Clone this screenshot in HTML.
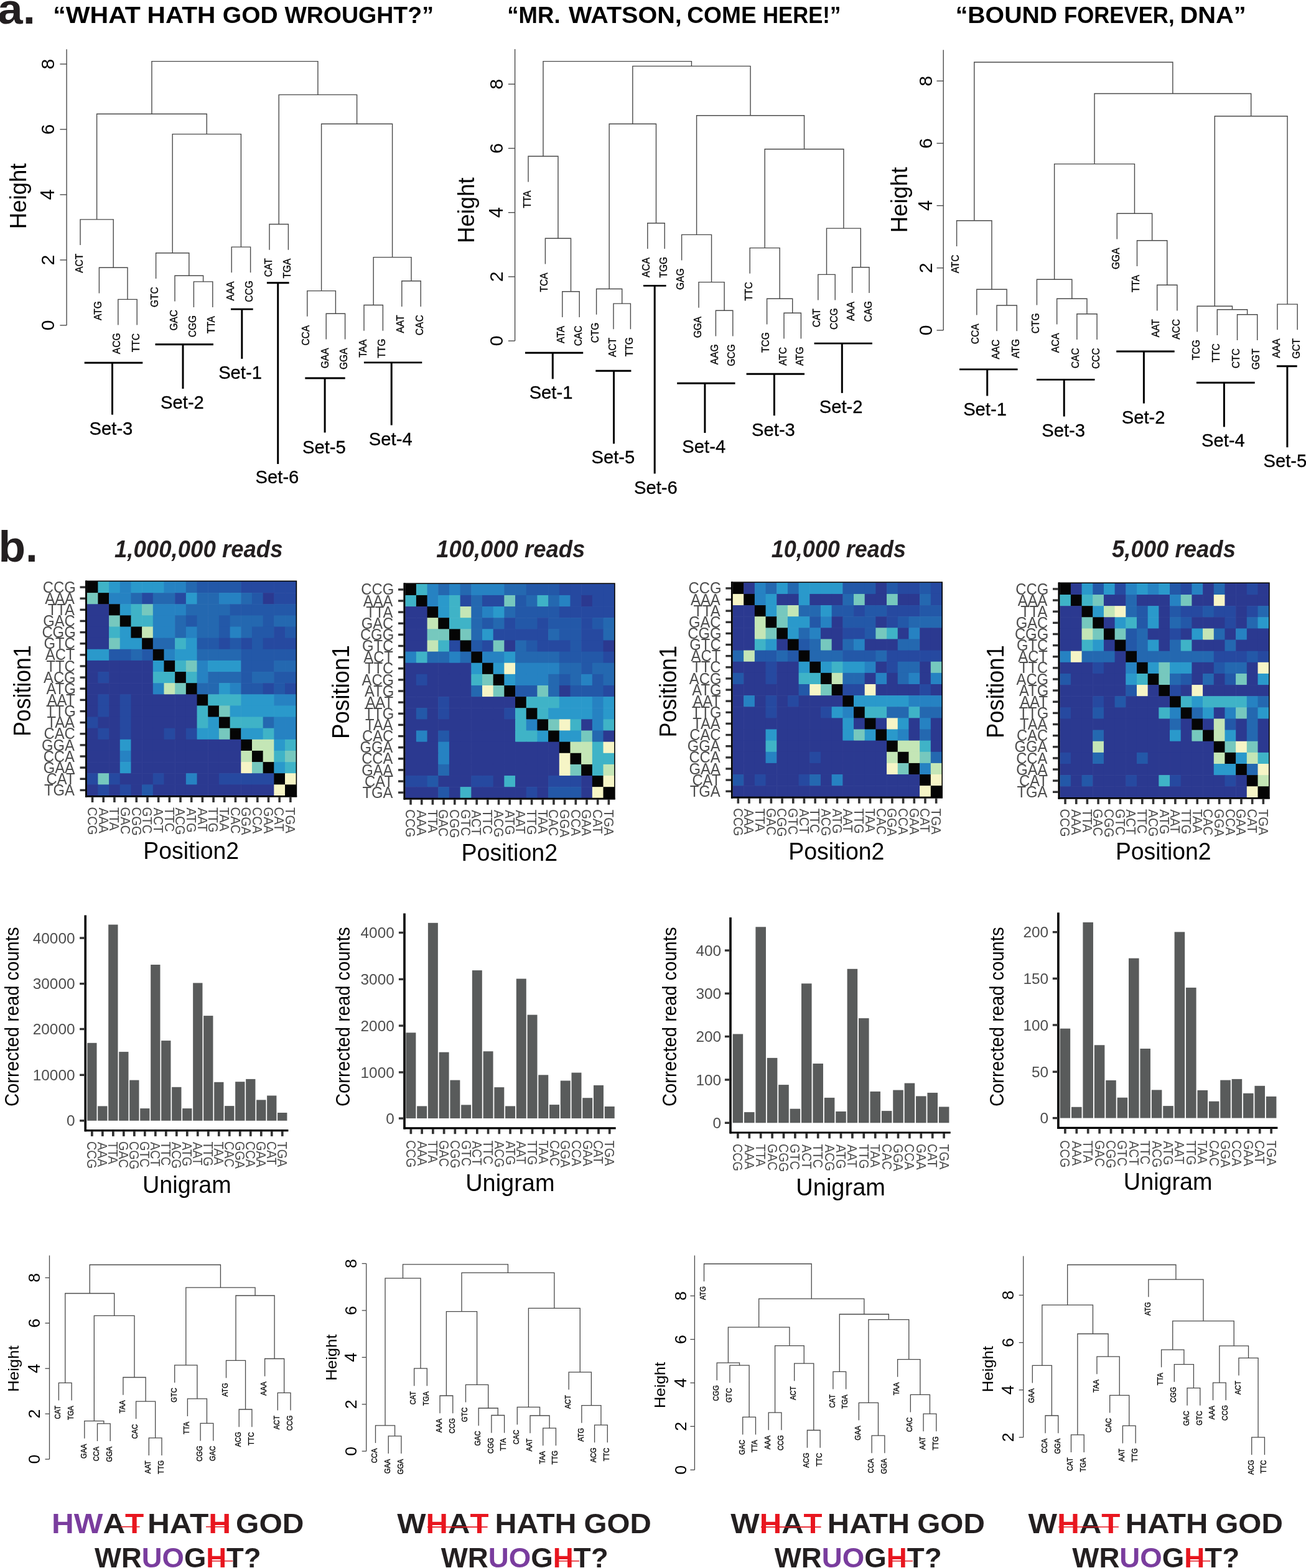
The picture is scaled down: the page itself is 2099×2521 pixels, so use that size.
<!DOCTYPE html>
<html><head><meta charset="utf-8"><title>Figure</title>
<style>html,body{margin:0;padding:0;background:#fff;} svg{display:block;}</style>
</head><body>
<svg width="2099" height="2521" viewBox="0 0 2099 2521">
<rect width="2099" height="2521" fill="#fff"/>
<text transform="translate(-3.68,37.80) scale(1.0469,1)" font-family="'Liberation Sans', Arial, sans-serif" font-weight="bold" font-style="normal" font-size="69.40" fill="#231f20">a.</text>
<text transform="translate(85.22,36.70) scale(1.0904,1)" font-family="'Liberation Sans', Arial, sans-serif" font-weight="bold" font-style="normal" font-size="37.67" fill="#000">“WHAT</text>
<text transform="translate(236.56,36.70) scale(1.0783,1)" font-family="'Liberation Sans', Arial, sans-serif" font-weight="bold" font-style="normal" font-size="37.67" fill="#000">HATH</text>
<text transform="translate(357.84,36.70) scale(1.0352,1)" font-family="'Liberation Sans', Arial, sans-serif" font-weight="bold" font-style="normal" font-size="37.67" fill="#000">GOD</text>
<text transform="translate(457.40,36.70) scale(0.9958,1)" font-family="'Liberation Sans', Arial, sans-serif" font-weight="bold" font-style="normal" font-size="37.67" fill="#000">WROUGHT?”</text>
<text transform="translate(815.35,36.70) scale(0.9698,1)" font-family="'Liberation Sans', Arial, sans-serif" font-weight="bold" font-style="normal" font-size="37.67" fill="#000">“MR.</text>
<text transform="translate(914.10,36.70) scale(1.0506,1)" font-family="'Liberation Sans', Arial, sans-serif" font-weight="bold" font-style="normal" font-size="37.67" fill="#000">WATSON,</text>
<text transform="translate(1104.21,36.70) scale(0.9872,1)" font-family="'Liberation Sans', Arial, sans-serif" font-weight="bold" font-style="normal" font-size="37.67" fill="#000">COME</text>
<text transform="translate(1226.06,36.70) scale(0.9203,1)" font-family="'Liberation Sans', Arial, sans-serif" font-weight="bold" font-style="normal" font-size="37.67" fill="#000">HERE!”</text>
<text transform="translate(1535.65,36.70) scale(1.0421,1)" font-family="'Liberation Sans', Arial, sans-serif" font-weight="bold" font-style="normal" font-size="37.67" fill="#000">“BOUND</text>
<text transform="translate(1709.95,36.70) scale(0.9226,1)" font-family="'Liberation Sans', Arial, sans-serif" font-weight="bold" font-style="normal" font-size="37.67" fill="#000">FOREVER,</text>
<text transform="translate(1896.41,36.70) scale(1.0576,1)" font-family="'Liberation Sans', Arial, sans-serif" font-weight="bold" font-style="normal" font-size="37.67" fill="#000">DNA”</text>
<line x1="107.10" y1="79.30" x2="107.10" y2="523.00" stroke="#4a4a4a" stroke-width="1.4" stroke-linecap="butt"/>
<line x1="96.40" y1="523.00" x2="107.10" y2="523.00" stroke="#4a4a4a" stroke-width="1.4" stroke-linecap="butt"/>
<text transform="translate(87.20,531.47) rotate(-90) scale(1.0000,1)" font-family="'Liberation Sans', Arial, sans-serif" font-weight="normal" font-style="normal" font-size="30.39" fill="#000">0</text>
<line x1="96.40" y1="418.00" x2="107.10" y2="418.00" stroke="#4a4a4a" stroke-width="1.4" stroke-linecap="butt"/>
<text transform="translate(87.20,426.43) rotate(-90) scale(1.0000,1)" font-family="'Liberation Sans', Arial, sans-serif" font-weight="normal" font-style="normal" font-size="30.39" fill="#000">2</text>
<line x1="96.40" y1="313.00" x2="107.10" y2="313.00" stroke="#4a4a4a" stroke-width="1.4" stroke-linecap="butt"/>
<text transform="translate(87.20,321.48) rotate(-90) scale(1.0000,1)" font-family="'Liberation Sans', Arial, sans-serif" font-weight="normal" font-style="normal" font-size="30.84" fill="#000">4</text>
<line x1="96.40" y1="208.00" x2="107.10" y2="208.00" stroke="#4a4a4a" stroke-width="1.4" stroke-linecap="butt"/>
<text transform="translate(87.20,216.55) rotate(-90) scale(1.0000,1)" font-family="'Liberation Sans', Arial, sans-serif" font-weight="normal" font-style="normal" font-size="30.39" fill="#000">6</text>
<line x1="96.40" y1="103.00" x2="107.10" y2="103.00" stroke="#4a4a4a" stroke-width="1.4" stroke-linecap="butt"/>
<text transform="translate(87.20,111.43) rotate(-90) scale(1.0000,1)" font-family="'Liberation Sans', Arial, sans-serif" font-weight="normal" font-style="normal" font-size="30.39" fill="#000">8</text>
<text transform="translate(41.75,368.22) rotate(-90) scale(0.9694,1)" font-family="'Liberation Sans', Arial, sans-serif" font-weight="normal" font-style="normal" font-size="37.73" fill="#000">Height</text>
<path d="M189.80,481.40V521.90M220.20,481.40V521.90M189.80,481.40H220.20M159.40,430.20V470.70M205.00,430.20V481.40M159.40,430.20H205.00M129.00,352.90V393.40M182.20,352.90V430.20M129.00,352.90H182.20M311.40,452.90V493.40M341.80,452.90V493.40M311.40,452.90H341.80M281.00,443.30V483.80M326.60,443.30V452.90M281.00,443.30H326.60M250.60,406.70V447.20M303.80,406.70V443.30M250.60,406.70H303.80M372.20,397.10V437.60M402.60,397.10V437.60M372.20,397.10H402.60M277.20,215.60V406.70M387.40,215.60V397.10M277.20,215.60H387.40M155.60,183.30V352.90M332.30,183.30V215.60M155.60,183.30H332.30M433.00,360.50V401.00M463.40,360.50V401.00M433.00,360.50H463.40M524.20,504.30V544.80M554.60,504.30V544.80M524.20,504.30H554.60M493.80,467.60V508.10M539.40,467.60V504.30M493.80,467.60H539.40M585.00,490.50V531.00M615.40,490.50V531.00M585.00,490.50H615.40M645.80,451.70V492.20M676.20,451.70V492.20M645.80,451.70H676.20M600.20,413.60V490.50M661.00,413.60V451.70M600.20,413.60H661.00M516.60,199.30V467.60M630.60,199.30V413.60M516.60,199.30H630.60M448.20,152.40V360.50M573.60,152.40V199.30M448.20,152.40H573.60M243.95,98.60V183.30M510.90,98.60V152.40M243.95,98.60H510.90" fill="none" stroke="#4a4a4a" stroke-width="1.4" stroke-linecap="square"/>
<text transform="translate(193.40,569.13) rotate(-90) scale(0.9190,1)" font-family="'Liberation Sans', Arial, sans-serif" font-weight="normal" font-style="normal" font-size="16.92" fill="#000" stroke="#000" stroke-width="0.35">ACG</text>
<text transform="translate(223.80,566.26) rotate(-90) scale(0.9190,1)" font-family="'Liberation Sans', Arial, sans-serif" font-weight="normal" font-style="normal" font-size="16.92" fill="#000" stroke="#000" stroke-width="0.35">TTC</text>
<text transform="translate(163.00,515.02) rotate(-90) scale(0.9190,1)" font-family="'Liberation Sans', Arial, sans-serif" font-weight="normal" font-style="normal" font-size="16.92" fill="#000" stroke="#000" stroke-width="0.35">ATG</text>
<text transform="translate(132.60,438.84) rotate(-90) scale(0.9190,1)" font-family="'Liberation Sans', Arial, sans-serif" font-weight="normal" font-style="normal" font-size="16.92" fill="#000" stroke="#000" stroke-width="0.35">ACT</text>
<text transform="translate(315.00,542.34) rotate(-90) scale(0.9190,1)" font-family="'Liberation Sans', Arial, sans-serif" font-weight="normal" font-style="normal" font-size="16.92" fill="#000" stroke="#000" stroke-width="0.35">CGG</text>
<text transform="translate(345.40,536.28) rotate(-90) scale(0.9058,1)" font-family="'Liberation Sans', Arial, sans-serif" font-weight="normal" font-style="normal" font-size="17.16" fill="#000" stroke="#000" stroke-width="0.35">TTA</text>
<text transform="translate(284.60,531.61) rotate(-90) scale(0.9190,1)" font-family="'Liberation Sans', Arial, sans-serif" font-weight="normal" font-style="normal" font-size="16.92" fill="#000" stroke="#000" stroke-width="0.35">GAC</text>
<text transform="translate(254.20,494.12) rotate(-90) scale(0.9190,1)" font-family="'Liberation Sans', Arial, sans-serif" font-weight="normal" font-style="normal" font-size="16.92" fill="#000" stroke="#000" stroke-width="0.35">GTC</text>
<text transform="translate(375.80,483.39) rotate(-90) scale(0.9058,1)" font-family="'Liberation Sans', Arial, sans-serif" font-weight="normal" font-style="normal" font-size="17.16" fill="#000" stroke="#000" stroke-width="0.35">AAA</text>
<text transform="translate(406.20,485.69) rotate(-90) scale(0.9190,1)" font-family="'Liberation Sans', Arial, sans-serif" font-weight="normal" font-style="normal" font-size="16.92" fill="#000" stroke="#000" stroke-width="0.35">CCG</text>
<text transform="translate(436.60,445.28) rotate(-90) scale(0.9190,1)" font-family="'Liberation Sans', Arial, sans-serif" font-weight="normal" font-style="normal" font-size="16.92" fill="#000" stroke="#000" stroke-width="0.35">CAT</text>
<text transform="translate(467.00,447.61) rotate(-90) scale(0.9190,1)" font-family="'Liberation Sans', Arial, sans-serif" font-weight="normal" font-style="normal" font-size="16.92" fill="#000" stroke="#000" stroke-width="0.35">TGA</text>
<text transform="translate(527.80,592.30) rotate(-90) scale(0.9190,1)" font-family="'Liberation Sans', Arial, sans-serif" font-weight="normal" font-style="normal" font-size="16.92" fill="#000" stroke="#000" stroke-width="0.35">GAA</text>
<text transform="translate(558.20,594.01) rotate(-90) scale(0.9190,1)" font-family="'Liberation Sans', Arial, sans-serif" font-weight="normal" font-style="normal" font-size="16.92" fill="#000" stroke="#000" stroke-width="0.35">GGA</text>
<text transform="translate(497.40,555.60) rotate(-90) scale(0.9190,1)" font-family="'Liberation Sans', Arial, sans-serif" font-weight="normal" font-style="normal" font-size="16.92" fill="#000" stroke="#000" stroke-width="0.35">CCA</text>
<text transform="translate(588.60,574.73) rotate(-90) scale(0.9058,1)" font-family="'Liberation Sans', Arial, sans-serif" font-weight="normal" font-style="normal" font-size="17.16" fill="#000" stroke="#000" stroke-width="0.35">TAA</text>
<text transform="translate(619.00,575.63) rotate(-90) scale(0.9190,1)" font-family="'Liberation Sans', Arial, sans-serif" font-weight="normal" font-style="normal" font-size="16.92" fill="#000" stroke="#000" stroke-width="0.35">TTG</text>
<text transform="translate(649.40,535.62) rotate(-90) scale(0.9058,1)" font-family="'Liberation Sans', Arial, sans-serif" font-weight="normal" font-style="normal" font-size="17.16" fill="#000" stroke="#000" stroke-width="0.35">AAT</text>
<text transform="translate(679.80,539.16) rotate(-90) scale(0.9190,1)" font-family="'Liberation Sans', Arial, sans-serif" font-weight="normal" font-style="normal" font-size="16.92" fill="#000" stroke="#000" stroke-width="0.35">CAC</text>
<line x1="827.60" y1="79.00" x2="827.60" y2="548.10" stroke="#4a4a4a" stroke-width="1.4" stroke-linecap="butt"/>
<line x1="816.90" y1="548.10" x2="827.60" y2="548.10" stroke="#4a4a4a" stroke-width="1.4" stroke-linecap="butt"/>
<text transform="translate(808.40,556.57) rotate(-90) scale(1.0000,1)" font-family="'Liberation Sans', Arial, sans-serif" font-weight="normal" font-style="normal" font-size="30.39" fill="#000">0</text>
<line x1="816.90" y1="444.90" x2="827.60" y2="444.90" stroke="#4a4a4a" stroke-width="1.4" stroke-linecap="butt"/>
<text transform="translate(808.40,453.33) rotate(-90) scale(1.0000,1)" font-family="'Liberation Sans', Arial, sans-serif" font-weight="normal" font-style="normal" font-size="30.39" fill="#000">2</text>
<line x1="816.90" y1="341.70" x2="827.60" y2="341.70" stroke="#4a4a4a" stroke-width="1.4" stroke-linecap="butt"/>
<text transform="translate(808.40,350.18) rotate(-90) scale(1.0000,1)" font-family="'Liberation Sans', Arial, sans-serif" font-weight="normal" font-style="normal" font-size="30.84" fill="#000">4</text>
<line x1="816.90" y1="238.50" x2="827.60" y2="238.50" stroke="#4a4a4a" stroke-width="1.4" stroke-linecap="butt"/>
<text transform="translate(808.40,247.05) rotate(-90) scale(1.0000,1)" font-family="'Liberation Sans', Arial, sans-serif" font-weight="normal" font-style="normal" font-size="30.39" fill="#000">6</text>
<line x1="816.90" y1="135.30" x2="827.60" y2="135.30" stroke="#4a4a4a" stroke-width="1.4" stroke-linecap="butt"/>
<text transform="translate(808.40,143.73) rotate(-90) scale(1.0000,1)" font-family="'Liberation Sans', Arial, sans-serif" font-weight="normal" font-style="normal" font-size="30.39" fill="#000">8</text>
<text transform="translate(761.85,391.02) rotate(-90) scale(0.9694,1)" font-family="'Liberation Sans', Arial, sans-serif" font-weight="normal" font-style="normal" font-size="37.73" fill="#000">Height</text>
<path d="M903.80,468.80V509.30M931.20,468.80V509.30M903.80,468.80H931.20M876.40,383.30V423.80M917.50,383.30V468.80M876.40,383.30H917.50M849.00,251.20V291.70M896.95,251.20V383.30M849.00,251.20H896.95M986.00,488.10V528.60M1013.40,488.10V528.60M986.00,488.10H1013.40M958.60,464.50V505.00M999.70,464.50V488.10M958.60,464.50H999.70M1040.80,358.80V399.30M1068.20,358.80V399.30M1040.80,358.80H1068.20M979.15,199.30V464.50M1054.50,199.30V358.80M979.15,199.30H1054.50M1150.40,499.30V539.80M1177.80,499.30V539.80M1150.40,499.30H1177.80M1123.00,453.60V494.10M1164.10,453.60V499.30M1123.00,453.60H1164.10M1095.60,377.40V417.90M1143.55,377.40V453.60M1095.60,377.40H1143.55M1260.00,503.30V543.80M1287.40,503.30V543.80M1260.00,503.30H1287.40M1232.60,480.20V520.70M1273.70,480.20V503.30M1232.60,480.20H1273.70M1205.20,398.60V439.10M1253.15,398.60V480.20M1205.20,398.60H1253.15M1314.80,441.40V481.90M1342.20,441.40V481.90M1314.80,441.40H1342.20M1369.60,429.80V470.30M1397.00,429.80V470.30M1369.60,429.80H1397.00M1328.50,367.10V441.40M1383.30,367.10V429.80M1328.50,367.10H1383.30M1229.18,239.80V398.60M1355.90,239.80V367.10M1229.18,239.80H1355.90M1119.57,185.70V377.40M1292.54,185.70V239.80M1119.57,185.70H1292.54M1016.83,106.40V199.30M1206.06,106.40V185.70M1016.83,106.40H1206.06M872.98,98.60V251.20M1111.44,98.60V106.40M872.98,98.60H1111.44" fill="none" stroke="#4a4a4a" stroke-width="1.4" stroke-linecap="square"/>
<text transform="translate(907.40,551.91) rotate(-90) scale(0.9058,1)" font-family="'Liberation Sans', Arial, sans-serif" font-weight="normal" font-style="normal" font-size="17.16" fill="#000" stroke="#000" stroke-width="0.35">ATA</text>
<text transform="translate(934.80,556.26) rotate(-90) scale(0.9190,1)" font-family="'Liberation Sans', Arial, sans-serif" font-weight="normal" font-style="normal" font-size="16.92" fill="#000" stroke="#000" stroke-width="0.35">CAC</text>
<text transform="translate(880.00,469.55) rotate(-90) scale(0.9190,1)" font-family="'Liberation Sans', Arial, sans-serif" font-weight="normal" font-style="normal" font-size="16.92" fill="#000" stroke="#000" stroke-width="0.35">TCA</text>
<text transform="translate(852.60,334.58) rotate(-90) scale(0.9058,1)" font-family="'Liberation Sans', Arial, sans-serif" font-weight="normal" font-style="normal" font-size="17.16" fill="#000" stroke="#000" stroke-width="0.35">TTA</text>
<text transform="translate(989.60,574.04) rotate(-90) scale(0.9190,1)" font-family="'Liberation Sans', Arial, sans-serif" font-weight="normal" font-style="normal" font-size="16.92" fill="#000" stroke="#000" stroke-width="0.35">ACT</text>
<text transform="translate(1017.00,573.23) rotate(-90) scale(0.9190,1)" font-family="'Liberation Sans', Arial, sans-serif" font-weight="normal" font-style="normal" font-size="16.92" fill="#000" stroke="#000" stroke-width="0.35">TTG</text>
<text transform="translate(962.20,551.34) rotate(-90) scale(0.9190,1)" font-family="'Liberation Sans', Arial, sans-serif" font-weight="normal" font-style="normal" font-size="16.92" fill="#000" stroke="#000" stroke-width="0.35">CTG</text>
<text transform="translate(1044.40,445.95) rotate(-90) scale(0.9190,1)" font-family="'Liberation Sans', Arial, sans-serif" font-weight="normal" font-style="normal" font-size="16.92" fill="#000" stroke="#000" stroke-width="0.35">ACA</text>
<text transform="translate(1071.80,446.49) rotate(-90) scale(0.9190,1)" font-family="'Liberation Sans', Arial, sans-serif" font-weight="normal" font-style="normal" font-size="16.92" fill="#000" stroke="#000" stroke-width="0.35">TGG</text>
<text transform="translate(1154.00,586.18) rotate(-90) scale(0.9190,1)" font-family="'Liberation Sans', Arial, sans-serif" font-weight="normal" font-style="normal" font-size="16.92" fill="#000" stroke="#000" stroke-width="0.35">AAG</text>
<text transform="translate(1181.40,588.74) rotate(-90) scale(0.9190,1)" font-family="'Liberation Sans', Arial, sans-serif" font-weight="normal" font-style="normal" font-size="16.92" fill="#000" stroke="#000" stroke-width="0.35">GCG</text>
<text transform="translate(1126.60,543.31) rotate(-90) scale(0.9190,1)" font-family="'Liberation Sans', Arial, sans-serif" font-weight="normal" font-style="normal" font-size="16.92" fill="#000" stroke="#000" stroke-width="0.35">GGA</text>
<text transform="translate(1099.20,465.99) rotate(-90) scale(0.9190,1)" font-family="'Liberation Sans', Arial, sans-serif" font-weight="normal" font-style="normal" font-size="16.92" fill="#000" stroke="#000" stroke-width="0.35">GAG</text>
<text transform="translate(1263.60,587.84) rotate(-90) scale(0.9190,1)" font-family="'Liberation Sans', Arial, sans-serif" font-weight="normal" font-style="normal" font-size="16.92" fill="#000" stroke="#000" stroke-width="0.35">ATC</text>
<text transform="translate(1291.00,588.12) rotate(-90) scale(0.9190,1)" font-family="'Liberation Sans', Arial, sans-serif" font-weight="normal" font-style="normal" font-size="16.92" fill="#000" stroke="#000" stroke-width="0.35">ATG</text>
<text transform="translate(1236.20,567.04) rotate(-90) scale(0.9190,1)" font-family="'Liberation Sans', Arial, sans-serif" font-weight="normal" font-style="normal" font-size="16.92" fill="#000" stroke="#000" stroke-width="0.35">TCG</text>
<text transform="translate(1208.80,483.46) rotate(-90) scale(0.9190,1)" font-family="'Liberation Sans', Arial, sans-serif" font-weight="normal" font-style="normal" font-size="16.92" fill="#000" stroke="#000" stroke-width="0.35">TTC</text>
<text transform="translate(1318.40,526.18) rotate(-90) scale(0.9190,1)" font-family="'Liberation Sans', Arial, sans-serif" font-weight="normal" font-style="normal" font-size="16.92" fill="#000" stroke="#000" stroke-width="0.35">CAT</text>
<text transform="translate(1345.80,529.99) rotate(-90) scale(0.9190,1)" font-family="'Liberation Sans', Arial, sans-serif" font-weight="normal" font-style="normal" font-size="16.92" fill="#000" stroke="#000" stroke-width="0.35">CCG</text>
<text transform="translate(1373.20,516.09) rotate(-90) scale(0.9058,1)" font-family="'Liberation Sans', Arial, sans-serif" font-weight="normal" font-style="normal" font-size="17.16" fill="#000" stroke="#000" stroke-width="0.35">AAA</text>
<text transform="translate(1400.60,517.53) rotate(-90) scale(0.9190,1)" font-family="'Liberation Sans', Arial, sans-serif" font-weight="normal" font-style="normal" font-size="16.92" fill="#000" stroke="#000" stroke-width="0.35">CAG</text>
<line x1="1516.20" y1="80.20" x2="1516.20" y2="531.00" stroke="#4a4a4a" stroke-width="1.4" stroke-linecap="butt"/>
<line x1="1505.50" y1="531.00" x2="1516.20" y2="531.00" stroke="#4a4a4a" stroke-width="1.4" stroke-linecap="butt"/>
<text transform="translate(1497.80,539.47) rotate(-90) scale(1.0000,1)" font-family="'Liberation Sans', Arial, sans-serif" font-weight="normal" font-style="normal" font-size="30.39" fill="#000">0</text>
<line x1="1505.50" y1="430.80" x2="1516.20" y2="430.80" stroke="#4a4a4a" stroke-width="1.4" stroke-linecap="butt"/>
<text transform="translate(1497.80,439.23) rotate(-90) scale(1.0000,1)" font-family="'Liberation Sans', Arial, sans-serif" font-weight="normal" font-style="normal" font-size="30.39" fill="#000">2</text>
<line x1="1505.50" y1="330.60" x2="1516.20" y2="330.60" stroke="#4a4a4a" stroke-width="1.4" stroke-linecap="butt"/>
<text transform="translate(1497.80,339.08) rotate(-90) scale(1.0000,1)" font-family="'Liberation Sans', Arial, sans-serif" font-weight="normal" font-style="normal" font-size="30.84" fill="#000">4</text>
<line x1="1505.50" y1="230.40" x2="1516.20" y2="230.40" stroke="#4a4a4a" stroke-width="1.4" stroke-linecap="butt"/>
<text transform="translate(1497.80,238.95) rotate(-90) scale(1.0000,1)" font-family="'Liberation Sans', Arial, sans-serif" font-weight="normal" font-style="normal" font-size="30.39" fill="#000">6</text>
<line x1="1505.50" y1="130.20" x2="1516.20" y2="130.20" stroke="#4a4a4a" stroke-width="1.4" stroke-linecap="butt"/>
<text transform="translate(1497.80,138.63) rotate(-90) scale(1.0000,1)" font-family="'Liberation Sans', Arial, sans-serif" font-weight="normal" font-style="normal" font-size="30.39" fill="#000">8</text>
<text transform="translate(1458.35,374.32) rotate(-90) scale(0.9694,1)" font-family="'Liberation Sans', Arial, sans-serif" font-weight="normal" font-style="normal" font-size="37.73" fill="#000">Height</text>
<path d="M1602.02,491.00V531.50M1634.23,491.00V531.50M1602.02,491.00H1634.23M1569.81,465.20V505.70M1618.12,465.20V491.00M1569.81,465.20H1618.12M1537.60,354.80V395.30M1593.97,354.80V465.20M1537.60,354.80H1593.97M1730.86,504.80V545.30M1763.07,504.80V545.30M1730.86,504.80H1763.07M1698.65,480.20V520.70M1746.96,480.20V504.80M1698.65,480.20H1746.96M1666.44,449.30V489.80M1722.81,449.30V480.20M1666.44,449.30H1722.81M1859.70,458.30V498.80M1891.91,458.30V498.80M1859.70,458.30H1891.91M1827.49,386.70V427.20M1875.80,386.70V458.30M1827.49,386.70H1875.80M1795.28,343.30V383.80M1851.65,343.30V386.70M1795.28,343.30H1851.65M1694.62,263.60V449.30M1823.46,263.60V343.30M1694.62,263.60H1823.46M1988.54,505.70V546.20M2020.75,505.70V546.20M1988.54,505.70H2020.75M1956.33,497.70V538.20M2004.64,497.70V505.70M1956.33,497.70H2004.64M1924.12,492.20V532.70M1980.49,492.20V497.70M1924.12,492.20H1980.49M2052.96,489.10V529.60M2085.17,489.10V529.60M2052.96,489.10H2085.17M1952.30,186.70V492.20M2069.07,186.70V489.10M1952.30,186.70H2069.07M1759.04,150.50V263.60M2010.68,150.50V186.70M1759.04,150.50H2010.68M1565.78,100.00V354.80M1884.86,100.00V150.50M1565.78,100.00H1884.86" fill="none" stroke="#4a4a4a" stroke-width="1.4" stroke-linecap="square"/>
<text transform="translate(1605.62,577.60) rotate(-90) scale(0.9190,1)" font-family="'Liberation Sans', Arial, sans-serif" font-weight="normal" font-style="normal" font-size="16.92" fill="#000" stroke="#000" stroke-width="0.35">AAC</text>
<text transform="translate(1637.83,575.82) rotate(-90) scale(0.9190,1)" font-family="'Liberation Sans', Arial, sans-serif" font-weight="normal" font-style="normal" font-size="16.92" fill="#000" stroke="#000" stroke-width="0.35">ATG</text>
<text transform="translate(1573.41,553.20) rotate(-90) scale(0.9190,1)" font-family="'Liberation Sans', Arial, sans-serif" font-weight="normal" font-style="normal" font-size="16.92" fill="#000" stroke="#000" stroke-width="0.35">CCA</text>
<text transform="translate(1541.20,439.34) rotate(-90) scale(0.9190,1)" font-family="'Liberation Sans', Arial, sans-serif" font-weight="normal" font-style="normal" font-size="16.92" fill="#000" stroke="#000" stroke-width="0.35">ATC</text>
<text transform="translate(1734.46,592.26) rotate(-90) scale(0.9190,1)" font-family="'Liberation Sans', Arial, sans-serif" font-weight="normal" font-style="normal" font-size="16.92" fill="#000" stroke="#000" stroke-width="0.35">CAC</text>
<text transform="translate(1766.67,593.11) rotate(-90) scale(0.9190,1)" font-family="'Liberation Sans', Arial, sans-serif" font-weight="normal" font-style="normal" font-size="16.92" fill="#000" stroke="#000" stroke-width="0.35">CCC</text>
<text transform="translate(1702.25,567.35) rotate(-90) scale(0.9190,1)" font-family="'Liberation Sans', Arial, sans-serif" font-weight="normal" font-style="normal" font-size="16.92" fill="#000" stroke="#000" stroke-width="0.35">ACA</text>
<text transform="translate(1670.04,536.14) rotate(-90) scale(0.9190,1)" font-family="'Liberation Sans', Arial, sans-serif" font-weight="normal" font-style="normal" font-size="16.92" fill="#000" stroke="#000" stroke-width="0.35">CTG</text>
<text transform="translate(1863.30,542.22) rotate(-90) scale(0.9058,1)" font-family="'Liberation Sans', Arial, sans-serif" font-weight="normal" font-style="normal" font-size="17.16" fill="#000" stroke="#000" stroke-width="0.35">AAT</text>
<text transform="translate(1895.51,545.76) rotate(-90) scale(0.9190,1)" font-family="'Liberation Sans', Arial, sans-serif" font-weight="normal" font-style="normal" font-size="16.92" fill="#000" stroke="#000" stroke-width="0.35">ACC</text>
<text transform="translate(1831.09,470.08) rotate(-90) scale(0.9058,1)" font-family="'Liberation Sans', Arial, sans-serif" font-weight="normal" font-style="normal" font-size="17.16" fill="#000" stroke="#000" stroke-width="0.35">TTA</text>
<text transform="translate(1798.88,433.01) rotate(-90) scale(0.9190,1)" font-family="'Liberation Sans', Arial, sans-serif" font-weight="normal" font-style="normal" font-size="16.92" fill="#000" stroke="#000" stroke-width="0.35">GGA</text>
<text transform="translate(1992.14,592.27) rotate(-90) scale(0.9190,1)" font-family="'Liberation Sans', Arial, sans-serif" font-weight="normal" font-style="normal" font-size="16.92" fill="#000" stroke="#000" stroke-width="0.35">CTC</text>
<text transform="translate(2024.35,594.21) rotate(-90) scale(0.9190,1)" font-family="'Liberation Sans', Arial, sans-serif" font-weight="normal" font-style="normal" font-size="16.92" fill="#000" stroke="#000" stroke-width="0.35">GGT</text>
<text transform="translate(1959.93,582.56) rotate(-90) scale(0.9190,1)" font-family="'Liberation Sans', Arial, sans-serif" font-weight="normal" font-style="normal" font-size="16.92" fill="#000" stroke="#000" stroke-width="0.35">TTC</text>
<text transform="translate(1927.72,579.04) rotate(-90) scale(0.9190,1)" font-family="'Liberation Sans', Arial, sans-serif" font-weight="normal" font-style="normal" font-size="16.92" fill="#000" stroke="#000" stroke-width="0.35">TCG</text>
<text transform="translate(2056.56,575.39) rotate(-90) scale(0.9058,1)" font-family="'Liberation Sans', Arial, sans-serif" font-weight="normal" font-style="normal" font-size="17.16" fill="#000" stroke="#000" stroke-width="0.35">AAA</text>
<text transform="translate(2088.77,576.75) rotate(-90) scale(0.9190,1)" font-family="'Liberation Sans', Arial, sans-serif" font-weight="normal" font-style="normal" font-size="16.92" fill="#000" stroke="#000" stroke-width="0.35">GCT</text>
<line x1="135.70" y1="583.30" x2="229.30" y2="583.30" stroke="#000" stroke-width="2.9" stroke-linecap="butt"/>
<line x1="180.50" y1="583.30" x2="180.50" y2="666.70" stroke="#000" stroke-width="3.0" stroke-linecap="butt"/>
<text transform="translate(143.56,698.80) scale(0.9700,1)" font-family="'Liberation Sans', Arial, sans-serif" font-weight="normal" font-style="normal" font-size="30.11" fill="#000" stroke="#000" stroke-width="0.3">Set-3</text>
<line x1="249.50" y1="553.80" x2="342.90" y2="553.80" stroke="#000" stroke-width="2.9" stroke-linecap="butt"/>
<line x1="294.00" y1="553.80" x2="294.00" y2="625.00" stroke="#000" stroke-width="3.0" stroke-linecap="butt"/>
<text transform="translate(258.07,657.00) scale(0.9700,1)" font-family="'Liberation Sans', Arial, sans-serif" font-weight="normal" font-style="normal" font-size="30.11" fill="#000" stroke="#000" stroke-width="0.3">Set-2</text>
<line x1="371.00" y1="497.10" x2="406.70" y2="497.10" stroke="#000" stroke-width="2.9" stroke-linecap="butt"/>
<line x1="388.80" y1="497.10" x2="388.80" y2="576.90" stroke="#000" stroke-width="3.0" stroke-linecap="butt"/>
<text transform="translate(351.14,609.00) scale(0.9700,1)" font-family="'Liberation Sans', Arial, sans-serif" font-weight="normal" font-style="normal" font-size="30.11" fill="#000" stroke="#000" stroke-width="0.3">Set-1</text>
<line x1="428.90" y1="454.80" x2="464.60" y2="454.80" stroke="#000" stroke-width="2.9" stroke-linecap="butt"/>
<line x1="446.70" y1="454.80" x2="446.70" y2="745.90" stroke="#000" stroke-width="3.0" stroke-linecap="butt"/>
<text transform="translate(410.56,777.00) scale(0.9700,1)" font-family="'Liberation Sans', Arial, sans-serif" font-weight="normal" font-style="normal" font-size="30.11" fill="#000" stroke="#000" stroke-width="0.3">Set-6</text>
<line x1="490.30" y1="608.00" x2="554.70" y2="608.00" stroke="#000" stroke-width="2.9" stroke-linecap="butt"/>
<line x1="522.10" y1="608.00" x2="522.10" y2="695.50" stroke="#000" stroke-width="3.0" stroke-linecap="butt"/>
<text transform="translate(486.03,728.50) scale(0.9700,1)" font-family="'Liberation Sans', Arial, sans-serif" font-weight="normal" font-style="normal" font-size="30.11" fill="#000" stroke="#000" stroke-width="0.3">Set-5</text>
<line x1="584.90" y1="582.90" x2="678.30" y2="582.90" stroke="#000" stroke-width="2.9" stroke-linecap="butt"/>
<line x1="629.20" y1="582.90" x2="629.20" y2="683.60" stroke="#000" stroke-width="3.0" stroke-linecap="butt"/>
<text transform="translate(592.85,715.70) scale(0.9700,1)" font-family="'Liberation Sans', Arial, sans-serif" font-weight="normal" font-style="normal" font-size="30.11" fill="#000" stroke="#000" stroke-width="0.3">Set-4</text>
<line x1="844.00" y1="567.20" x2="937.20" y2="567.20" stroke="#000" stroke-width="2.9" stroke-linecap="butt"/>
<line x1="888.30" y1="567.20" x2="888.30" y2="609.30" stroke="#000" stroke-width="3.0" stroke-linecap="butt"/>
<text transform="translate(850.64,641.30) scale(0.9700,1)" font-family="'Liberation Sans', Arial, sans-serif" font-weight="normal" font-style="normal" font-size="30.11" fill="#000" stroke="#000" stroke-width="0.3">Set-1</text>
<line x1="957.30" y1="596.20" x2="1014.40" y2="596.20" stroke="#000" stroke-width="2.9" stroke-linecap="butt"/>
<line x1="986.50" y1="596.20" x2="986.50" y2="713.40" stroke="#000" stroke-width="3.0" stroke-linecap="butt"/>
<text transform="translate(950.43,745.20) scale(0.9700,1)" font-family="'Liberation Sans', Arial, sans-serif" font-weight="normal" font-style="normal" font-size="30.11" fill="#000" stroke="#000" stroke-width="0.3">Set-5</text>
<line x1="1034.00" y1="459.40" x2="1070.60" y2="459.40" stroke="#000" stroke-width="2.9" stroke-linecap="butt"/>
<line x1="1052.20" y1="459.40" x2="1052.20" y2="761.50" stroke="#000" stroke-width="3.0" stroke-linecap="butt"/>
<text transform="translate(1018.96,794.10) scale(0.9700,1)" font-family="'Liberation Sans', Arial, sans-serif" font-weight="normal" font-style="normal" font-size="30.11" fill="#000" stroke="#000" stroke-width="0.3">Set-6</text>
<line x1="1088.20" y1="616.30" x2="1181.50" y2="616.30" stroke="#000" stroke-width="2.9" stroke-linecap="butt"/>
<line x1="1132.90" y1="616.30" x2="1132.90" y2="696.00" stroke="#000" stroke-width="3.0" stroke-linecap="butt"/>
<text transform="translate(1096.35,728.20) scale(0.9700,1)" font-family="'Liberation Sans', Arial, sans-serif" font-weight="normal" font-style="normal" font-size="30.11" fill="#000" stroke="#000" stroke-width="0.3">Set-4</text>
<line x1="1199.60" y1="601.30" x2="1293.00" y2="601.30" stroke="#000" stroke-width="2.9" stroke-linecap="butt"/>
<line x1="1244.40" y1="601.30" x2="1244.40" y2="668.20" stroke="#000" stroke-width="3.0" stroke-linecap="butt"/>
<text transform="translate(1208.06,700.90) scale(0.9700,1)" font-family="'Liberation Sans', Arial, sans-serif" font-weight="normal" font-style="normal" font-size="30.11" fill="#000" stroke="#000" stroke-width="0.3">Set-3</text>
<line x1="1308.60" y1="552.10" x2="1401.90" y2="552.10" stroke="#000" stroke-width="2.9" stroke-linecap="butt"/>
<line x1="1353.30" y1="552.10" x2="1353.30" y2="631.90" stroke="#000" stroke-width="3.0" stroke-linecap="butt"/>
<text transform="translate(1316.67,664.00) scale(0.9700,1)" font-family="'Liberation Sans', Arial, sans-serif" font-weight="normal" font-style="normal" font-size="30.11" fill="#000" stroke="#000" stroke-width="0.3">Set-2</text>
<line x1="1542.00" y1="593.90" x2="1635.60" y2="593.90" stroke="#000" stroke-width="2.9" stroke-linecap="butt"/>
<line x1="1586.70" y1="593.90" x2="1586.70" y2="636.50" stroke="#000" stroke-width="3.0" stroke-linecap="butt"/>
<text transform="translate(1548.14,668.20) scale(0.9700,1)" font-family="'Liberation Sans', Arial, sans-serif" font-weight="normal" font-style="normal" font-size="30.11" fill="#000" stroke="#000" stroke-width="0.3">Set-1</text>
<line x1="1666.00" y1="610.40" x2="1759.50" y2="610.40" stroke="#000" stroke-width="2.9" stroke-linecap="butt"/>
<line x1="1710.20" y1="610.40" x2="1710.20" y2="669.60" stroke="#000" stroke-width="3.0" stroke-linecap="butt"/>
<text transform="translate(1674.16,701.70) scale(0.9700,1)" font-family="'Liberation Sans', Arial, sans-serif" font-weight="normal" font-style="normal" font-size="30.11" fill="#000" stroke="#000" stroke-width="0.3">Set-3</text>
<line x1="1794.20" y1="565.00" x2="1887.70" y2="565.00" stroke="#000" stroke-width="2.9" stroke-linecap="butt"/>
<line x1="1838.40" y1="565.00" x2="1838.40" y2="648.60" stroke="#000" stroke-width="3.0" stroke-linecap="butt"/>
<text transform="translate(1802.67,680.90) scale(0.9700,1)" font-family="'Liberation Sans', Arial, sans-serif" font-weight="normal" font-style="normal" font-size="30.11" fill="#000" stroke="#000" stroke-width="0.3">Set-2</text>
<line x1="1922.90" y1="615.20" x2="2016.70" y2="615.20" stroke="#000" stroke-width="2.9" stroke-linecap="butt"/>
<line x1="1967.40" y1="615.20" x2="1967.40" y2="686.40" stroke="#000" stroke-width="3.0" stroke-linecap="butt"/>
<text transform="translate(1930.95,718.30) scale(0.9700,1)" font-family="'Liberation Sans', Arial, sans-serif" font-weight="normal" font-style="normal" font-size="30.11" fill="#000" stroke="#000" stroke-width="0.3">Set-4</text>
<line x1="2051.90" y1="588.70" x2="2084.70" y2="588.70" stroke="#000" stroke-width="2.9" stroke-linecap="butt"/>
<line x1="2068.90" y1="588.70" x2="2068.90" y2="719.20" stroke="#000" stroke-width="3.0" stroke-linecap="butt"/>
<text transform="translate(2030.43,751.10) scale(0.9700,1)" font-family="'Liberation Sans', Arial, sans-serif" font-weight="normal" font-style="normal" font-size="30.11" fill="#000" stroke="#000" stroke-width="0.3">Set-5</text>
<text transform="translate(-2.53,902.50) scale(1.0230,1)" font-family="'Liberation Sans', Arial, sans-serif" font-weight="bold" font-style="normal" font-size="69.66" fill="#231f20">b.</text>
<text transform="translate(183.95,896.20) scale(0.9277,1)" font-family="'Liberation Sans', Arial, sans-serif" font-weight="bold" font-style="italic" font-size="39.45" fill="#231f20">1,000,000 reads</text>
<text transform="translate(701.15,896.20) scale(0.9241,1)" font-family="'Liberation Sans', Arial, sans-serif" font-weight="bold" font-style="italic" font-size="39.45" fill="#231f20">100,000 reads</text>
<text transform="translate(1239.66,896.20) scale(0.9131,1)" font-family="'Liberation Sans', Arial, sans-serif" font-weight="bold" font-style="italic" font-size="39.45" fill="#231f20">10,000 reads</text>
<text transform="translate(1787.03,896.20) scale(0.9258,1)" font-family="'Liberation Sans', Arial, sans-serif" font-weight="bold" font-style="italic" font-size="39.45" fill="#231f20">5,000 reads</text>
<rect x="139.70" y="935.00" width="18.28" height="18.73" fill="#050505"/>
<rect x="157.38" y="935.00" width="18.28" height="18.73" fill="#3fb3c7"/>
<rect x="175.07" y="935.00" width="18.28" height="18.73" fill="#2a99cb"/>
<rect x="192.75" y="935.00" width="18.28" height="18.73" fill="#2682c2"/>
<rect x="210.44" y="935.00" width="18.28" height="18.73" fill="#2a99cb"/>
<rect x="228.12" y="935.00" width="18.28" height="18.73" fill="#2a99cb"/>
<rect x="245.81" y="935.00" width="18.28" height="18.73" fill="#2a99cb"/>
<rect x="263.49" y="935.00" width="18.28" height="18.73" fill="#2682c2"/>
<rect x="281.17" y="935.00" width="18.28" height="18.73" fill="#2682c2"/>
<rect x="298.86" y="935.00" width="18.28" height="18.73" fill="#2468b0"/>
<rect x="316.54" y="935.00" width="18.28" height="18.73" fill="#2358a8"/>
<rect x="334.23" y="935.00" width="18.28" height="18.73" fill="#2358a8"/>
<rect x="351.91" y="935.00" width="18.28" height="18.73" fill="#2358a8"/>
<rect x="369.59" y="935.00" width="18.28" height="18.73" fill="#2358a8"/>
<rect x="387.28" y="935.00" width="18.28" height="18.73" fill="#2649a0"/>
<rect x="404.96" y="935.00" width="18.28" height="18.73" fill="#2649a0"/>
<rect x="422.65" y="935.00" width="18.28" height="18.73" fill="#2649a0"/>
<rect x="440.33" y="935.00" width="18.28" height="18.73" fill="#2649a0"/>
<rect x="458.02" y="935.00" width="18.28" height="18.73" fill="#2649a0"/>
<rect x="139.70" y="953.13" width="18.28" height="18.73" fill="#76c8be"/>
<rect x="157.38" y="953.13" width="18.28" height="18.73" fill="#050505"/>
<rect x="175.07" y="953.13" width="18.28" height="18.73" fill="#2682c2"/>
<rect x="192.75" y="953.13" width="18.28" height="18.73" fill="#2682c2"/>
<rect x="210.44" y="953.13" width="18.28" height="18.73" fill="#2468b0"/>
<rect x="228.12" y="953.13" width="18.28" height="18.73" fill="#2649a0"/>
<rect x="245.81" y="953.13" width="18.28" height="18.73" fill="#2468b0"/>
<rect x="263.49" y="953.13" width="18.28" height="18.73" fill="#2468b0"/>
<rect x="281.17" y="953.13" width="18.28" height="18.73" fill="#2649a0"/>
<rect x="298.86" y="953.13" width="18.28" height="18.73" fill="#2a99cb"/>
<rect x="316.54" y="953.13" width="18.28" height="18.73" fill="#2468b0"/>
<rect x="334.23" y="953.13" width="18.28" height="18.73" fill="#2468b0"/>
<rect x="351.91" y="953.13" width="18.28" height="18.73" fill="#2682c2"/>
<rect x="369.59" y="953.13" width="18.28" height="18.73" fill="#2682c2"/>
<rect x="387.28" y="953.13" width="18.28" height="18.73" fill="#2468b0"/>
<rect x="404.96" y="953.13" width="18.28" height="18.73" fill="#2358a8"/>
<rect x="422.65" y="953.13" width="18.28" height="18.73" fill="#2b3990"/>
<rect x="440.33" y="953.13" width="18.28" height="18.73" fill="#2649a0"/>
<rect x="458.02" y="953.13" width="18.28" height="18.73" fill="#2649a0"/>
<rect x="139.70" y="971.26" width="18.28" height="18.73" fill="#2b3990"/>
<rect x="157.38" y="971.26" width="18.28" height="18.73" fill="#2b3990"/>
<rect x="175.07" y="971.26" width="18.28" height="18.73" fill="#050505"/>
<rect x="192.75" y="971.26" width="18.28" height="18.73" fill="#2a99cb"/>
<rect x="210.44" y="971.26" width="18.28" height="18.73" fill="#3fb3c7"/>
<rect x="228.12" y="971.26" width="18.28" height="18.73" fill="#76c8be"/>
<rect x="245.81" y="971.26" width="18.28" height="18.73" fill="#2682c2"/>
<rect x="263.49" y="971.26" width="18.28" height="18.73" fill="#2682c2"/>
<rect x="281.17" y="971.26" width="18.28" height="18.73" fill="#2682c2"/>
<rect x="298.86" y="971.26" width="18.28" height="18.73" fill="#2468b0"/>
<rect x="316.54" y="971.26" width="18.28" height="18.73" fill="#2468b0"/>
<rect x="334.23" y="971.26" width="18.28" height="18.73" fill="#2468b0"/>
<rect x="351.91" y="971.26" width="18.28" height="18.73" fill="#2468b0"/>
<rect x="369.59" y="971.26" width="18.28" height="18.73" fill="#2358a8"/>
<rect x="387.28" y="971.26" width="18.28" height="18.73" fill="#2358a8"/>
<rect x="404.96" y="971.26" width="18.28" height="18.73" fill="#2358a8"/>
<rect x="422.65" y="971.26" width="18.28" height="18.73" fill="#2358a8"/>
<rect x="440.33" y="971.26" width="18.28" height="18.73" fill="#2358a8"/>
<rect x="458.02" y="971.26" width="18.28" height="18.73" fill="#2358a8"/>
<rect x="139.70" y="989.39" width="18.28" height="18.73" fill="#2b3990"/>
<rect x="157.38" y="989.39" width="18.28" height="18.73" fill="#2b3990"/>
<rect x="175.07" y="989.39" width="18.28" height="18.73" fill="#76c8be"/>
<rect x="192.75" y="989.39" width="18.28" height="18.73" fill="#050505"/>
<rect x="210.44" y="989.39" width="18.28" height="18.73" fill="#3fb3c7"/>
<rect x="228.12" y="989.39" width="18.28" height="18.73" fill="#3fb3c7"/>
<rect x="245.81" y="989.39" width="18.28" height="18.73" fill="#2682c2"/>
<rect x="263.49" y="989.39" width="18.28" height="18.73" fill="#2682c2"/>
<rect x="281.17" y="989.39" width="18.28" height="18.73" fill="#2468b0"/>
<rect x="298.86" y="989.39" width="18.28" height="18.73" fill="#2358a8"/>
<rect x="316.54" y="989.39" width="18.28" height="18.73" fill="#2468b0"/>
<rect x="334.23" y="989.39" width="18.28" height="18.73" fill="#2468b0"/>
<rect x="351.91" y="989.39" width="18.28" height="18.73" fill="#2358a8"/>
<rect x="369.59" y="989.39" width="18.28" height="18.73" fill="#2468b0"/>
<rect x="387.28" y="989.39" width="18.28" height="18.73" fill="#2468b0"/>
<rect x="404.96" y="989.39" width="18.28" height="18.73" fill="#2468b0"/>
<rect x="422.65" y="989.39" width="18.28" height="18.73" fill="#2358a8"/>
<rect x="440.33" y="989.39" width="18.28" height="18.73" fill="#2468b0"/>
<rect x="458.02" y="989.39" width="18.28" height="18.73" fill="#2468b0"/>
<rect x="139.70" y="1007.53" width="18.28" height="18.73" fill="#2b3990"/>
<rect x="157.38" y="1007.53" width="18.28" height="18.73" fill="#2b3990"/>
<rect x="175.07" y="1007.53" width="18.28" height="18.73" fill="#3fb3c7"/>
<rect x="192.75" y="1007.53" width="18.28" height="18.73" fill="#2a99cb"/>
<rect x="210.44" y="1007.53" width="18.28" height="18.73" fill="#050505"/>
<rect x="228.12" y="1007.53" width="18.28" height="18.73" fill="#c4e6b6"/>
<rect x="245.81" y="1007.53" width="18.28" height="18.73" fill="#2682c2"/>
<rect x="263.49" y="1007.53" width="18.28" height="18.73" fill="#2682c2"/>
<rect x="281.17" y="1007.53" width="18.28" height="18.73" fill="#2468b0"/>
<rect x="298.86" y="1007.53" width="18.28" height="18.73" fill="#2682c2"/>
<rect x="316.54" y="1007.53" width="18.28" height="18.73" fill="#2468b0"/>
<rect x="334.23" y="1007.53" width="18.28" height="18.73" fill="#2468b0"/>
<rect x="351.91" y="1007.53" width="18.28" height="18.73" fill="#2358a8"/>
<rect x="369.59" y="1007.53" width="18.28" height="18.73" fill="#2682c2"/>
<rect x="387.28" y="1007.53" width="18.28" height="18.73" fill="#2468b0"/>
<rect x="404.96" y="1007.53" width="18.28" height="18.73" fill="#2358a8"/>
<rect x="422.65" y="1007.53" width="18.28" height="18.73" fill="#2358a8"/>
<rect x="440.33" y="1007.53" width="18.28" height="18.73" fill="#2649a0"/>
<rect x="458.02" y="1007.53" width="18.28" height="18.73" fill="#2358a8"/>
<rect x="139.70" y="1025.66" width="18.28" height="18.73" fill="#2b3990"/>
<rect x="157.38" y="1025.66" width="18.28" height="18.73" fill="#2b3990"/>
<rect x="175.07" y="1025.66" width="18.28" height="18.73" fill="#76c8be"/>
<rect x="192.75" y="1025.66" width="18.28" height="18.73" fill="#2a99cb"/>
<rect x="210.44" y="1025.66" width="18.28" height="18.73" fill="#2a99cb"/>
<rect x="228.12" y="1025.66" width="18.28" height="18.73" fill="#050505"/>
<rect x="245.81" y="1025.66" width="18.28" height="18.73" fill="#2468b0"/>
<rect x="263.49" y="1025.66" width="18.28" height="18.73" fill="#2468b0"/>
<rect x="281.17" y="1025.66" width="18.28" height="18.73" fill="#3fb3c7"/>
<rect x="298.86" y="1025.66" width="18.28" height="18.73" fill="#2a99cb"/>
<rect x="316.54" y="1025.66" width="18.28" height="18.73" fill="#2358a8"/>
<rect x="334.23" y="1025.66" width="18.28" height="18.73" fill="#2358a8"/>
<rect x="351.91" y="1025.66" width="18.28" height="18.73" fill="#2649a0"/>
<rect x="369.59" y="1025.66" width="18.28" height="18.73" fill="#2358a8"/>
<rect x="387.28" y="1025.66" width="18.28" height="18.73" fill="#2649a0"/>
<rect x="404.96" y="1025.66" width="18.28" height="18.73" fill="#2358a8"/>
<rect x="422.65" y="1025.66" width="18.28" height="18.73" fill="#2649a0"/>
<rect x="440.33" y="1025.66" width="18.28" height="18.73" fill="#2649a0"/>
<rect x="458.02" y="1025.66" width="18.28" height="18.73" fill="#2649a0"/>
<rect x="139.70" y="1043.79" width="18.28" height="18.73" fill="#2a99cb"/>
<rect x="157.38" y="1043.79" width="18.28" height="18.73" fill="#2a99cb"/>
<rect x="175.07" y="1043.79" width="18.28" height="18.73" fill="#2358a8"/>
<rect x="192.75" y="1043.79" width="18.28" height="18.73" fill="#2358a8"/>
<rect x="210.44" y="1043.79" width="18.28" height="18.73" fill="#2468b0"/>
<rect x="228.12" y="1043.79" width="18.28" height="18.73" fill="#2358a8"/>
<rect x="245.81" y="1043.79" width="18.28" height="18.73" fill="#050505"/>
<rect x="263.49" y="1043.79" width="18.28" height="18.73" fill="#2682c2"/>
<rect x="281.17" y="1043.79" width="18.28" height="18.73" fill="#2a99cb"/>
<rect x="298.86" y="1043.79" width="18.28" height="18.73" fill="#2a99cb"/>
<rect x="316.54" y="1043.79" width="18.28" height="18.73" fill="#2468b0"/>
<rect x="334.23" y="1043.79" width="18.28" height="18.73" fill="#2468b0"/>
<rect x="351.91" y="1043.79" width="18.28" height="18.73" fill="#2468b0"/>
<rect x="369.59" y="1043.79" width="18.28" height="18.73" fill="#2468b0"/>
<rect x="387.28" y="1043.79" width="18.28" height="18.73" fill="#2358a8"/>
<rect x="404.96" y="1043.79" width="18.28" height="18.73" fill="#2358a8"/>
<rect x="422.65" y="1043.79" width="18.28" height="18.73" fill="#2358a8"/>
<rect x="440.33" y="1043.79" width="18.28" height="18.73" fill="#2358a8"/>
<rect x="458.02" y="1043.79" width="18.28" height="18.73" fill="#2358a8"/>
<rect x="139.70" y="1061.92" width="18.28" height="18.73" fill="#2b3990"/>
<rect x="157.38" y="1061.92" width="18.28" height="18.73" fill="#2b3990"/>
<rect x="175.07" y="1061.92" width="18.28" height="18.73" fill="#2b3990"/>
<rect x="192.75" y="1061.92" width="18.28" height="18.73" fill="#2b3990"/>
<rect x="210.44" y="1061.92" width="18.28" height="18.73" fill="#2b3990"/>
<rect x="228.12" y="1061.92" width="18.28" height="18.73" fill="#2b3990"/>
<rect x="245.81" y="1061.92" width="18.28" height="18.73" fill="#2a99cb"/>
<rect x="263.49" y="1061.92" width="18.28" height="18.73" fill="#050505"/>
<rect x="281.17" y="1061.92" width="18.28" height="18.73" fill="#3fb3c7"/>
<rect x="298.86" y="1061.92" width="18.28" height="18.73" fill="#76c8be"/>
<rect x="316.54" y="1061.92" width="18.28" height="18.73" fill="#2682c2"/>
<rect x="334.23" y="1061.92" width="18.28" height="18.73" fill="#2a99cb"/>
<rect x="351.91" y="1061.92" width="18.28" height="18.73" fill="#2a99cb"/>
<rect x="369.59" y="1061.92" width="18.28" height="18.73" fill="#2a99cb"/>
<rect x="387.28" y="1061.92" width="18.28" height="18.73" fill="#2358a8"/>
<rect x="404.96" y="1061.92" width="18.28" height="18.73" fill="#2358a8"/>
<rect x="422.65" y="1061.92" width="18.28" height="18.73" fill="#2358a8"/>
<rect x="440.33" y="1061.92" width="18.28" height="18.73" fill="#2468b0"/>
<rect x="458.02" y="1061.92" width="18.28" height="18.73" fill="#2468b0"/>
<rect x="139.70" y="1080.05" width="18.28" height="18.73" fill="#2b3990"/>
<rect x="157.38" y="1080.05" width="18.28" height="18.73" fill="#2649a0"/>
<rect x="175.07" y="1080.05" width="18.28" height="18.73" fill="#2b3990"/>
<rect x="192.75" y="1080.05" width="18.28" height="18.73" fill="#2b3990"/>
<rect x="210.44" y="1080.05" width="18.28" height="18.73" fill="#2b3990"/>
<rect x="228.12" y="1080.05" width="18.28" height="18.73" fill="#2b3990"/>
<rect x="245.81" y="1080.05" width="18.28" height="18.73" fill="#3fb3c7"/>
<rect x="263.49" y="1080.05" width="18.28" height="18.73" fill="#3fb3c7"/>
<rect x="281.17" y="1080.05" width="18.28" height="18.73" fill="#050505"/>
<rect x="298.86" y="1080.05" width="18.28" height="18.73" fill="#3fb3c7"/>
<rect x="316.54" y="1080.05" width="18.28" height="18.73" fill="#2682c2"/>
<rect x="334.23" y="1080.05" width="18.28" height="18.73" fill="#2468b0"/>
<rect x="351.91" y="1080.05" width="18.28" height="18.73" fill="#2468b0"/>
<rect x="369.59" y="1080.05" width="18.28" height="18.73" fill="#2468b0"/>
<rect x="387.28" y="1080.05" width="18.28" height="18.73" fill="#2358a8"/>
<rect x="404.96" y="1080.05" width="18.28" height="18.73" fill="#2468b0"/>
<rect x="422.65" y="1080.05" width="18.28" height="18.73" fill="#2468b0"/>
<rect x="440.33" y="1080.05" width="18.28" height="18.73" fill="#2358a8"/>
<rect x="458.02" y="1080.05" width="18.28" height="18.73" fill="#2358a8"/>
<rect x="139.70" y="1098.18" width="18.28" height="18.73" fill="#2b3990"/>
<rect x="157.38" y="1098.18" width="18.28" height="18.73" fill="#2b3990"/>
<rect x="175.07" y="1098.18" width="18.28" height="18.73" fill="#2b3990"/>
<rect x="192.75" y="1098.18" width="18.28" height="18.73" fill="#2b3990"/>
<rect x="210.44" y="1098.18" width="18.28" height="18.73" fill="#2b3990"/>
<rect x="228.12" y="1098.18" width="18.28" height="18.73" fill="#2b3990"/>
<rect x="245.81" y="1098.18" width="18.28" height="18.73" fill="#2682c2"/>
<rect x="263.49" y="1098.18" width="18.28" height="18.73" fill="#c4e6b6"/>
<rect x="281.17" y="1098.18" width="18.28" height="18.73" fill="#76c8be"/>
<rect x="298.86" y="1098.18" width="18.28" height="18.73" fill="#050505"/>
<rect x="316.54" y="1098.18" width="18.28" height="18.73" fill="#2468b0"/>
<rect x="334.23" y="1098.18" width="18.28" height="18.73" fill="#2468b0"/>
<rect x="351.91" y="1098.18" width="18.28" height="18.73" fill="#2a99cb"/>
<rect x="369.59" y="1098.18" width="18.28" height="18.73" fill="#2682c2"/>
<rect x="387.28" y="1098.18" width="18.28" height="18.73" fill="#2358a8"/>
<rect x="404.96" y="1098.18" width="18.28" height="18.73" fill="#2358a8"/>
<rect x="422.65" y="1098.18" width="18.28" height="18.73" fill="#2649a0"/>
<rect x="440.33" y="1098.18" width="18.28" height="18.73" fill="#2358a8"/>
<rect x="458.02" y="1098.18" width="18.28" height="18.73" fill="#2649a0"/>
<rect x="139.70" y="1116.32" width="18.28" height="18.73" fill="#2b3990"/>
<rect x="157.38" y="1116.32" width="18.28" height="18.73" fill="#2649a0"/>
<rect x="175.07" y="1116.32" width="18.28" height="18.73" fill="#2b3990"/>
<rect x="192.75" y="1116.32" width="18.28" height="18.73" fill="#2649a0"/>
<rect x="210.44" y="1116.32" width="18.28" height="18.73" fill="#2b3990"/>
<rect x="228.12" y="1116.32" width="18.28" height="18.73" fill="#2b3990"/>
<rect x="245.81" y="1116.32" width="18.28" height="18.73" fill="#2b3990"/>
<rect x="263.49" y="1116.32" width="18.28" height="18.73" fill="#2b3990"/>
<rect x="281.17" y="1116.32" width="18.28" height="18.73" fill="#2b3990"/>
<rect x="298.86" y="1116.32" width="18.28" height="18.73" fill="#2b3990"/>
<rect x="316.54" y="1116.32" width="18.28" height="18.73" fill="#050505"/>
<rect x="334.23" y="1116.32" width="18.28" height="18.73" fill="#3fb3c7"/>
<rect x="351.91" y="1116.32" width="18.28" height="18.73" fill="#3fb3c7"/>
<rect x="369.59" y="1116.32" width="18.28" height="18.73" fill="#3fb3c7"/>
<rect x="387.28" y="1116.32" width="18.28" height="18.73" fill="#2a99cb"/>
<rect x="404.96" y="1116.32" width="18.28" height="18.73" fill="#2a99cb"/>
<rect x="422.65" y="1116.32" width="18.28" height="18.73" fill="#2a99cb"/>
<rect x="440.33" y="1116.32" width="18.28" height="18.73" fill="#2682c2"/>
<rect x="458.02" y="1116.32" width="18.28" height="18.73" fill="#2682c2"/>
<rect x="139.70" y="1134.45" width="18.28" height="18.73" fill="#2b3990"/>
<rect x="157.38" y="1134.45" width="18.28" height="18.73" fill="#2649a0"/>
<rect x="175.07" y="1134.45" width="18.28" height="18.73" fill="#2b3990"/>
<rect x="192.75" y="1134.45" width="18.28" height="18.73" fill="#2649a0"/>
<rect x="210.44" y="1134.45" width="18.28" height="18.73" fill="#2b3990"/>
<rect x="228.12" y="1134.45" width="18.28" height="18.73" fill="#2b3990"/>
<rect x="245.81" y="1134.45" width="18.28" height="18.73" fill="#2b3990"/>
<rect x="263.49" y="1134.45" width="18.28" height="18.73" fill="#2b3990"/>
<rect x="281.17" y="1134.45" width="18.28" height="18.73" fill="#2b3990"/>
<rect x="298.86" y="1134.45" width="18.28" height="18.73" fill="#2b3990"/>
<rect x="316.54" y="1134.45" width="18.28" height="18.73" fill="#3fb3c7"/>
<rect x="334.23" y="1134.45" width="18.28" height="18.73" fill="#050505"/>
<rect x="351.91" y="1134.45" width="18.28" height="18.73" fill="#76c8be"/>
<rect x="369.59" y="1134.45" width="18.28" height="18.73" fill="#2a99cb"/>
<rect x="387.28" y="1134.45" width="18.28" height="18.73" fill="#2a99cb"/>
<rect x="404.96" y="1134.45" width="18.28" height="18.73" fill="#2a99cb"/>
<rect x="422.65" y="1134.45" width="18.28" height="18.73" fill="#2a99cb"/>
<rect x="440.33" y="1134.45" width="18.28" height="18.73" fill="#2a99cb"/>
<rect x="458.02" y="1134.45" width="18.28" height="18.73" fill="#2a99cb"/>
<rect x="139.70" y="1152.58" width="18.28" height="18.73" fill="#2649a0"/>
<rect x="157.38" y="1152.58" width="18.28" height="18.73" fill="#2b3990"/>
<rect x="175.07" y="1152.58" width="18.28" height="18.73" fill="#2b3990"/>
<rect x="192.75" y="1152.58" width="18.28" height="18.73" fill="#2649a0"/>
<rect x="210.44" y="1152.58" width="18.28" height="18.73" fill="#2b3990"/>
<rect x="228.12" y="1152.58" width="18.28" height="18.73" fill="#2b3990"/>
<rect x="245.81" y="1152.58" width="18.28" height="18.73" fill="#2b3990"/>
<rect x="263.49" y="1152.58" width="18.28" height="18.73" fill="#2b3990"/>
<rect x="281.17" y="1152.58" width="18.28" height="18.73" fill="#2b3990"/>
<rect x="298.86" y="1152.58" width="18.28" height="18.73" fill="#2b3990"/>
<rect x="316.54" y="1152.58" width="18.28" height="18.73" fill="#3fb3c7"/>
<rect x="334.23" y="1152.58" width="18.28" height="18.73" fill="#2a99cb"/>
<rect x="351.91" y="1152.58" width="18.28" height="18.73" fill="#050505"/>
<rect x="369.59" y="1152.58" width="18.28" height="18.73" fill="#3fb3c7"/>
<rect x="387.28" y="1152.58" width="18.28" height="18.73" fill="#3fb3c7"/>
<rect x="404.96" y="1152.58" width="18.28" height="18.73" fill="#3fb3c7"/>
<rect x="422.65" y="1152.58" width="18.28" height="18.73" fill="#2468b0"/>
<rect x="440.33" y="1152.58" width="18.28" height="18.73" fill="#2682c2"/>
<rect x="458.02" y="1152.58" width="18.28" height="18.73" fill="#2682c2"/>
<rect x="139.70" y="1170.71" width="18.28" height="18.73" fill="#2b3990"/>
<rect x="157.38" y="1170.71" width="18.28" height="18.73" fill="#2649a0"/>
<rect x="175.07" y="1170.71" width="18.28" height="18.73" fill="#2b3990"/>
<rect x="192.75" y="1170.71" width="18.28" height="18.73" fill="#2649a0"/>
<rect x="210.44" y="1170.71" width="18.28" height="18.73" fill="#2b3990"/>
<rect x="228.12" y="1170.71" width="18.28" height="18.73" fill="#2b3990"/>
<rect x="245.81" y="1170.71" width="18.28" height="18.73" fill="#2b3990"/>
<rect x="263.49" y="1170.71" width="18.28" height="18.73" fill="#2649a0"/>
<rect x="281.17" y="1170.71" width="18.28" height="18.73" fill="#2b3990"/>
<rect x="298.86" y="1170.71" width="18.28" height="18.73" fill="#2649a0"/>
<rect x="316.54" y="1170.71" width="18.28" height="18.73" fill="#2a99cb"/>
<rect x="334.23" y="1170.71" width="18.28" height="18.73" fill="#2a99cb"/>
<rect x="351.91" y="1170.71" width="18.28" height="18.73" fill="#76c8be"/>
<rect x="369.59" y="1170.71" width="18.28" height="18.73" fill="#050505"/>
<rect x="387.28" y="1170.71" width="18.28" height="18.73" fill="#2a99cb"/>
<rect x="404.96" y="1170.71" width="18.28" height="18.73" fill="#2a99cb"/>
<rect x="422.65" y="1170.71" width="18.28" height="18.73" fill="#3fb3c7"/>
<rect x="440.33" y="1170.71" width="18.28" height="18.73" fill="#2682c2"/>
<rect x="458.02" y="1170.71" width="18.28" height="18.73" fill="#2682c2"/>
<rect x="139.70" y="1188.84" width="18.28" height="18.73" fill="#2b3990"/>
<rect x="157.38" y="1188.84" width="18.28" height="18.73" fill="#2b3990"/>
<rect x="175.07" y="1188.84" width="18.28" height="18.73" fill="#2b3990"/>
<rect x="192.75" y="1188.84" width="18.28" height="18.73" fill="#2a99cb"/>
<rect x="210.44" y="1188.84" width="18.28" height="18.73" fill="#2b3990"/>
<rect x="228.12" y="1188.84" width="18.28" height="18.73" fill="#2b3990"/>
<rect x="245.81" y="1188.84" width="18.28" height="18.73" fill="#2b3990"/>
<rect x="263.49" y="1188.84" width="18.28" height="18.73" fill="#2b3990"/>
<rect x="281.17" y="1188.84" width="18.28" height="18.73" fill="#2b3990"/>
<rect x="298.86" y="1188.84" width="18.28" height="18.73" fill="#2b3990"/>
<rect x="316.54" y="1188.84" width="18.28" height="18.73" fill="#2b3990"/>
<rect x="334.23" y="1188.84" width="18.28" height="18.73" fill="#2b3990"/>
<rect x="351.91" y="1188.84" width="18.28" height="18.73" fill="#2b3990"/>
<rect x="369.59" y="1188.84" width="18.28" height="18.73" fill="#2b3990"/>
<rect x="387.28" y="1188.84" width="18.28" height="18.73" fill="#050505"/>
<rect x="404.96" y="1188.84" width="18.28" height="18.73" fill="#c4e6b6"/>
<rect x="422.65" y="1188.84" width="18.28" height="18.73" fill="#c4e6b6"/>
<rect x="440.33" y="1188.84" width="18.28" height="18.73" fill="#2a99cb"/>
<rect x="458.02" y="1188.84" width="18.28" height="18.73" fill="#3fb3c7"/>
<rect x="139.70" y="1206.97" width="18.28" height="18.73" fill="#2b3990"/>
<rect x="157.38" y="1206.97" width="18.28" height="18.73" fill="#2b3990"/>
<rect x="175.07" y="1206.97" width="18.28" height="18.73" fill="#2b3990"/>
<rect x="192.75" y="1206.97" width="18.28" height="18.73" fill="#2682c2"/>
<rect x="210.44" y="1206.97" width="18.28" height="18.73" fill="#2b3990"/>
<rect x="228.12" y="1206.97" width="18.28" height="18.73" fill="#2b3990"/>
<rect x="245.81" y="1206.97" width="18.28" height="18.73" fill="#2b3990"/>
<rect x="263.49" y="1206.97" width="18.28" height="18.73" fill="#2b3990"/>
<rect x="281.17" y="1206.97" width="18.28" height="18.73" fill="#2b3990"/>
<rect x="298.86" y="1206.97" width="18.28" height="18.73" fill="#2b3990"/>
<rect x="316.54" y="1206.97" width="18.28" height="18.73" fill="#2b3990"/>
<rect x="334.23" y="1206.97" width="18.28" height="18.73" fill="#2b3990"/>
<rect x="351.91" y="1206.97" width="18.28" height="18.73" fill="#2b3990"/>
<rect x="369.59" y="1206.97" width="18.28" height="18.73" fill="#2b3990"/>
<rect x="387.28" y="1206.97" width="18.28" height="18.73" fill="#c4e6b6"/>
<rect x="404.96" y="1206.97" width="18.28" height="18.73" fill="#050505"/>
<rect x="422.65" y="1206.97" width="18.28" height="18.73" fill="#c4e6b6"/>
<rect x="440.33" y="1206.97" width="18.28" height="18.73" fill="#3fb3c7"/>
<rect x="458.02" y="1206.97" width="18.28" height="18.73" fill="#76c8be"/>
<rect x="139.70" y="1225.11" width="18.28" height="18.73" fill="#2b3990"/>
<rect x="157.38" y="1225.11" width="18.28" height="18.73" fill="#2b3990"/>
<rect x="175.07" y="1225.11" width="18.28" height="18.73" fill="#2b3990"/>
<rect x="192.75" y="1225.11" width="18.28" height="18.73" fill="#2a99cb"/>
<rect x="210.44" y="1225.11" width="18.28" height="18.73" fill="#2b3990"/>
<rect x="228.12" y="1225.11" width="18.28" height="18.73" fill="#2b3990"/>
<rect x="245.81" y="1225.11" width="18.28" height="18.73" fill="#2b3990"/>
<rect x="263.49" y="1225.11" width="18.28" height="18.73" fill="#2b3990"/>
<rect x="281.17" y="1225.11" width="18.28" height="18.73" fill="#2b3990"/>
<rect x="298.86" y="1225.11" width="18.28" height="18.73" fill="#2b3990"/>
<rect x="316.54" y="1225.11" width="18.28" height="18.73" fill="#2b3990"/>
<rect x="334.23" y="1225.11" width="18.28" height="18.73" fill="#2b3990"/>
<rect x="351.91" y="1225.11" width="18.28" height="18.73" fill="#2b3990"/>
<rect x="369.59" y="1225.11" width="18.28" height="18.73" fill="#2b3990"/>
<rect x="387.28" y="1225.11" width="18.28" height="18.73" fill="#f6f5c6"/>
<rect x="404.96" y="1225.11" width="18.28" height="18.73" fill="#76c8be"/>
<rect x="422.65" y="1225.11" width="18.28" height="18.73" fill="#050505"/>
<rect x="440.33" y="1225.11" width="18.28" height="18.73" fill="#2a99cb"/>
<rect x="458.02" y="1225.11" width="18.28" height="18.73" fill="#3fb3c7"/>
<rect x="139.70" y="1243.24" width="18.28" height="18.73" fill="#2649a0"/>
<rect x="157.38" y="1243.24" width="18.28" height="18.73" fill="#76c8be"/>
<rect x="175.07" y="1243.24" width="18.28" height="18.73" fill="#2649a0"/>
<rect x="192.75" y="1243.24" width="18.28" height="18.73" fill="#2b3990"/>
<rect x="210.44" y="1243.24" width="18.28" height="18.73" fill="#2b3990"/>
<rect x="228.12" y="1243.24" width="18.28" height="18.73" fill="#2b3990"/>
<rect x="245.81" y="1243.24" width="18.28" height="18.73" fill="#2649a0"/>
<rect x="263.49" y="1243.24" width="18.28" height="18.73" fill="#2b3990"/>
<rect x="281.17" y="1243.24" width="18.28" height="18.73" fill="#2b3990"/>
<rect x="298.86" y="1243.24" width="18.28" height="18.73" fill="#2682c2"/>
<rect x="316.54" y="1243.24" width="18.28" height="18.73" fill="#2b3990"/>
<rect x="334.23" y="1243.24" width="18.28" height="18.73" fill="#2b3990"/>
<rect x="351.91" y="1243.24" width="18.28" height="18.73" fill="#2649a0"/>
<rect x="369.59" y="1243.24" width="18.28" height="18.73" fill="#2649a0"/>
<rect x="387.28" y="1243.24" width="18.28" height="18.73" fill="#2649a0"/>
<rect x="404.96" y="1243.24" width="18.28" height="18.73" fill="#2649a0"/>
<rect x="422.65" y="1243.24" width="18.28" height="18.73" fill="#2649a0"/>
<rect x="440.33" y="1243.24" width="18.28" height="18.73" fill="#050505"/>
<rect x="458.02" y="1243.24" width="18.28" height="18.73" fill="#f6f5c6"/>
<rect x="139.70" y="1261.37" width="18.28" height="18.73" fill="#2b3990"/>
<rect x="157.38" y="1261.37" width="18.28" height="18.73" fill="#2649a0"/>
<rect x="175.07" y="1261.37" width="18.28" height="18.73" fill="#2b3990"/>
<rect x="192.75" y="1261.37" width="18.28" height="18.73" fill="#2649a0"/>
<rect x="210.44" y="1261.37" width="18.28" height="18.73" fill="#2b3990"/>
<rect x="228.12" y="1261.37" width="18.28" height="18.73" fill="#2358a8"/>
<rect x="245.81" y="1261.37" width="18.28" height="18.73" fill="#2b3990"/>
<rect x="263.49" y="1261.37" width="18.28" height="18.73" fill="#2b3990"/>
<rect x="281.17" y="1261.37" width="18.28" height="18.73" fill="#2b3990"/>
<rect x="298.86" y="1261.37" width="18.28" height="18.73" fill="#2b3990"/>
<rect x="316.54" y="1261.37" width="18.28" height="18.73" fill="#2b3990"/>
<rect x="334.23" y="1261.37" width="18.28" height="18.73" fill="#2b3990"/>
<rect x="351.91" y="1261.37" width="18.28" height="18.73" fill="#2b3990"/>
<rect x="369.59" y="1261.37" width="18.28" height="18.73" fill="#2b3990"/>
<rect x="387.28" y="1261.37" width="18.28" height="18.73" fill="#2b3990"/>
<rect x="404.96" y="1261.37" width="18.28" height="18.73" fill="#2b3990"/>
<rect x="422.65" y="1261.37" width="18.28" height="18.73" fill="#2b3990"/>
<rect x="440.33" y="1261.37" width="18.28" height="18.73" fill="#f6f5c6"/>
<rect x="458.02" y="1261.37" width="18.28" height="18.73" fill="#050505"/>
<rect x="138.00" y="934.30" width="338.40" height="346.40" fill="none" stroke="#000" stroke-width="1.6"/>
<line x1="138.50" y1="933.50" x2="138.50" y2="1282.00" stroke="#000" stroke-width="2.8" stroke-linecap="butt"/>
<line x1="137.20" y1="1280.30" x2="477.20" y2="1280.30" stroke="#000" stroke-width="2.6" stroke-linecap="butt"/>
<line x1="128.50" y1="944.07" x2="137.20" y2="944.07" stroke="#333" stroke-width="3.4" stroke-linecap="butt"/>
<text transform="translate(68.74,952.67) scale(0.9550,1)" font-family="'Liberation Sans', Arial, sans-serif" font-weight="normal" font-style="normal" font-size="24.95" fill="#4d4d4d">CCG</text>
<line x1="128.50" y1="962.20" x2="137.20" y2="962.20" stroke="#333" stroke-width="3.4" stroke-linecap="butt"/>
<text transform="translate(72.25,970.80) scale(0.9550,1)" font-family="'Liberation Sans', Arial, sans-serif" font-weight="normal" font-style="normal" font-size="24.95" fill="#4d4d4d">AAA</text>
<line x1="128.50" y1="980.33" x2="137.20" y2="980.33" stroke="#333" stroke-width="3.4" stroke-linecap="butt"/>
<text transform="translate(76.72,988.93) scale(0.9550,1)" font-family="'Liberation Sans', Arial, sans-serif" font-weight="normal" font-style="normal" font-size="24.95" fill="#4d4d4d">TTA</text>
<line x1="128.50" y1="998.46" x2="137.20" y2="998.46" stroke="#333" stroke-width="3.4" stroke-linecap="butt"/>
<text transform="translate(69.16,1007.06) scale(0.9550,1)" font-family="'Liberation Sans', Arial, sans-serif" font-weight="normal" font-style="normal" font-size="24.95" fill="#4d4d4d">GAC</text>
<line x1="128.50" y1="1016.59" x2="137.20" y2="1016.59" stroke="#333" stroke-width="3.4" stroke-linecap="butt"/>
<text transform="translate(67.43,1025.19) scale(0.9550,1)" font-family="'Liberation Sans', Arial, sans-serif" font-weight="normal" font-style="normal" font-size="24.95" fill="#4d4d4d">CGG</text>
<line x1="128.50" y1="1034.72" x2="137.20" y2="1034.72" stroke="#333" stroke-width="3.4" stroke-linecap="butt"/>
<text transform="translate(70.53,1043.32) scale(0.9550,1)" font-family="'Liberation Sans', Arial, sans-serif" font-weight="normal" font-style="normal" font-size="24.95" fill="#4d4d4d">GTC</text>
<line x1="128.50" y1="1052.86" x2="137.20" y2="1052.86" stroke="#333" stroke-width="3.4" stroke-linecap="butt"/>
<text transform="translate(72.79,1061.46) scale(0.9550,1)" font-family="'Liberation Sans', Arial, sans-serif" font-weight="normal" font-style="normal" font-size="24.95" fill="#4d4d4d">ACT</text>
<line x1="128.50" y1="1070.99" x2="137.20" y2="1070.99" stroke="#333" stroke-width="3.4" stroke-linecap="butt"/>
<text transform="translate(74.46,1079.59) scale(0.9550,1)" font-family="'Liberation Sans', Arial, sans-serif" font-weight="normal" font-style="normal" font-size="24.95" fill="#4d4d4d">TTC</text>
<line x1="128.50" y1="1089.12" x2="137.20" y2="1089.12" stroke="#333" stroke-width="3.4" stroke-linecap="butt"/>
<text transform="translate(70.05,1097.72) scale(0.9550,1)" font-family="'Liberation Sans', Arial, sans-serif" font-weight="normal" font-style="normal" font-size="24.95" fill="#4d4d4d">ACG</text>
<line x1="128.50" y1="1107.25" x2="137.20" y2="1107.25" stroke="#333" stroke-width="3.4" stroke-linecap="butt"/>
<text transform="translate(74.52,1115.85) scale(0.9550,1)" font-family="'Liberation Sans', Arial, sans-serif" font-weight="normal" font-style="normal" font-size="24.95" fill="#4d4d4d">ATG</text>
<line x1="128.50" y1="1125.38" x2="137.20" y2="1125.38" stroke="#333" stroke-width="3.4" stroke-linecap="butt"/>
<text transform="translate(75.89,1133.98) scale(0.9550,1)" font-family="'Liberation Sans', Arial, sans-serif" font-weight="normal" font-style="normal" font-size="24.95" fill="#4d4d4d">AAT</text>
<line x1="128.50" y1="1143.51" x2="137.20" y2="1143.51" stroke="#333" stroke-width="3.4" stroke-linecap="butt"/>
<text transform="translate(74.04,1152.11) scale(0.9550,1)" font-family="'Liberation Sans', Arial, sans-serif" font-weight="normal" font-style="normal" font-size="24.95" fill="#4d4d4d">TTG</text>
<line x1="128.50" y1="1161.64" x2="137.20" y2="1161.64" stroke="#333" stroke-width="3.4" stroke-linecap="butt"/>
<text transform="translate(75.41,1170.24) scale(0.9550,1)" font-family="'Liberation Sans', Arial, sans-serif" font-weight="normal" font-style="normal" font-size="24.95" fill="#4d4d4d">TAA</text>
<line x1="128.50" y1="1179.78" x2="137.20" y2="1179.78" stroke="#333" stroke-width="3.4" stroke-linecap="butt"/>
<text transform="translate(70.47,1188.38) scale(0.9550,1)" font-family="'Liberation Sans', Arial, sans-serif" font-weight="normal" font-style="normal" font-size="24.95" fill="#4d4d4d">CAC</text>
<line x1="128.50" y1="1197.91" x2="137.20" y2="1197.91" stroke="#333" stroke-width="3.4" stroke-linecap="butt"/>
<text transform="translate(67.01,1206.51) scale(0.9550,1)" font-family="'Liberation Sans', Arial, sans-serif" font-weight="normal" font-style="normal" font-size="24.95" fill="#4d4d4d">GGA</text>
<line x1="128.50" y1="1216.04" x2="137.20" y2="1216.04" stroke="#333" stroke-width="3.4" stroke-linecap="butt"/>
<text transform="translate(69.63,1224.64) scale(0.9550,1)" font-family="'Liberation Sans', Arial, sans-serif" font-weight="normal" font-style="normal" font-size="24.95" fill="#4d4d4d">CCA</text>
<line x1="128.50" y1="1234.17" x2="137.20" y2="1234.17" stroke="#333" stroke-width="3.4" stroke-linecap="butt"/>
<text transform="translate(69.63,1242.77) scale(0.9550,1)" font-family="'Liberation Sans', Arial, sans-serif" font-weight="normal" font-style="normal" font-size="24.95" fill="#4d4d4d">GAA</text>
<line x1="128.50" y1="1252.30" x2="137.20" y2="1252.30" stroke="#333" stroke-width="3.4" stroke-linecap="butt"/>
<text transform="translate(74.58,1260.90) scale(0.9550,1)" font-family="'Liberation Sans', Arial, sans-serif" font-weight="normal" font-style="normal" font-size="24.95" fill="#4d4d4d">CAT</text>
<line x1="128.50" y1="1270.43" x2="137.20" y2="1270.43" stroke="#333" stroke-width="3.4" stroke-linecap="butt"/>
<text transform="translate(71.00,1279.03) scale(0.9550,1)" font-family="'Liberation Sans', Arial, sans-serif" font-weight="normal" font-style="normal" font-size="24.95" fill="#4d4d4d">TGA</text>
<line x1="148.54" y1="1281.50" x2="148.54" y2="1290.00" stroke="#333" stroke-width="3.6" stroke-linecap="butt"/>
<text transform="translate(140.84,1297.48) rotate(90) scale(0.9200,1)" font-family="'Liberation Sans', Arial, sans-serif" font-weight="normal" font-style="normal" font-size="22.08" fill="#4d4d4d">CCG</text>
<line x1="166.23" y1="1281.50" x2="166.23" y2="1290.00" stroke="#333" stroke-width="3.6" stroke-linecap="butt"/>
<text transform="translate(158.53,1298.45) rotate(90) scale(0.9200,1)" font-family="'Liberation Sans', Arial, sans-serif" font-weight="normal" font-style="normal" font-size="22.40" fill="#4d4d4d">AAA</text>
<line x1="183.91" y1="1281.50" x2="183.91" y2="1290.00" stroke="#333" stroke-width="3.6" stroke-linecap="butt"/>
<text transform="translate(176.21,1298.04) rotate(90) scale(0.9200,1)" font-family="'Liberation Sans', Arial, sans-serif" font-weight="normal" font-style="normal" font-size="22.40" fill="#4d4d4d">TTA</text>
<line x1="201.59" y1="1281.50" x2="201.59" y2="1290.00" stroke="#333" stroke-width="3.6" stroke-linecap="butt"/>
<text transform="translate(193.89,1297.48) rotate(90) scale(0.9200,1)" font-family="'Liberation Sans', Arial, sans-serif" font-weight="normal" font-style="normal" font-size="22.08" fill="#4d4d4d">GAC</text>
<line x1="219.28" y1="1281.50" x2="219.28" y2="1290.00" stroke="#333" stroke-width="3.6" stroke-linecap="butt"/>
<text transform="translate(211.58,1297.48) rotate(90) scale(0.9200,1)" font-family="'Liberation Sans', Arial, sans-serif" font-weight="normal" font-style="normal" font-size="22.08" fill="#4d4d4d">CGG</text>
<line x1="236.96" y1="1281.50" x2="236.96" y2="1290.00" stroke="#333" stroke-width="3.6" stroke-linecap="butt"/>
<text transform="translate(229.26,1297.48) rotate(90) scale(0.9200,1)" font-family="'Liberation Sans', Arial, sans-serif" font-weight="normal" font-style="normal" font-size="22.08" fill="#4d4d4d">GTC</text>
<line x1="254.65" y1="1281.50" x2="254.65" y2="1290.00" stroke="#333" stroke-width="3.6" stroke-linecap="butt"/>
<text transform="translate(246.95,1298.45) rotate(90) scale(0.9200,1)" font-family="'Liberation Sans', Arial, sans-serif" font-weight="normal" font-style="normal" font-size="22.08" fill="#4d4d4d">ACT</text>
<line x1="272.33" y1="1281.50" x2="272.33" y2="1290.00" stroke="#333" stroke-width="3.6" stroke-linecap="butt"/>
<text transform="translate(264.63,1298.04) rotate(90) scale(0.9200,1)" font-family="'Liberation Sans', Arial, sans-serif" font-weight="normal" font-style="normal" font-size="22.08" fill="#4d4d4d">TTC</text>
<line x1="290.02" y1="1281.50" x2="290.02" y2="1290.00" stroke="#333" stroke-width="3.6" stroke-linecap="butt"/>
<text transform="translate(282.32,1298.45) rotate(90) scale(0.9200,1)" font-family="'Liberation Sans', Arial, sans-serif" font-weight="normal" font-style="normal" font-size="22.08" fill="#4d4d4d">ACG</text>
<line x1="307.70" y1="1281.50" x2="307.70" y2="1290.00" stroke="#333" stroke-width="3.6" stroke-linecap="butt"/>
<text transform="translate(300.00,1298.45) rotate(90) scale(0.9200,1)" font-family="'Liberation Sans', Arial, sans-serif" font-weight="normal" font-style="normal" font-size="22.08" fill="#4d4d4d">ATG</text>
<line x1="325.38" y1="1281.50" x2="325.38" y2="1290.00" stroke="#333" stroke-width="3.6" stroke-linecap="butt"/>
<text transform="translate(317.68,1298.45) rotate(90) scale(0.9200,1)" font-family="'Liberation Sans', Arial, sans-serif" font-weight="normal" font-style="normal" font-size="22.40" fill="#4d4d4d">AAT</text>
<line x1="343.07" y1="1281.50" x2="343.07" y2="1290.00" stroke="#333" stroke-width="3.6" stroke-linecap="butt"/>
<text transform="translate(335.37,1298.04) rotate(90) scale(0.9200,1)" font-family="'Liberation Sans', Arial, sans-serif" font-weight="normal" font-style="normal" font-size="22.08" fill="#4d4d4d">TTG</text>
<line x1="360.75" y1="1281.50" x2="360.75" y2="1290.00" stroke="#333" stroke-width="3.6" stroke-linecap="butt"/>
<text transform="translate(353.05,1298.04) rotate(90) scale(0.9200,1)" font-family="'Liberation Sans', Arial, sans-serif" font-weight="normal" font-style="normal" font-size="22.40" fill="#4d4d4d">TAA</text>
<line x1="378.44" y1="1281.50" x2="378.44" y2="1290.00" stroke="#333" stroke-width="3.6" stroke-linecap="butt"/>
<text transform="translate(370.74,1297.48) rotate(90) scale(0.9200,1)" font-family="'Liberation Sans', Arial, sans-serif" font-weight="normal" font-style="normal" font-size="22.08" fill="#4d4d4d">CAC</text>
<line x1="396.12" y1="1281.50" x2="396.12" y2="1290.00" stroke="#333" stroke-width="3.6" stroke-linecap="butt"/>
<text transform="translate(388.42,1297.48) rotate(90) scale(0.9200,1)" font-family="'Liberation Sans', Arial, sans-serif" font-weight="normal" font-style="normal" font-size="22.08" fill="#4d4d4d">GGA</text>
<line x1="413.81" y1="1281.50" x2="413.81" y2="1290.00" stroke="#333" stroke-width="3.6" stroke-linecap="butt"/>
<text transform="translate(406.11,1297.48) rotate(90) scale(0.9200,1)" font-family="'Liberation Sans', Arial, sans-serif" font-weight="normal" font-style="normal" font-size="22.08" fill="#4d4d4d">CCA</text>
<line x1="431.49" y1="1281.50" x2="431.49" y2="1290.00" stroke="#333" stroke-width="3.6" stroke-linecap="butt"/>
<text transform="translate(423.79,1297.48) rotate(90) scale(0.9200,1)" font-family="'Liberation Sans', Arial, sans-serif" font-weight="normal" font-style="normal" font-size="22.08" fill="#4d4d4d">GAA</text>
<line x1="449.17" y1="1281.50" x2="449.17" y2="1290.00" stroke="#333" stroke-width="3.6" stroke-linecap="butt"/>
<text transform="translate(441.47,1297.48) rotate(90) scale(0.9200,1)" font-family="'Liberation Sans', Arial, sans-serif" font-weight="normal" font-style="normal" font-size="22.08" fill="#4d4d4d">CAT</text>
<line x1="466.86" y1="1281.50" x2="466.86" y2="1290.00" stroke="#333" stroke-width="3.6" stroke-linecap="butt"/>
<text transform="translate(459.16,1298.04) rotate(90) scale(0.9200,1)" font-family="'Liberation Sans', Arial, sans-serif" font-weight="normal" font-style="normal" font-size="22.08" fill="#4d4d4d">TGA</text>
<text transform="translate(49.40,1183.94) rotate(-90) scale(0.9077,1)" font-family="'Liberation Sans', Arial, sans-serif" font-weight="normal" font-style="normal" font-size="39.31" fill="#000">Position1</text>
<text transform="translate(230.32,1380.70) scale(0.9444,1)" font-family="'Liberation Sans', Arial, sans-serif" font-weight="normal" font-style="normal" font-size="39.59" fill="#000">Position2</text>
<rect x="651.20" y="938.80" width="18.28" height="18.73" fill="#050505"/>
<rect x="668.88" y="938.80" width="18.28" height="18.73" fill="#3fb3c7"/>
<rect x="686.57" y="938.80" width="18.28" height="18.73" fill="#2682c2"/>
<rect x="704.25" y="938.80" width="18.28" height="18.73" fill="#2468b0"/>
<rect x="721.94" y="938.80" width="18.28" height="18.73" fill="#2682c2"/>
<rect x="739.62" y="938.80" width="18.28" height="18.73" fill="#2468b0"/>
<rect x="757.31" y="938.80" width="18.28" height="18.73" fill="#2682c2"/>
<rect x="774.99" y="938.80" width="18.28" height="18.73" fill="#2682c2"/>
<rect x="792.67" y="938.80" width="18.28" height="18.73" fill="#2682c2"/>
<rect x="810.36" y="938.80" width="18.28" height="18.73" fill="#2468b0"/>
<rect x="828.04" y="938.80" width="18.28" height="18.73" fill="#2468b0"/>
<rect x="845.73" y="938.80" width="18.28" height="18.73" fill="#2358a8"/>
<rect x="863.41" y="938.80" width="18.28" height="18.73" fill="#2358a8"/>
<rect x="881.09" y="938.80" width="18.28" height="18.73" fill="#2358a8"/>
<rect x="898.78" y="938.80" width="18.28" height="18.73" fill="#2649a0"/>
<rect x="916.46" y="938.80" width="18.28" height="18.73" fill="#2649a0"/>
<rect x="934.15" y="938.80" width="18.28" height="18.73" fill="#2649a0"/>
<rect x="951.83" y="938.80" width="18.28" height="18.73" fill="#2649a0"/>
<rect x="969.52" y="938.80" width="18.28" height="18.73" fill="#2649a0"/>
<rect x="651.20" y="956.93" width="18.28" height="18.73" fill="#3fb3c7"/>
<rect x="668.88" y="956.93" width="18.28" height="18.73" fill="#050505"/>
<rect x="686.57" y="956.93" width="18.28" height="18.73" fill="#2682c2"/>
<rect x="704.25" y="956.93" width="18.28" height="18.73" fill="#2a99cb"/>
<rect x="721.94" y="956.93" width="18.28" height="18.73" fill="#3fb3c7"/>
<rect x="739.62" y="956.93" width="18.28" height="18.73" fill="#2649a0"/>
<rect x="757.31" y="956.93" width="18.28" height="18.73" fill="#2468b0"/>
<rect x="774.99" y="956.93" width="18.28" height="18.73" fill="#2649a0"/>
<rect x="792.67" y="956.93" width="18.28" height="18.73" fill="#2649a0"/>
<rect x="810.36" y="956.93" width="18.28" height="18.73" fill="#76c8be"/>
<rect x="828.04" y="956.93" width="18.28" height="18.73" fill="#2358a8"/>
<rect x="845.73" y="956.93" width="18.28" height="18.73" fill="#2468b0"/>
<rect x="863.41" y="956.93" width="18.28" height="18.73" fill="#3fb3c7"/>
<rect x="881.09" y="956.93" width="18.28" height="18.73" fill="#2468b0"/>
<rect x="898.78" y="956.93" width="18.28" height="18.73" fill="#2682c2"/>
<rect x="916.46" y="956.93" width="18.28" height="18.73" fill="#2649a0"/>
<rect x="934.15" y="956.93" width="18.28" height="18.73" fill="#2b3990"/>
<rect x="951.83" y="956.93" width="18.28" height="18.73" fill="#2649a0"/>
<rect x="969.52" y="956.93" width="18.28" height="18.73" fill="#2649a0"/>
<rect x="651.20" y="975.06" width="18.28" height="18.73" fill="#2b3990"/>
<rect x="668.88" y="975.06" width="18.28" height="18.73" fill="#2b3990"/>
<rect x="686.57" y="975.06" width="18.28" height="18.73" fill="#050505"/>
<rect x="704.25" y="975.06" width="18.28" height="18.73" fill="#2a99cb"/>
<rect x="721.94" y="975.06" width="18.28" height="18.73" fill="#3fb3c7"/>
<rect x="739.62" y="975.06" width="18.28" height="18.73" fill="#c4e6b6"/>
<rect x="757.31" y="975.06" width="18.28" height="18.73" fill="#2468b0"/>
<rect x="774.99" y="975.06" width="18.28" height="18.73" fill="#2682c2"/>
<rect x="792.67" y="975.06" width="18.28" height="18.73" fill="#2a99cb"/>
<rect x="810.36" y="975.06" width="18.28" height="18.73" fill="#2468b0"/>
<rect x="828.04" y="975.06" width="18.28" height="18.73" fill="#2358a8"/>
<rect x="845.73" y="975.06" width="18.28" height="18.73" fill="#2358a8"/>
<rect x="863.41" y="975.06" width="18.28" height="18.73" fill="#2358a8"/>
<rect x="881.09" y="975.06" width="18.28" height="18.73" fill="#2358a8"/>
<rect x="898.78" y="975.06" width="18.28" height="18.73" fill="#2649a0"/>
<rect x="916.46" y="975.06" width="18.28" height="18.73" fill="#2649a0"/>
<rect x="934.15" y="975.06" width="18.28" height="18.73" fill="#2649a0"/>
<rect x="951.83" y="975.06" width="18.28" height="18.73" fill="#2649a0"/>
<rect x="969.52" y="975.06" width="18.28" height="18.73" fill="#2649a0"/>
<rect x="651.20" y="993.19" width="18.28" height="18.73" fill="#2b3990"/>
<rect x="668.88" y="993.19" width="18.28" height="18.73" fill="#2b3990"/>
<rect x="686.57" y="993.19" width="18.28" height="18.73" fill="#c4e6b6"/>
<rect x="704.25" y="993.19" width="18.28" height="18.73" fill="#050505"/>
<rect x="721.94" y="993.19" width="18.28" height="18.73" fill="#3fb3c7"/>
<rect x="739.62" y="993.19" width="18.28" height="18.73" fill="#3fb3c7"/>
<rect x="757.31" y="993.19" width="18.28" height="18.73" fill="#2468b0"/>
<rect x="774.99" y="993.19" width="18.28" height="18.73" fill="#2358a8"/>
<rect x="792.67" y="993.19" width="18.28" height="18.73" fill="#2468b0"/>
<rect x="810.36" y="993.19" width="18.28" height="18.73" fill="#2649a0"/>
<rect x="828.04" y="993.19" width="18.28" height="18.73" fill="#2358a8"/>
<rect x="845.73" y="993.19" width="18.28" height="18.73" fill="#2358a8"/>
<rect x="863.41" y="993.19" width="18.28" height="18.73" fill="#2649a0"/>
<rect x="881.09" y="993.19" width="18.28" height="18.73" fill="#2358a8"/>
<rect x="898.78" y="993.19" width="18.28" height="18.73" fill="#2358a8"/>
<rect x="916.46" y="993.19" width="18.28" height="18.73" fill="#2358a8"/>
<rect x="934.15" y="993.19" width="18.28" height="18.73" fill="#2649a0"/>
<rect x="951.83" y="993.19" width="18.28" height="18.73" fill="#2358a8"/>
<rect x="969.52" y="993.19" width="18.28" height="18.73" fill="#2468b0"/>
<rect x="651.20" y="1011.33" width="18.28" height="18.73" fill="#2b3990"/>
<rect x="668.88" y="1011.33" width="18.28" height="18.73" fill="#2b3990"/>
<rect x="686.57" y="1011.33" width="18.28" height="18.73" fill="#76c8be"/>
<rect x="704.25" y="1011.33" width="18.28" height="18.73" fill="#76c8be"/>
<rect x="721.94" y="1011.33" width="18.28" height="18.73" fill="#050505"/>
<rect x="739.62" y="1011.33" width="18.28" height="18.73" fill="#76c8be"/>
<rect x="757.31" y="1011.33" width="18.28" height="18.73" fill="#2468b0"/>
<rect x="774.99" y="1011.33" width="18.28" height="18.73" fill="#2a99cb"/>
<rect x="792.67" y="1011.33" width="18.28" height="18.73" fill="#2649a0"/>
<rect x="810.36" y="1011.33" width="18.28" height="18.73" fill="#2649a0"/>
<rect x="828.04" y="1011.33" width="18.28" height="18.73" fill="#2649a0"/>
<rect x="845.73" y="1011.33" width="18.28" height="18.73" fill="#2649a0"/>
<rect x="863.41" y="1011.33" width="18.28" height="18.73" fill="#2649a0"/>
<rect x="881.09" y="1011.33" width="18.28" height="18.73" fill="#2468b0"/>
<rect x="898.78" y="1011.33" width="18.28" height="18.73" fill="#2358a8"/>
<rect x="916.46" y="1011.33" width="18.28" height="18.73" fill="#2358a8"/>
<rect x="934.15" y="1011.33" width="18.28" height="18.73" fill="#2649a0"/>
<rect x="951.83" y="1011.33" width="18.28" height="18.73" fill="#2649a0"/>
<rect x="969.52" y="1011.33" width="18.28" height="18.73" fill="#2468b0"/>
<rect x="651.20" y="1029.46" width="18.28" height="18.73" fill="#2b3990"/>
<rect x="668.88" y="1029.46" width="18.28" height="18.73" fill="#2b3990"/>
<rect x="686.57" y="1029.46" width="18.28" height="18.73" fill="#c4e6b6"/>
<rect x="704.25" y="1029.46" width="18.28" height="18.73" fill="#3fb3c7"/>
<rect x="721.94" y="1029.46" width="18.28" height="18.73" fill="#2649a0"/>
<rect x="739.62" y="1029.46" width="18.28" height="18.73" fill="#050505"/>
<rect x="757.31" y="1029.46" width="18.28" height="18.73" fill="#2358a8"/>
<rect x="774.99" y="1029.46" width="18.28" height="18.73" fill="#2649a0"/>
<rect x="792.67" y="1029.46" width="18.28" height="18.73" fill="#76c8be"/>
<rect x="810.36" y="1029.46" width="18.28" height="18.73" fill="#2b3990"/>
<rect x="828.04" y="1029.46" width="18.28" height="18.73" fill="#2468b0"/>
<rect x="845.73" y="1029.46" width="18.28" height="18.73" fill="#2358a8"/>
<rect x="863.41" y="1029.46" width="18.28" height="18.73" fill="#2649a0"/>
<rect x="881.09" y="1029.46" width="18.28" height="18.73" fill="#2649a0"/>
<rect x="898.78" y="1029.46" width="18.28" height="18.73" fill="#2649a0"/>
<rect x="916.46" y="1029.46" width="18.28" height="18.73" fill="#2358a8"/>
<rect x="934.15" y="1029.46" width="18.28" height="18.73" fill="#2649a0"/>
<rect x="951.83" y="1029.46" width="18.28" height="18.73" fill="#2649a0"/>
<rect x="969.52" y="1029.46" width="18.28" height="18.73" fill="#2b3990"/>
<rect x="651.20" y="1047.59" width="18.28" height="18.73" fill="#2682c2"/>
<rect x="668.88" y="1047.59" width="18.28" height="18.73" fill="#3fb3c7"/>
<rect x="686.57" y="1047.59" width="18.28" height="18.73" fill="#2468b0"/>
<rect x="704.25" y="1047.59" width="18.28" height="18.73" fill="#2468b0"/>
<rect x="721.94" y="1047.59" width="18.28" height="18.73" fill="#2682c2"/>
<rect x="739.62" y="1047.59" width="18.28" height="18.73" fill="#2468b0"/>
<rect x="757.31" y="1047.59" width="18.28" height="18.73" fill="#050505"/>
<rect x="774.99" y="1047.59" width="18.28" height="18.73" fill="#2682c2"/>
<rect x="792.67" y="1047.59" width="18.28" height="18.73" fill="#2682c2"/>
<rect x="810.36" y="1047.59" width="18.28" height="18.73" fill="#2a99cb"/>
<rect x="828.04" y="1047.59" width="18.28" height="18.73" fill="#2468b0"/>
<rect x="845.73" y="1047.59" width="18.28" height="18.73" fill="#2468b0"/>
<rect x="863.41" y="1047.59" width="18.28" height="18.73" fill="#2468b0"/>
<rect x="881.09" y="1047.59" width="18.28" height="18.73" fill="#2468b0"/>
<rect x="898.78" y="1047.59" width="18.28" height="18.73" fill="#2358a8"/>
<rect x="916.46" y="1047.59" width="18.28" height="18.73" fill="#2358a8"/>
<rect x="934.15" y="1047.59" width="18.28" height="18.73" fill="#2358a8"/>
<rect x="951.83" y="1047.59" width="18.28" height="18.73" fill="#2358a8"/>
<rect x="969.52" y="1047.59" width="18.28" height="18.73" fill="#2649a0"/>
<rect x="651.20" y="1065.72" width="18.28" height="18.73" fill="#2b3990"/>
<rect x="668.88" y="1065.72" width="18.28" height="18.73" fill="#2b3990"/>
<rect x="686.57" y="1065.72" width="18.28" height="18.73" fill="#2b3990"/>
<rect x="704.25" y="1065.72" width="18.28" height="18.73" fill="#2b3990"/>
<rect x="721.94" y="1065.72" width="18.28" height="18.73" fill="#2b3990"/>
<rect x="739.62" y="1065.72" width="18.28" height="18.73" fill="#2b3990"/>
<rect x="757.31" y="1065.72" width="18.28" height="18.73" fill="#2a99cb"/>
<rect x="774.99" y="1065.72" width="18.28" height="18.73" fill="#050505"/>
<rect x="792.67" y="1065.72" width="18.28" height="18.73" fill="#2a99cb"/>
<rect x="810.36" y="1065.72" width="18.28" height="18.73" fill="#f6f5c6"/>
<rect x="828.04" y="1065.72" width="18.28" height="18.73" fill="#2682c2"/>
<rect x="845.73" y="1065.72" width="18.28" height="18.73" fill="#2682c2"/>
<rect x="863.41" y="1065.72" width="18.28" height="18.73" fill="#2682c2"/>
<rect x="881.09" y="1065.72" width="18.28" height="18.73" fill="#2682c2"/>
<rect x="898.78" y="1065.72" width="18.28" height="18.73" fill="#2468b0"/>
<rect x="916.46" y="1065.72" width="18.28" height="18.73" fill="#2468b0"/>
<rect x="934.15" y="1065.72" width="18.28" height="18.73" fill="#2358a8"/>
<rect x="951.83" y="1065.72" width="18.28" height="18.73" fill="#2468b0"/>
<rect x="969.52" y="1065.72" width="18.28" height="18.73" fill="#2468b0"/>
<rect x="651.20" y="1083.85" width="18.28" height="18.73" fill="#2b3990"/>
<rect x="668.88" y="1083.85" width="18.28" height="18.73" fill="#2649a0"/>
<rect x="686.57" y="1083.85" width="18.28" height="18.73" fill="#2b3990"/>
<rect x="704.25" y="1083.85" width="18.28" height="18.73" fill="#2b3990"/>
<rect x="721.94" y="1083.85" width="18.28" height="18.73" fill="#2b3990"/>
<rect x="739.62" y="1083.85" width="18.28" height="18.73" fill="#2b3990"/>
<rect x="757.31" y="1083.85" width="18.28" height="18.73" fill="#3fb3c7"/>
<rect x="774.99" y="1083.85" width="18.28" height="18.73" fill="#76c8be"/>
<rect x="792.67" y="1083.85" width="18.28" height="18.73" fill="#050505"/>
<rect x="810.36" y="1083.85" width="18.28" height="18.73" fill="#2a99cb"/>
<rect x="828.04" y="1083.85" width="18.28" height="18.73" fill="#2682c2"/>
<rect x="845.73" y="1083.85" width="18.28" height="18.73" fill="#2682c2"/>
<rect x="863.41" y="1083.85" width="18.28" height="18.73" fill="#2682c2"/>
<rect x="881.09" y="1083.85" width="18.28" height="18.73" fill="#2468b0"/>
<rect x="898.78" y="1083.85" width="18.28" height="18.73" fill="#2358a8"/>
<rect x="916.46" y="1083.85" width="18.28" height="18.73" fill="#2468b0"/>
<rect x="934.15" y="1083.85" width="18.28" height="18.73" fill="#2682c2"/>
<rect x="951.83" y="1083.85" width="18.28" height="18.73" fill="#2358a8"/>
<rect x="969.52" y="1083.85" width="18.28" height="18.73" fill="#2468b0"/>
<rect x="651.20" y="1101.98" width="18.28" height="18.73" fill="#2b3990"/>
<rect x="668.88" y="1101.98" width="18.28" height="18.73" fill="#2b3990"/>
<rect x="686.57" y="1101.98" width="18.28" height="18.73" fill="#2b3990"/>
<rect x="704.25" y="1101.98" width="18.28" height="18.73" fill="#2b3990"/>
<rect x="721.94" y="1101.98" width="18.28" height="18.73" fill="#2b3990"/>
<rect x="739.62" y="1101.98" width="18.28" height="18.73" fill="#2b3990"/>
<rect x="757.31" y="1101.98" width="18.28" height="18.73" fill="#2468b0"/>
<rect x="774.99" y="1101.98" width="18.28" height="18.73" fill="#f6f5c6"/>
<rect x="792.67" y="1101.98" width="18.28" height="18.73" fill="#76c8be"/>
<rect x="810.36" y="1101.98" width="18.28" height="18.73" fill="#050505"/>
<rect x="828.04" y="1101.98" width="18.28" height="18.73" fill="#2358a8"/>
<rect x="845.73" y="1101.98" width="18.28" height="18.73" fill="#2358a8"/>
<rect x="863.41" y="1101.98" width="18.28" height="18.73" fill="#76c8be"/>
<rect x="881.09" y="1101.98" width="18.28" height="18.73" fill="#2468b0"/>
<rect x="898.78" y="1101.98" width="18.28" height="18.73" fill="#2b3990"/>
<rect x="916.46" y="1101.98" width="18.28" height="18.73" fill="#2358a8"/>
<rect x="934.15" y="1101.98" width="18.28" height="18.73" fill="#2358a8"/>
<rect x="951.83" y="1101.98" width="18.28" height="18.73" fill="#2358a8"/>
<rect x="969.52" y="1101.98" width="18.28" height="18.73" fill="#2649a0"/>
<rect x="651.20" y="1120.12" width="18.28" height="18.73" fill="#2b3990"/>
<rect x="668.88" y="1120.12" width="18.28" height="18.73" fill="#2b3990"/>
<rect x="686.57" y="1120.12" width="18.28" height="18.73" fill="#2b3990"/>
<rect x="704.25" y="1120.12" width="18.28" height="18.73" fill="#2649a0"/>
<rect x="721.94" y="1120.12" width="18.28" height="18.73" fill="#2b3990"/>
<rect x="739.62" y="1120.12" width="18.28" height="18.73" fill="#2b3990"/>
<rect x="757.31" y="1120.12" width="18.28" height="18.73" fill="#2b3990"/>
<rect x="774.99" y="1120.12" width="18.28" height="18.73" fill="#2b3990"/>
<rect x="792.67" y="1120.12" width="18.28" height="18.73" fill="#2b3990"/>
<rect x="810.36" y="1120.12" width="18.28" height="18.73" fill="#2b3990"/>
<rect x="828.04" y="1120.12" width="18.28" height="18.73" fill="#050505"/>
<rect x="845.73" y="1120.12" width="18.28" height="18.73" fill="#3fb3c7"/>
<rect x="863.41" y="1120.12" width="18.28" height="18.73" fill="#3fb3c7"/>
<rect x="881.09" y="1120.12" width="18.28" height="18.73" fill="#3fb3c7"/>
<rect x="898.78" y="1120.12" width="18.28" height="18.73" fill="#2a99cb"/>
<rect x="916.46" y="1120.12" width="18.28" height="18.73" fill="#2a99cb"/>
<rect x="934.15" y="1120.12" width="18.28" height="18.73" fill="#2a99cb"/>
<rect x="951.83" y="1120.12" width="18.28" height="18.73" fill="#2682c2"/>
<rect x="969.52" y="1120.12" width="18.28" height="18.73" fill="#2a99cb"/>
<rect x="651.20" y="1138.25" width="18.28" height="18.73" fill="#2b3990"/>
<rect x="668.88" y="1138.25" width="18.28" height="18.73" fill="#2358a8"/>
<rect x="686.57" y="1138.25" width="18.28" height="18.73" fill="#2b3990"/>
<rect x="704.25" y="1138.25" width="18.28" height="18.73" fill="#2649a0"/>
<rect x="721.94" y="1138.25" width="18.28" height="18.73" fill="#2b3990"/>
<rect x="739.62" y="1138.25" width="18.28" height="18.73" fill="#2b3990"/>
<rect x="757.31" y="1138.25" width="18.28" height="18.73" fill="#2b3990"/>
<rect x="774.99" y="1138.25" width="18.28" height="18.73" fill="#2b3990"/>
<rect x="792.67" y="1138.25" width="18.28" height="18.73" fill="#2b3990"/>
<rect x="810.36" y="1138.25" width="18.28" height="18.73" fill="#2649a0"/>
<rect x="828.04" y="1138.25" width="18.28" height="18.73" fill="#3fb3c7"/>
<rect x="845.73" y="1138.25" width="18.28" height="18.73" fill="#050505"/>
<rect x="863.41" y="1138.25" width="18.28" height="18.73" fill="#3fb3c7"/>
<rect x="881.09" y="1138.25" width="18.28" height="18.73" fill="#2a99cb"/>
<rect x="898.78" y="1138.25" width="18.28" height="18.73" fill="#2a99cb"/>
<rect x="916.46" y="1138.25" width="18.28" height="18.73" fill="#2a99cb"/>
<rect x="934.15" y="1138.25" width="18.28" height="18.73" fill="#2a99cb"/>
<rect x="951.83" y="1138.25" width="18.28" height="18.73" fill="#2682c2"/>
<rect x="969.52" y="1138.25" width="18.28" height="18.73" fill="#2a99cb"/>
<rect x="651.20" y="1156.38" width="18.28" height="18.73" fill="#2b3990"/>
<rect x="668.88" y="1156.38" width="18.28" height="18.73" fill="#2b3990"/>
<rect x="686.57" y="1156.38" width="18.28" height="18.73" fill="#2b3990"/>
<rect x="704.25" y="1156.38" width="18.28" height="18.73" fill="#2b3990"/>
<rect x="721.94" y="1156.38" width="18.28" height="18.73" fill="#2b3990"/>
<rect x="739.62" y="1156.38" width="18.28" height="18.73" fill="#2b3990"/>
<rect x="757.31" y="1156.38" width="18.28" height="18.73" fill="#2b3990"/>
<rect x="774.99" y="1156.38" width="18.28" height="18.73" fill="#2b3990"/>
<rect x="792.67" y="1156.38" width="18.28" height="18.73" fill="#2b3990"/>
<rect x="810.36" y="1156.38" width="18.28" height="18.73" fill="#2b3990"/>
<rect x="828.04" y="1156.38" width="18.28" height="18.73" fill="#3fb3c7"/>
<rect x="845.73" y="1156.38" width="18.28" height="18.73" fill="#2682c2"/>
<rect x="863.41" y="1156.38" width="18.28" height="18.73" fill="#050505"/>
<rect x="881.09" y="1156.38" width="18.28" height="18.73" fill="#76c8be"/>
<rect x="898.78" y="1156.38" width="18.28" height="18.73" fill="#f6f5c6"/>
<rect x="916.46" y="1156.38" width="18.28" height="18.73" fill="#3fb3c7"/>
<rect x="934.15" y="1156.38" width="18.28" height="18.73" fill="#2b3990"/>
<rect x="951.83" y="1156.38" width="18.28" height="18.73" fill="#2682c2"/>
<rect x="969.52" y="1156.38" width="18.28" height="18.73" fill="#3fb3c7"/>
<rect x="651.20" y="1174.51" width="18.28" height="18.73" fill="#2b3990"/>
<rect x="668.88" y="1174.51" width="18.28" height="18.73" fill="#2682c2"/>
<rect x="686.57" y="1174.51" width="18.28" height="18.73" fill="#2b3990"/>
<rect x="704.25" y="1174.51" width="18.28" height="18.73" fill="#2358a8"/>
<rect x="721.94" y="1174.51" width="18.28" height="18.73" fill="#2b3990"/>
<rect x="739.62" y="1174.51" width="18.28" height="18.73" fill="#2b3990"/>
<rect x="757.31" y="1174.51" width="18.28" height="18.73" fill="#2b3990"/>
<rect x="774.99" y="1174.51" width="18.28" height="18.73" fill="#2b3990"/>
<rect x="792.67" y="1174.51" width="18.28" height="18.73" fill="#2b3990"/>
<rect x="810.36" y="1174.51" width="18.28" height="18.73" fill="#2b3990"/>
<rect x="828.04" y="1174.51" width="18.28" height="18.73" fill="#3fb3c7"/>
<rect x="845.73" y="1174.51" width="18.28" height="18.73" fill="#3fb3c7"/>
<rect x="863.41" y="1174.51" width="18.28" height="18.73" fill="#2a99cb"/>
<rect x="881.09" y="1174.51" width="18.28" height="18.73" fill="#050505"/>
<rect x="898.78" y="1174.51" width="18.28" height="18.73" fill="#2a99cb"/>
<rect x="916.46" y="1174.51" width="18.28" height="18.73" fill="#2a99cb"/>
<rect x="934.15" y="1174.51" width="18.28" height="18.73" fill="#76c8be"/>
<rect x="951.83" y="1174.51" width="18.28" height="18.73" fill="#2468b0"/>
<rect x="969.52" y="1174.51" width="18.28" height="18.73" fill="#2b3990"/>
<rect x="651.20" y="1192.64" width="18.28" height="18.73" fill="#2b3990"/>
<rect x="668.88" y="1192.64" width="18.28" height="18.73" fill="#2b3990"/>
<rect x="686.57" y="1192.64" width="18.28" height="18.73" fill="#2b3990"/>
<rect x="704.25" y="1192.64" width="18.28" height="18.73" fill="#2682c2"/>
<rect x="721.94" y="1192.64" width="18.28" height="18.73" fill="#2b3990"/>
<rect x="739.62" y="1192.64" width="18.28" height="18.73" fill="#2b3990"/>
<rect x="757.31" y="1192.64" width="18.28" height="18.73" fill="#2b3990"/>
<rect x="774.99" y="1192.64" width="18.28" height="18.73" fill="#2b3990"/>
<rect x="792.67" y="1192.64" width="18.28" height="18.73" fill="#2b3990"/>
<rect x="810.36" y="1192.64" width="18.28" height="18.73" fill="#2b3990"/>
<rect x="828.04" y="1192.64" width="18.28" height="18.73" fill="#2b3990"/>
<rect x="845.73" y="1192.64" width="18.28" height="18.73" fill="#2b3990"/>
<rect x="863.41" y="1192.64" width="18.28" height="18.73" fill="#2b3990"/>
<rect x="881.09" y="1192.64" width="18.28" height="18.73" fill="#2b3990"/>
<rect x="898.78" y="1192.64" width="18.28" height="18.73" fill="#050505"/>
<rect x="916.46" y="1192.64" width="18.28" height="18.73" fill="#c4e6b6"/>
<rect x="934.15" y="1192.64" width="18.28" height="18.73" fill="#c4e6b6"/>
<rect x="951.83" y="1192.64" width="18.28" height="18.73" fill="#3fb3c7"/>
<rect x="969.52" y="1192.64" width="18.28" height="18.73" fill="#f6f5c6"/>
<rect x="651.20" y="1210.77" width="18.28" height="18.73" fill="#2b3990"/>
<rect x="668.88" y="1210.77" width="18.28" height="18.73" fill="#2b3990"/>
<rect x="686.57" y="1210.77" width="18.28" height="18.73" fill="#2b3990"/>
<rect x="704.25" y="1210.77" width="18.28" height="18.73" fill="#2682c2"/>
<rect x="721.94" y="1210.77" width="18.28" height="18.73" fill="#2b3990"/>
<rect x="739.62" y="1210.77" width="18.28" height="18.73" fill="#2b3990"/>
<rect x="757.31" y="1210.77" width="18.28" height="18.73" fill="#2b3990"/>
<rect x="774.99" y="1210.77" width="18.28" height="18.73" fill="#2b3990"/>
<rect x="792.67" y="1210.77" width="18.28" height="18.73" fill="#2b3990"/>
<rect x="810.36" y="1210.77" width="18.28" height="18.73" fill="#2b3990"/>
<rect x="828.04" y="1210.77" width="18.28" height="18.73" fill="#2b3990"/>
<rect x="845.73" y="1210.77" width="18.28" height="18.73" fill="#2b3990"/>
<rect x="863.41" y="1210.77" width="18.28" height="18.73" fill="#2b3990"/>
<rect x="881.09" y="1210.77" width="18.28" height="18.73" fill="#2b3990"/>
<rect x="898.78" y="1210.77" width="18.28" height="18.73" fill="#f6f5c6"/>
<rect x="916.46" y="1210.77" width="18.28" height="18.73" fill="#050505"/>
<rect x="934.15" y="1210.77" width="18.28" height="18.73" fill="#c4e6b6"/>
<rect x="951.83" y="1210.77" width="18.28" height="18.73" fill="#3fb3c7"/>
<rect x="969.52" y="1210.77" width="18.28" height="18.73" fill="#3fb3c7"/>
<rect x="651.20" y="1228.91" width="18.28" height="18.73" fill="#2b3990"/>
<rect x="668.88" y="1228.91" width="18.28" height="18.73" fill="#2b3990"/>
<rect x="686.57" y="1228.91" width="18.28" height="18.73" fill="#2b3990"/>
<rect x="704.25" y="1228.91" width="18.28" height="18.73" fill="#2468b0"/>
<rect x="721.94" y="1228.91" width="18.28" height="18.73" fill="#2b3990"/>
<rect x="739.62" y="1228.91" width="18.28" height="18.73" fill="#2b3990"/>
<rect x="757.31" y="1228.91" width="18.28" height="18.73" fill="#2b3990"/>
<rect x="774.99" y="1228.91" width="18.28" height="18.73" fill="#2b3990"/>
<rect x="792.67" y="1228.91" width="18.28" height="18.73" fill="#2b3990"/>
<rect x="810.36" y="1228.91" width="18.28" height="18.73" fill="#2b3990"/>
<rect x="828.04" y="1228.91" width="18.28" height="18.73" fill="#2b3990"/>
<rect x="845.73" y="1228.91" width="18.28" height="18.73" fill="#2b3990"/>
<rect x="863.41" y="1228.91" width="18.28" height="18.73" fill="#2b3990"/>
<rect x="881.09" y="1228.91" width="18.28" height="18.73" fill="#2b3990"/>
<rect x="898.78" y="1228.91" width="18.28" height="18.73" fill="#f6f5c6"/>
<rect x="916.46" y="1228.91" width="18.28" height="18.73" fill="#76c8be"/>
<rect x="934.15" y="1228.91" width="18.28" height="18.73" fill="#050505"/>
<rect x="951.83" y="1228.91" width="18.28" height="18.73" fill="#3fb3c7"/>
<rect x="969.52" y="1228.91" width="18.28" height="18.73" fill="#c4e6b6"/>
<rect x="651.20" y="1247.04" width="18.28" height="18.73" fill="#2649a0"/>
<rect x="668.88" y="1247.04" width="18.28" height="18.73" fill="#2649a0"/>
<rect x="686.57" y="1247.04" width="18.28" height="18.73" fill="#2358a8"/>
<rect x="704.25" y="1247.04" width="18.28" height="18.73" fill="#2b3990"/>
<rect x="721.94" y="1247.04" width="18.28" height="18.73" fill="#2b3990"/>
<rect x="739.62" y="1247.04" width="18.28" height="18.73" fill="#2b3990"/>
<rect x="757.31" y="1247.04" width="18.28" height="18.73" fill="#2649a0"/>
<rect x="774.99" y="1247.04" width="18.28" height="18.73" fill="#2649a0"/>
<rect x="792.67" y="1247.04" width="18.28" height="18.73" fill="#2b3990"/>
<rect x="810.36" y="1247.04" width="18.28" height="18.73" fill="#3fb3c7"/>
<rect x="828.04" y="1247.04" width="18.28" height="18.73" fill="#2b3990"/>
<rect x="845.73" y="1247.04" width="18.28" height="18.73" fill="#2b3990"/>
<rect x="863.41" y="1247.04" width="18.28" height="18.73" fill="#2b3990"/>
<rect x="881.09" y="1247.04" width="18.28" height="18.73" fill="#2649a0"/>
<rect x="898.78" y="1247.04" width="18.28" height="18.73" fill="#2649a0"/>
<rect x="916.46" y="1247.04" width="18.28" height="18.73" fill="#2649a0"/>
<rect x="934.15" y="1247.04" width="18.28" height="18.73" fill="#2b3990"/>
<rect x="951.83" y="1247.04" width="18.28" height="18.73" fill="#050505"/>
<rect x="969.52" y="1247.04" width="18.28" height="18.73" fill="#f6f5c6"/>
<rect x="651.20" y="1265.17" width="18.28" height="18.73" fill="#2b3990"/>
<rect x="668.88" y="1265.17" width="18.28" height="18.73" fill="#2b3990"/>
<rect x="686.57" y="1265.17" width="18.28" height="18.73" fill="#2b3990"/>
<rect x="704.25" y="1265.17" width="18.28" height="18.73" fill="#2358a8"/>
<rect x="721.94" y="1265.17" width="18.28" height="18.73" fill="#2b3990"/>
<rect x="739.62" y="1265.17" width="18.28" height="18.73" fill="#3fb3c7"/>
<rect x="757.31" y="1265.17" width="18.28" height="18.73" fill="#2b3990"/>
<rect x="774.99" y="1265.17" width="18.28" height="18.73" fill="#2b3990"/>
<rect x="792.67" y="1265.17" width="18.28" height="18.73" fill="#2b3990"/>
<rect x="810.36" y="1265.17" width="18.28" height="18.73" fill="#2b3990"/>
<rect x="828.04" y="1265.17" width="18.28" height="18.73" fill="#2b3990"/>
<rect x="845.73" y="1265.17" width="18.28" height="18.73" fill="#2649a0"/>
<rect x="863.41" y="1265.17" width="18.28" height="18.73" fill="#2b3990"/>
<rect x="881.09" y="1265.17" width="18.28" height="18.73" fill="#2358a8"/>
<rect x="898.78" y="1265.17" width="18.28" height="18.73" fill="#2358a8"/>
<rect x="916.46" y="1265.17" width="18.28" height="18.73" fill="#2358a8"/>
<rect x="934.15" y="1265.17" width="18.28" height="18.73" fill="#2b3990"/>
<rect x="951.83" y="1265.17" width="18.28" height="18.73" fill="#f6f5c6"/>
<rect x="969.52" y="1265.17" width="18.28" height="18.73" fill="#050505"/>
<rect x="649.50" y="938.10" width="338.40" height="346.40" fill="none" stroke="#000" stroke-width="1.6"/>
<line x1="650.00" y1="937.30" x2="650.00" y2="1285.80" stroke="#000" stroke-width="2.8" stroke-linecap="butt"/>
<line x1="648.70" y1="1284.10" x2="988.70" y2="1284.10" stroke="#000" stroke-width="2.6" stroke-linecap="butt"/>
<line x1="640.00" y1="947.87" x2="648.70" y2="947.87" stroke="#333" stroke-width="3.4" stroke-linecap="butt"/>
<text transform="translate(580.24,956.47) scale(0.9550,1)" font-family="'Liberation Sans', Arial, sans-serif" font-weight="normal" font-style="normal" font-size="24.95" fill="#4d4d4d">CCG</text>
<line x1="640.00" y1="966.00" x2="648.70" y2="966.00" stroke="#333" stroke-width="3.4" stroke-linecap="butt"/>
<text transform="translate(583.75,974.60) scale(0.9550,1)" font-family="'Liberation Sans', Arial, sans-serif" font-weight="normal" font-style="normal" font-size="24.95" fill="#4d4d4d">AAA</text>
<line x1="640.00" y1="984.13" x2="648.70" y2="984.13" stroke="#333" stroke-width="3.4" stroke-linecap="butt"/>
<text transform="translate(588.22,992.73) scale(0.9550,1)" font-family="'Liberation Sans', Arial, sans-serif" font-weight="normal" font-style="normal" font-size="24.95" fill="#4d4d4d">TTA</text>
<line x1="640.00" y1="1002.26" x2="648.70" y2="1002.26" stroke="#333" stroke-width="3.4" stroke-linecap="butt"/>
<text transform="translate(580.66,1010.86) scale(0.9550,1)" font-family="'Liberation Sans', Arial, sans-serif" font-weight="normal" font-style="normal" font-size="24.95" fill="#4d4d4d">GAC</text>
<line x1="640.00" y1="1020.39" x2="648.70" y2="1020.39" stroke="#333" stroke-width="3.4" stroke-linecap="butt"/>
<text transform="translate(578.93,1028.99) scale(0.9550,1)" font-family="'Liberation Sans', Arial, sans-serif" font-weight="normal" font-style="normal" font-size="24.95" fill="#4d4d4d">CGG</text>
<line x1="640.00" y1="1038.52" x2="648.70" y2="1038.52" stroke="#333" stroke-width="3.4" stroke-linecap="butt"/>
<text transform="translate(582.03,1047.12) scale(0.9550,1)" font-family="'Liberation Sans', Arial, sans-serif" font-weight="normal" font-style="normal" font-size="24.95" fill="#4d4d4d">GTC</text>
<line x1="640.00" y1="1056.66" x2="648.70" y2="1056.66" stroke="#333" stroke-width="3.4" stroke-linecap="butt"/>
<text transform="translate(584.29,1065.26) scale(0.9550,1)" font-family="'Liberation Sans', Arial, sans-serif" font-weight="normal" font-style="normal" font-size="24.95" fill="#4d4d4d">ACT</text>
<line x1="640.00" y1="1074.79" x2="648.70" y2="1074.79" stroke="#333" stroke-width="3.4" stroke-linecap="butt"/>
<text transform="translate(585.96,1083.39) scale(0.9550,1)" font-family="'Liberation Sans', Arial, sans-serif" font-weight="normal" font-style="normal" font-size="24.95" fill="#4d4d4d">TTC</text>
<line x1="640.00" y1="1092.92" x2="648.70" y2="1092.92" stroke="#333" stroke-width="3.4" stroke-linecap="butt"/>
<text transform="translate(581.55,1101.52) scale(0.9550,1)" font-family="'Liberation Sans', Arial, sans-serif" font-weight="normal" font-style="normal" font-size="24.95" fill="#4d4d4d">ACG</text>
<line x1="640.00" y1="1111.05" x2="648.70" y2="1111.05" stroke="#333" stroke-width="3.4" stroke-linecap="butt"/>
<text transform="translate(586.02,1119.65) scale(0.9550,1)" font-family="'Liberation Sans', Arial, sans-serif" font-weight="normal" font-style="normal" font-size="24.95" fill="#4d4d4d">ATG</text>
<line x1="640.00" y1="1129.18" x2="648.70" y2="1129.18" stroke="#333" stroke-width="3.4" stroke-linecap="butt"/>
<text transform="translate(587.39,1137.78) scale(0.9550,1)" font-family="'Liberation Sans', Arial, sans-serif" font-weight="normal" font-style="normal" font-size="24.95" fill="#4d4d4d">AAT</text>
<line x1="640.00" y1="1147.31" x2="648.70" y2="1147.31" stroke="#333" stroke-width="3.4" stroke-linecap="butt"/>
<text transform="translate(585.54,1155.91) scale(0.9550,1)" font-family="'Liberation Sans', Arial, sans-serif" font-weight="normal" font-style="normal" font-size="24.95" fill="#4d4d4d">TTG</text>
<line x1="640.00" y1="1165.44" x2="648.70" y2="1165.44" stroke="#333" stroke-width="3.4" stroke-linecap="butt"/>
<text transform="translate(586.91,1174.04) scale(0.9550,1)" font-family="'Liberation Sans', Arial, sans-serif" font-weight="normal" font-style="normal" font-size="24.95" fill="#4d4d4d">TAA</text>
<line x1="640.00" y1="1183.58" x2="648.70" y2="1183.58" stroke="#333" stroke-width="3.4" stroke-linecap="butt"/>
<text transform="translate(581.97,1192.18) scale(0.9550,1)" font-family="'Liberation Sans', Arial, sans-serif" font-weight="normal" font-style="normal" font-size="24.95" fill="#4d4d4d">CAC</text>
<line x1="640.00" y1="1201.71" x2="648.70" y2="1201.71" stroke="#333" stroke-width="3.4" stroke-linecap="butt"/>
<text transform="translate(578.51,1210.31) scale(0.9550,1)" font-family="'Liberation Sans', Arial, sans-serif" font-weight="normal" font-style="normal" font-size="24.95" fill="#4d4d4d">GGA</text>
<line x1="640.00" y1="1219.84" x2="648.70" y2="1219.84" stroke="#333" stroke-width="3.4" stroke-linecap="butt"/>
<text transform="translate(581.13,1228.44) scale(0.9550,1)" font-family="'Liberation Sans', Arial, sans-serif" font-weight="normal" font-style="normal" font-size="24.95" fill="#4d4d4d">CCA</text>
<line x1="640.00" y1="1237.97" x2="648.70" y2="1237.97" stroke="#333" stroke-width="3.4" stroke-linecap="butt"/>
<text transform="translate(581.13,1246.57) scale(0.9550,1)" font-family="'Liberation Sans', Arial, sans-serif" font-weight="normal" font-style="normal" font-size="24.95" fill="#4d4d4d">GAA</text>
<line x1="640.00" y1="1256.10" x2="648.70" y2="1256.10" stroke="#333" stroke-width="3.4" stroke-linecap="butt"/>
<text transform="translate(586.08,1264.70) scale(0.9550,1)" font-family="'Liberation Sans', Arial, sans-serif" font-weight="normal" font-style="normal" font-size="24.95" fill="#4d4d4d">CAT</text>
<line x1="640.00" y1="1274.23" x2="648.70" y2="1274.23" stroke="#333" stroke-width="3.4" stroke-linecap="butt"/>
<text transform="translate(582.50,1282.83) scale(0.9550,1)" font-family="'Liberation Sans', Arial, sans-serif" font-weight="normal" font-style="normal" font-size="24.95" fill="#4d4d4d">TGA</text>
<line x1="660.04" y1="1285.30" x2="660.04" y2="1293.80" stroke="#333" stroke-width="3.6" stroke-linecap="butt"/>
<text transform="translate(652.34,1301.28) rotate(90) scale(0.9200,1)" font-family="'Liberation Sans', Arial, sans-serif" font-weight="normal" font-style="normal" font-size="22.08" fill="#4d4d4d">CCG</text>
<line x1="677.73" y1="1285.30" x2="677.73" y2="1293.80" stroke="#333" stroke-width="3.6" stroke-linecap="butt"/>
<text transform="translate(670.03,1302.25) rotate(90) scale(0.9200,1)" font-family="'Liberation Sans', Arial, sans-serif" font-weight="normal" font-style="normal" font-size="22.40" fill="#4d4d4d">AAA</text>
<line x1="695.41" y1="1285.30" x2="695.41" y2="1293.80" stroke="#333" stroke-width="3.6" stroke-linecap="butt"/>
<text transform="translate(687.71,1301.84) rotate(90) scale(0.9200,1)" font-family="'Liberation Sans', Arial, sans-serif" font-weight="normal" font-style="normal" font-size="22.40" fill="#4d4d4d">TTA</text>
<line x1="713.09" y1="1285.30" x2="713.09" y2="1293.80" stroke="#333" stroke-width="3.6" stroke-linecap="butt"/>
<text transform="translate(705.39,1301.28) rotate(90) scale(0.9200,1)" font-family="'Liberation Sans', Arial, sans-serif" font-weight="normal" font-style="normal" font-size="22.08" fill="#4d4d4d">GAC</text>
<line x1="730.78" y1="1285.30" x2="730.78" y2="1293.80" stroke="#333" stroke-width="3.6" stroke-linecap="butt"/>
<text transform="translate(723.08,1301.28) rotate(90) scale(0.9200,1)" font-family="'Liberation Sans', Arial, sans-serif" font-weight="normal" font-style="normal" font-size="22.08" fill="#4d4d4d">CGG</text>
<line x1="748.46" y1="1285.30" x2="748.46" y2="1293.80" stroke="#333" stroke-width="3.6" stroke-linecap="butt"/>
<text transform="translate(740.76,1301.28) rotate(90) scale(0.9200,1)" font-family="'Liberation Sans', Arial, sans-serif" font-weight="normal" font-style="normal" font-size="22.08" fill="#4d4d4d">GTC</text>
<line x1="766.15" y1="1285.30" x2="766.15" y2="1293.80" stroke="#333" stroke-width="3.6" stroke-linecap="butt"/>
<text transform="translate(758.45,1302.25) rotate(90) scale(0.9200,1)" font-family="'Liberation Sans', Arial, sans-serif" font-weight="normal" font-style="normal" font-size="22.08" fill="#4d4d4d">ACT</text>
<line x1="783.83" y1="1285.30" x2="783.83" y2="1293.80" stroke="#333" stroke-width="3.6" stroke-linecap="butt"/>
<text transform="translate(776.13,1301.84) rotate(90) scale(0.9200,1)" font-family="'Liberation Sans', Arial, sans-serif" font-weight="normal" font-style="normal" font-size="22.08" fill="#4d4d4d">TTC</text>
<line x1="801.52" y1="1285.30" x2="801.52" y2="1293.80" stroke="#333" stroke-width="3.6" stroke-linecap="butt"/>
<text transform="translate(793.82,1302.25) rotate(90) scale(0.9200,1)" font-family="'Liberation Sans', Arial, sans-serif" font-weight="normal" font-style="normal" font-size="22.08" fill="#4d4d4d">ACG</text>
<line x1="819.20" y1="1285.30" x2="819.20" y2="1293.80" stroke="#333" stroke-width="3.6" stroke-linecap="butt"/>
<text transform="translate(811.50,1302.25) rotate(90) scale(0.9200,1)" font-family="'Liberation Sans', Arial, sans-serif" font-weight="normal" font-style="normal" font-size="22.08" fill="#4d4d4d">ATG</text>
<line x1="836.88" y1="1285.30" x2="836.88" y2="1293.80" stroke="#333" stroke-width="3.6" stroke-linecap="butt"/>
<text transform="translate(829.18,1302.25) rotate(90) scale(0.9200,1)" font-family="'Liberation Sans', Arial, sans-serif" font-weight="normal" font-style="normal" font-size="22.40" fill="#4d4d4d">AAT</text>
<line x1="854.57" y1="1285.30" x2="854.57" y2="1293.80" stroke="#333" stroke-width="3.6" stroke-linecap="butt"/>
<text transform="translate(846.87,1301.84) rotate(90) scale(0.9200,1)" font-family="'Liberation Sans', Arial, sans-serif" font-weight="normal" font-style="normal" font-size="22.08" fill="#4d4d4d">TTG</text>
<line x1="872.25" y1="1285.30" x2="872.25" y2="1293.80" stroke="#333" stroke-width="3.6" stroke-linecap="butt"/>
<text transform="translate(864.55,1301.84) rotate(90) scale(0.9200,1)" font-family="'Liberation Sans', Arial, sans-serif" font-weight="normal" font-style="normal" font-size="22.40" fill="#4d4d4d">TAA</text>
<line x1="889.94" y1="1285.30" x2="889.94" y2="1293.80" stroke="#333" stroke-width="3.6" stroke-linecap="butt"/>
<text transform="translate(882.24,1301.28) rotate(90) scale(0.9200,1)" font-family="'Liberation Sans', Arial, sans-serif" font-weight="normal" font-style="normal" font-size="22.08" fill="#4d4d4d">CAC</text>
<line x1="907.62" y1="1285.30" x2="907.62" y2="1293.80" stroke="#333" stroke-width="3.6" stroke-linecap="butt"/>
<text transform="translate(899.92,1301.28) rotate(90) scale(0.9200,1)" font-family="'Liberation Sans', Arial, sans-serif" font-weight="normal" font-style="normal" font-size="22.08" fill="#4d4d4d">GGA</text>
<line x1="925.31" y1="1285.30" x2="925.31" y2="1293.80" stroke="#333" stroke-width="3.6" stroke-linecap="butt"/>
<text transform="translate(917.61,1301.28) rotate(90) scale(0.9200,1)" font-family="'Liberation Sans', Arial, sans-serif" font-weight="normal" font-style="normal" font-size="22.08" fill="#4d4d4d">CCA</text>
<line x1="942.99" y1="1285.30" x2="942.99" y2="1293.80" stroke="#333" stroke-width="3.6" stroke-linecap="butt"/>
<text transform="translate(935.29,1301.28) rotate(90) scale(0.9200,1)" font-family="'Liberation Sans', Arial, sans-serif" font-weight="normal" font-style="normal" font-size="22.08" fill="#4d4d4d">GAA</text>
<line x1="960.67" y1="1285.30" x2="960.67" y2="1293.80" stroke="#333" stroke-width="3.6" stroke-linecap="butt"/>
<text transform="translate(952.97,1301.28) rotate(90) scale(0.9200,1)" font-family="'Liberation Sans', Arial, sans-serif" font-weight="normal" font-style="normal" font-size="22.08" fill="#4d4d4d">CAT</text>
<line x1="978.36" y1="1285.30" x2="978.36" y2="1293.80" stroke="#333" stroke-width="3.6" stroke-linecap="butt"/>
<text transform="translate(970.66,1301.84) rotate(90) scale(0.9200,1)" font-family="'Liberation Sans', Arial, sans-serif" font-weight="normal" font-style="normal" font-size="22.08" fill="#4d4d4d">TGA</text>
<text transform="translate(561.40,1188.02) rotate(-90) scale(0.9326,1)" font-family="'Liberation Sans', Arial, sans-serif" font-weight="normal" font-style="normal" font-size="39.31" fill="#000">Position1</text>
<text transform="translate(741.50,1383.50) scale(0.9495,1)" font-family="'Liberation Sans', Arial, sans-serif" font-weight="normal" font-style="normal" font-size="39.59" fill="#000">Position2</text>
<rect x="1177.50" y="936.80" width="18.28" height="18.73" fill="#050505"/>
<rect x="1195.18" y="936.80" width="18.28" height="18.73" fill="#2b3990"/>
<rect x="1212.87" y="936.80" width="18.28" height="18.73" fill="#2682c2"/>
<rect x="1230.55" y="936.80" width="18.28" height="18.73" fill="#2468b0"/>
<rect x="1248.24" y="936.80" width="18.28" height="18.73" fill="#2a99cb"/>
<rect x="1265.92" y="936.80" width="18.28" height="18.73" fill="#2468b0"/>
<rect x="1283.61" y="936.80" width="18.28" height="18.73" fill="#2a99cb"/>
<rect x="1301.29" y="936.80" width="18.28" height="18.73" fill="#2a99cb"/>
<rect x="1318.97" y="936.80" width="18.28" height="18.73" fill="#2a99cb"/>
<rect x="1336.66" y="936.80" width="18.28" height="18.73" fill="#2a99cb"/>
<rect x="1354.34" y="936.80" width="18.28" height="18.73" fill="#2358a8"/>
<rect x="1372.03" y="936.80" width="18.28" height="18.73" fill="#2358a8"/>
<rect x="1389.71" y="936.80" width="18.28" height="18.73" fill="#2358a8"/>
<rect x="1407.39" y="936.80" width="18.28" height="18.73" fill="#2b3990"/>
<rect x="1425.08" y="936.80" width="18.28" height="18.73" fill="#2358a8"/>
<rect x="1442.76" y="936.80" width="18.28" height="18.73" fill="#2649a0"/>
<rect x="1460.45" y="936.80" width="18.28" height="18.73" fill="#2649a0"/>
<rect x="1478.13" y="936.80" width="18.28" height="18.73" fill="#2358a8"/>
<rect x="1495.82" y="936.80" width="18.28" height="18.73" fill="#2649a0"/>
<rect x="1177.50" y="954.93" width="18.28" height="18.73" fill="#f6f5c6"/>
<rect x="1195.18" y="954.93" width="18.28" height="18.73" fill="#050505"/>
<rect x="1212.87" y="954.93" width="18.28" height="18.73" fill="#2682c2"/>
<rect x="1230.55" y="954.93" width="18.28" height="18.73" fill="#2a99cb"/>
<rect x="1248.24" y="954.93" width="18.28" height="18.73" fill="#2b3990"/>
<rect x="1265.92" y="954.93" width="18.28" height="18.73" fill="#2b3990"/>
<rect x="1283.61" y="954.93" width="18.28" height="18.73" fill="#2a99cb"/>
<rect x="1301.29" y="954.93" width="18.28" height="18.73" fill="#2b3990"/>
<rect x="1318.97" y="954.93" width="18.28" height="18.73" fill="#2b3990"/>
<rect x="1336.66" y="954.93" width="18.28" height="18.73" fill="#2b3990"/>
<rect x="1354.34" y="954.93" width="18.28" height="18.73" fill="#2468b0"/>
<rect x="1372.03" y="954.93" width="18.28" height="18.73" fill="#76c8be"/>
<rect x="1389.71" y="954.93" width="18.28" height="18.73" fill="#2b3990"/>
<rect x="1407.39" y="954.93" width="18.28" height="18.73" fill="#2b3990"/>
<rect x="1425.08" y="954.93" width="18.28" height="18.73" fill="#76c8be"/>
<rect x="1442.76" y="954.93" width="18.28" height="18.73" fill="#2b3990"/>
<rect x="1460.45" y="954.93" width="18.28" height="18.73" fill="#2b3990"/>
<rect x="1478.13" y="954.93" width="18.28" height="18.73" fill="#2468b0"/>
<rect x="1495.82" y="954.93" width="18.28" height="18.73" fill="#2649a0"/>
<rect x="1177.50" y="973.06" width="18.28" height="18.73" fill="#2b3990"/>
<rect x="1195.18" y="973.06" width="18.28" height="18.73" fill="#2b3990"/>
<rect x="1212.87" y="973.06" width="18.28" height="18.73" fill="#050505"/>
<rect x="1230.55" y="973.06" width="18.28" height="18.73" fill="#2a99cb"/>
<rect x="1248.24" y="973.06" width="18.28" height="18.73" fill="#76c8be"/>
<rect x="1265.92" y="973.06" width="18.28" height="18.73" fill="#c4e6b6"/>
<rect x="1283.61" y="973.06" width="18.28" height="18.73" fill="#2468b0"/>
<rect x="1301.29" y="973.06" width="18.28" height="18.73" fill="#2468b0"/>
<rect x="1318.97" y="973.06" width="18.28" height="18.73" fill="#2a99cb"/>
<rect x="1336.66" y="973.06" width="18.28" height="18.73" fill="#2358a8"/>
<rect x="1354.34" y="973.06" width="18.28" height="18.73" fill="#2358a8"/>
<rect x="1372.03" y="973.06" width="18.28" height="18.73" fill="#2649a0"/>
<rect x="1389.71" y="973.06" width="18.28" height="18.73" fill="#2358a8"/>
<rect x="1407.39" y="973.06" width="18.28" height="18.73" fill="#2358a8"/>
<rect x="1425.08" y="973.06" width="18.28" height="18.73" fill="#2649a0"/>
<rect x="1442.76" y="973.06" width="18.28" height="18.73" fill="#2649a0"/>
<rect x="1460.45" y="973.06" width="18.28" height="18.73" fill="#2649a0"/>
<rect x="1478.13" y="973.06" width="18.28" height="18.73" fill="#2358a8"/>
<rect x="1495.82" y="973.06" width="18.28" height="18.73" fill="#2358a8"/>
<rect x="1177.50" y="991.19" width="18.28" height="18.73" fill="#2b3990"/>
<rect x="1195.18" y="991.19" width="18.28" height="18.73" fill="#2b3990"/>
<rect x="1212.87" y="991.19" width="18.28" height="18.73" fill="#c4e6b6"/>
<rect x="1230.55" y="991.19" width="18.28" height="18.73" fill="#050505"/>
<rect x="1248.24" y="991.19" width="18.28" height="18.73" fill="#76c8be"/>
<rect x="1265.92" y="991.19" width="18.28" height="18.73" fill="#2a99cb"/>
<rect x="1283.61" y="991.19" width="18.28" height="18.73" fill="#2a99cb"/>
<rect x="1301.29" y="991.19" width="18.28" height="18.73" fill="#2358a8"/>
<rect x="1318.97" y="991.19" width="18.28" height="18.73" fill="#2682c2"/>
<rect x="1336.66" y="991.19" width="18.28" height="18.73" fill="#2b3990"/>
<rect x="1354.34" y="991.19" width="18.28" height="18.73" fill="#2358a8"/>
<rect x="1372.03" y="991.19" width="18.28" height="18.73" fill="#2358a8"/>
<rect x="1389.71" y="991.19" width="18.28" height="18.73" fill="#2358a8"/>
<rect x="1407.39" y="991.19" width="18.28" height="18.73" fill="#2b3990"/>
<rect x="1425.08" y="991.19" width="18.28" height="18.73" fill="#2649a0"/>
<rect x="1442.76" y="991.19" width="18.28" height="18.73" fill="#2358a8"/>
<rect x="1460.45" y="991.19" width="18.28" height="18.73" fill="#2468b0"/>
<rect x="1478.13" y="991.19" width="18.28" height="18.73" fill="#2468b0"/>
<rect x="1495.82" y="991.19" width="18.28" height="18.73" fill="#2468b0"/>
<rect x="1177.50" y="1009.33" width="18.28" height="18.73" fill="#2b3990"/>
<rect x="1195.18" y="1009.33" width="18.28" height="18.73" fill="#2b3990"/>
<rect x="1212.87" y="1009.33" width="18.28" height="18.73" fill="#c4e6b6"/>
<rect x="1230.55" y="1009.33" width="18.28" height="18.73" fill="#76c8be"/>
<rect x="1248.24" y="1009.33" width="18.28" height="18.73" fill="#050505"/>
<rect x="1265.92" y="1009.33" width="18.28" height="18.73" fill="#2a99cb"/>
<rect x="1283.61" y="1009.33" width="18.28" height="18.73" fill="#2468b0"/>
<rect x="1301.29" y="1009.33" width="18.28" height="18.73" fill="#2682c2"/>
<rect x="1318.97" y="1009.33" width="18.28" height="18.73" fill="#2b3990"/>
<rect x="1336.66" y="1009.33" width="18.28" height="18.73" fill="#2b3990"/>
<rect x="1354.34" y="1009.33" width="18.28" height="18.73" fill="#2649a0"/>
<rect x="1372.03" y="1009.33" width="18.28" height="18.73" fill="#2649a0"/>
<rect x="1389.71" y="1009.33" width="18.28" height="18.73" fill="#2358a8"/>
<rect x="1407.39" y="1009.33" width="18.28" height="18.73" fill="#76c8be"/>
<rect x="1425.08" y="1009.33" width="18.28" height="18.73" fill="#3fb3c7"/>
<rect x="1442.76" y="1009.33" width="18.28" height="18.73" fill="#2b3990"/>
<rect x="1460.45" y="1009.33" width="18.28" height="18.73" fill="#2682c2"/>
<rect x="1478.13" y="1009.33" width="18.28" height="18.73" fill="#2b3990"/>
<rect x="1495.82" y="1009.33" width="18.28" height="18.73" fill="#2b3990"/>
<rect x="1177.50" y="1027.46" width="18.28" height="18.73" fill="#2b3990"/>
<rect x="1195.18" y="1027.46" width="18.28" height="18.73" fill="#2b3990"/>
<rect x="1212.87" y="1027.46" width="18.28" height="18.73" fill="#3fb3c7"/>
<rect x="1230.55" y="1027.46" width="18.28" height="18.73" fill="#2a99cb"/>
<rect x="1248.24" y="1027.46" width="18.28" height="18.73" fill="#2b3990"/>
<rect x="1265.92" y="1027.46" width="18.28" height="18.73" fill="#050505"/>
<rect x="1283.61" y="1027.46" width="18.28" height="18.73" fill="#2358a8"/>
<rect x="1301.29" y="1027.46" width="18.28" height="18.73" fill="#2468b0"/>
<rect x="1318.97" y="1027.46" width="18.28" height="18.73" fill="#76c8be"/>
<rect x="1336.66" y="1027.46" width="18.28" height="18.73" fill="#2b3990"/>
<rect x="1354.34" y="1027.46" width="18.28" height="18.73" fill="#2468b0"/>
<rect x="1372.03" y="1027.46" width="18.28" height="18.73" fill="#2682c2"/>
<rect x="1389.71" y="1027.46" width="18.28" height="18.73" fill="#2b3990"/>
<rect x="1407.39" y="1027.46" width="18.28" height="18.73" fill="#2b3990"/>
<rect x="1425.08" y="1027.46" width="18.28" height="18.73" fill="#2b3990"/>
<rect x="1442.76" y="1027.46" width="18.28" height="18.73" fill="#2468b0"/>
<rect x="1460.45" y="1027.46" width="18.28" height="18.73" fill="#2468b0"/>
<rect x="1478.13" y="1027.46" width="18.28" height="18.73" fill="#2b3990"/>
<rect x="1495.82" y="1027.46" width="18.28" height="18.73" fill="#2b3990"/>
<rect x="1177.50" y="1045.59" width="18.28" height="18.73" fill="#2468b0"/>
<rect x="1195.18" y="1045.59" width="18.28" height="18.73" fill="#c4e6b6"/>
<rect x="1212.87" y="1045.59" width="18.28" height="18.73" fill="#2358a8"/>
<rect x="1230.55" y="1045.59" width="18.28" height="18.73" fill="#2358a8"/>
<rect x="1248.24" y="1045.59" width="18.28" height="18.73" fill="#2468b0"/>
<rect x="1265.92" y="1045.59" width="18.28" height="18.73" fill="#2358a8"/>
<rect x="1283.61" y="1045.59" width="18.28" height="18.73" fill="#050505"/>
<rect x="1301.29" y="1045.59" width="18.28" height="18.73" fill="#2468b0"/>
<rect x="1318.97" y="1045.59" width="18.28" height="18.73" fill="#2468b0"/>
<rect x="1336.66" y="1045.59" width="18.28" height="18.73" fill="#2468b0"/>
<rect x="1354.34" y="1045.59" width="18.28" height="18.73" fill="#2358a8"/>
<rect x="1372.03" y="1045.59" width="18.28" height="18.73" fill="#2358a8"/>
<rect x="1389.71" y="1045.59" width="18.28" height="18.73" fill="#2358a8"/>
<rect x="1407.39" y="1045.59" width="18.28" height="18.73" fill="#2468b0"/>
<rect x="1425.08" y="1045.59" width="18.28" height="18.73" fill="#2649a0"/>
<rect x="1442.76" y="1045.59" width="18.28" height="18.73" fill="#2649a0"/>
<rect x="1460.45" y="1045.59" width="18.28" height="18.73" fill="#2649a0"/>
<rect x="1478.13" y="1045.59" width="18.28" height="18.73" fill="#2649a0"/>
<rect x="1495.82" y="1045.59" width="18.28" height="18.73" fill="#2649a0"/>
<rect x="1177.50" y="1063.72" width="18.28" height="18.73" fill="#2b3990"/>
<rect x="1195.18" y="1063.72" width="18.28" height="18.73" fill="#2b3990"/>
<rect x="1212.87" y="1063.72" width="18.28" height="18.73" fill="#2b3990"/>
<rect x="1230.55" y="1063.72" width="18.28" height="18.73" fill="#2649a0"/>
<rect x="1248.24" y="1063.72" width="18.28" height="18.73" fill="#2b3990"/>
<rect x="1265.92" y="1063.72" width="18.28" height="18.73" fill="#2b3990"/>
<rect x="1283.61" y="1063.72" width="18.28" height="18.73" fill="#2a99cb"/>
<rect x="1301.29" y="1063.72" width="18.28" height="18.73" fill="#050505"/>
<rect x="1318.97" y="1063.72" width="18.28" height="18.73" fill="#2a99cb"/>
<rect x="1336.66" y="1063.72" width="18.28" height="18.73" fill="#3fb3c7"/>
<rect x="1354.34" y="1063.72" width="18.28" height="18.73" fill="#2a99cb"/>
<rect x="1372.03" y="1063.72" width="18.28" height="18.73" fill="#2a99cb"/>
<rect x="1389.71" y="1063.72" width="18.28" height="18.73" fill="#2682c2"/>
<rect x="1407.39" y="1063.72" width="18.28" height="18.73" fill="#2b3990"/>
<rect x="1425.08" y="1063.72" width="18.28" height="18.73" fill="#2649a0"/>
<rect x="1442.76" y="1063.72" width="18.28" height="18.73" fill="#2468b0"/>
<rect x="1460.45" y="1063.72" width="18.28" height="18.73" fill="#2468b0"/>
<rect x="1478.13" y="1063.72" width="18.28" height="18.73" fill="#2b3990"/>
<rect x="1495.82" y="1063.72" width="18.28" height="18.73" fill="#76c8be"/>
<rect x="1177.50" y="1081.85" width="18.28" height="18.73" fill="#2358a8"/>
<rect x="1195.18" y="1081.85" width="18.28" height="18.73" fill="#2b3990"/>
<rect x="1212.87" y="1081.85" width="18.28" height="18.73" fill="#2b3990"/>
<rect x="1230.55" y="1081.85" width="18.28" height="18.73" fill="#2649a0"/>
<rect x="1248.24" y="1081.85" width="18.28" height="18.73" fill="#2b3990"/>
<rect x="1265.92" y="1081.85" width="18.28" height="18.73" fill="#2b3990"/>
<rect x="1283.61" y="1081.85" width="18.28" height="18.73" fill="#3fb3c7"/>
<rect x="1301.29" y="1081.85" width="18.28" height="18.73" fill="#3fb3c7"/>
<rect x="1318.97" y="1081.85" width="18.28" height="18.73" fill="#050505"/>
<rect x="1336.66" y="1081.85" width="18.28" height="18.73" fill="#c4e6b6"/>
<rect x="1354.34" y="1081.85" width="18.28" height="18.73" fill="#2468b0"/>
<rect x="1372.03" y="1081.85" width="18.28" height="18.73" fill="#2468b0"/>
<rect x="1389.71" y="1081.85" width="18.28" height="18.73" fill="#2b3990"/>
<rect x="1407.39" y="1081.85" width="18.28" height="18.73" fill="#2682c2"/>
<rect x="1425.08" y="1081.85" width="18.28" height="18.73" fill="#2b3990"/>
<rect x="1442.76" y="1081.85" width="18.28" height="18.73" fill="#2468b0"/>
<rect x="1460.45" y="1081.85" width="18.28" height="18.73" fill="#2682c2"/>
<rect x="1478.13" y="1081.85" width="18.28" height="18.73" fill="#2b3990"/>
<rect x="1495.82" y="1081.85" width="18.28" height="18.73" fill="#2682c2"/>
<rect x="1177.50" y="1099.98" width="18.28" height="18.73" fill="#2b3990"/>
<rect x="1195.18" y="1099.98" width="18.28" height="18.73" fill="#2b3990"/>
<rect x="1212.87" y="1099.98" width="18.28" height="18.73" fill="#2b3990"/>
<rect x="1230.55" y="1099.98" width="18.28" height="18.73" fill="#2b3990"/>
<rect x="1248.24" y="1099.98" width="18.28" height="18.73" fill="#2b3990"/>
<rect x="1265.92" y="1099.98" width="18.28" height="18.73" fill="#2b3990"/>
<rect x="1283.61" y="1099.98" width="18.28" height="18.73" fill="#2358a8"/>
<rect x="1301.29" y="1099.98" width="18.28" height="18.73" fill="#f6f5c6"/>
<rect x="1318.97" y="1099.98" width="18.28" height="18.73" fill="#76c8be"/>
<rect x="1336.66" y="1099.98" width="18.28" height="18.73" fill="#050505"/>
<rect x="1354.34" y="1099.98" width="18.28" height="18.73" fill="#2649a0"/>
<rect x="1372.03" y="1099.98" width="18.28" height="18.73" fill="#2649a0"/>
<rect x="1389.71" y="1099.98" width="18.28" height="18.73" fill="#f6f5c6"/>
<rect x="1407.39" y="1099.98" width="18.28" height="18.73" fill="#2b3990"/>
<rect x="1425.08" y="1099.98" width="18.28" height="18.73" fill="#2b3990"/>
<rect x="1442.76" y="1099.98" width="18.28" height="18.73" fill="#2b3990"/>
<rect x="1460.45" y="1099.98" width="18.28" height="18.73" fill="#2b3990"/>
<rect x="1478.13" y="1099.98" width="18.28" height="18.73" fill="#2649a0"/>
<rect x="1495.82" y="1099.98" width="18.28" height="18.73" fill="#2b3990"/>
<rect x="1177.50" y="1118.12" width="18.28" height="18.73" fill="#2b3990"/>
<rect x="1195.18" y="1118.12" width="18.28" height="18.73" fill="#2682c2"/>
<rect x="1212.87" y="1118.12" width="18.28" height="18.73" fill="#2b3990"/>
<rect x="1230.55" y="1118.12" width="18.28" height="18.73" fill="#2649a0"/>
<rect x="1248.24" y="1118.12" width="18.28" height="18.73" fill="#2b3990"/>
<rect x="1265.92" y="1118.12" width="18.28" height="18.73" fill="#2649a0"/>
<rect x="1283.61" y="1118.12" width="18.28" height="18.73" fill="#2b3990"/>
<rect x="1301.29" y="1118.12" width="18.28" height="18.73" fill="#2b3990"/>
<rect x="1318.97" y="1118.12" width="18.28" height="18.73" fill="#2b3990"/>
<rect x="1336.66" y="1118.12" width="18.28" height="18.73" fill="#2b3990"/>
<rect x="1354.34" y="1118.12" width="18.28" height="18.73" fill="#050505"/>
<rect x="1372.03" y="1118.12" width="18.28" height="18.73" fill="#2a99cb"/>
<rect x="1389.71" y="1118.12" width="18.28" height="18.73" fill="#2a99cb"/>
<rect x="1407.39" y="1118.12" width="18.28" height="18.73" fill="#2a99cb"/>
<rect x="1425.08" y="1118.12" width="18.28" height="18.73" fill="#2a99cb"/>
<rect x="1442.76" y="1118.12" width="18.28" height="18.73" fill="#2a99cb"/>
<rect x="1460.45" y="1118.12" width="18.28" height="18.73" fill="#2682c2"/>
<rect x="1478.13" y="1118.12" width="18.28" height="18.73" fill="#2682c2"/>
<rect x="1495.82" y="1118.12" width="18.28" height="18.73" fill="#2682c2"/>
<rect x="1177.50" y="1136.25" width="18.28" height="18.73" fill="#2b3990"/>
<rect x="1195.18" y="1136.25" width="18.28" height="18.73" fill="#2b3990"/>
<rect x="1212.87" y="1136.25" width="18.28" height="18.73" fill="#2b3990"/>
<rect x="1230.55" y="1136.25" width="18.28" height="18.73" fill="#2649a0"/>
<rect x="1248.24" y="1136.25" width="18.28" height="18.73" fill="#2b3990"/>
<rect x="1265.92" y="1136.25" width="18.28" height="18.73" fill="#2b3990"/>
<rect x="1283.61" y="1136.25" width="18.28" height="18.73" fill="#2b3990"/>
<rect x="1301.29" y="1136.25" width="18.28" height="18.73" fill="#2b3990"/>
<rect x="1318.97" y="1136.25" width="18.28" height="18.73" fill="#2649a0"/>
<rect x="1336.66" y="1136.25" width="18.28" height="18.73" fill="#2a99cb"/>
<rect x="1354.34" y="1136.25" width="18.28" height="18.73" fill="#2682c2"/>
<rect x="1372.03" y="1136.25" width="18.28" height="18.73" fill="#050505"/>
<rect x="1389.71" y="1136.25" width="18.28" height="18.73" fill="#3fb3c7"/>
<rect x="1407.39" y="1136.25" width="18.28" height="18.73" fill="#3fb3c7"/>
<rect x="1425.08" y="1136.25" width="18.28" height="18.73" fill="#2468b0"/>
<rect x="1442.76" y="1136.25" width="18.28" height="18.73" fill="#2468b0"/>
<rect x="1460.45" y="1136.25" width="18.28" height="18.73" fill="#3fb3c7"/>
<rect x="1478.13" y="1136.25" width="18.28" height="18.73" fill="#2468b0"/>
<rect x="1495.82" y="1136.25" width="18.28" height="18.73" fill="#2468b0"/>
<rect x="1177.50" y="1154.38" width="18.28" height="18.73" fill="#2b3990"/>
<rect x="1195.18" y="1154.38" width="18.28" height="18.73" fill="#2b3990"/>
<rect x="1212.87" y="1154.38" width="18.28" height="18.73" fill="#2b3990"/>
<rect x="1230.55" y="1154.38" width="18.28" height="18.73" fill="#2b3990"/>
<rect x="1248.24" y="1154.38" width="18.28" height="18.73" fill="#2b3990"/>
<rect x="1265.92" y="1154.38" width="18.28" height="18.73" fill="#2b3990"/>
<rect x="1283.61" y="1154.38" width="18.28" height="18.73" fill="#2b3990"/>
<rect x="1301.29" y="1154.38" width="18.28" height="18.73" fill="#2b3990"/>
<rect x="1318.97" y="1154.38" width="18.28" height="18.73" fill="#2b3990"/>
<rect x="1336.66" y="1154.38" width="18.28" height="18.73" fill="#2b3990"/>
<rect x="1354.34" y="1154.38" width="18.28" height="18.73" fill="#2a99cb"/>
<rect x="1372.03" y="1154.38" width="18.28" height="18.73" fill="#2b3990"/>
<rect x="1389.71" y="1154.38" width="18.28" height="18.73" fill="#050505"/>
<rect x="1407.39" y="1154.38" width="18.28" height="18.73" fill="#2b3990"/>
<rect x="1425.08" y="1154.38" width="18.28" height="18.73" fill="#f6f5c6"/>
<rect x="1442.76" y="1154.38" width="18.28" height="18.73" fill="#2a99cb"/>
<rect x="1460.45" y="1154.38" width="18.28" height="18.73" fill="#2b3990"/>
<rect x="1478.13" y="1154.38" width="18.28" height="18.73" fill="#2682c2"/>
<rect x="1495.82" y="1154.38" width="18.28" height="18.73" fill="#2b3990"/>
<rect x="1177.50" y="1172.51" width="18.28" height="18.73" fill="#2b3990"/>
<rect x="1195.18" y="1172.51" width="18.28" height="18.73" fill="#2b3990"/>
<rect x="1212.87" y="1172.51" width="18.28" height="18.73" fill="#2b3990"/>
<rect x="1230.55" y="1172.51" width="18.28" height="18.73" fill="#2a99cb"/>
<rect x="1248.24" y="1172.51" width="18.28" height="18.73" fill="#2b3990"/>
<rect x="1265.92" y="1172.51" width="18.28" height="18.73" fill="#2b3990"/>
<rect x="1283.61" y="1172.51" width="18.28" height="18.73" fill="#2b3990"/>
<rect x="1301.29" y="1172.51" width="18.28" height="18.73" fill="#2b3990"/>
<rect x="1318.97" y="1172.51" width="18.28" height="18.73" fill="#2b3990"/>
<rect x="1336.66" y="1172.51" width="18.28" height="18.73" fill="#2b3990"/>
<rect x="1354.34" y="1172.51" width="18.28" height="18.73" fill="#2a99cb"/>
<rect x="1372.03" y="1172.51" width="18.28" height="18.73" fill="#76c8be"/>
<rect x="1389.71" y="1172.51" width="18.28" height="18.73" fill="#2a99cb"/>
<rect x="1407.39" y="1172.51" width="18.28" height="18.73" fill="#050505"/>
<rect x="1425.08" y="1172.51" width="18.28" height="18.73" fill="#2a99cb"/>
<rect x="1442.76" y="1172.51" width="18.28" height="18.73" fill="#2682c2"/>
<rect x="1460.45" y="1172.51" width="18.28" height="18.73" fill="#2b3990"/>
<rect x="1478.13" y="1172.51" width="18.28" height="18.73" fill="#2468b0"/>
<rect x="1495.82" y="1172.51" width="18.28" height="18.73" fill="#2b3990"/>
<rect x="1177.50" y="1190.64" width="18.28" height="18.73" fill="#2b3990"/>
<rect x="1195.18" y="1190.64" width="18.28" height="18.73" fill="#2b3990"/>
<rect x="1212.87" y="1190.64" width="18.28" height="18.73" fill="#2b3990"/>
<rect x="1230.55" y="1190.64" width="18.28" height="18.73" fill="#3fb3c7"/>
<rect x="1248.24" y="1190.64" width="18.28" height="18.73" fill="#2b3990"/>
<rect x="1265.92" y="1190.64" width="18.28" height="18.73" fill="#2b3990"/>
<rect x="1283.61" y="1190.64" width="18.28" height="18.73" fill="#2b3990"/>
<rect x="1301.29" y="1190.64" width="18.28" height="18.73" fill="#2b3990"/>
<rect x="1318.97" y="1190.64" width="18.28" height="18.73" fill="#2b3990"/>
<rect x="1336.66" y="1190.64" width="18.28" height="18.73" fill="#2b3990"/>
<rect x="1354.34" y="1190.64" width="18.28" height="18.73" fill="#2b3990"/>
<rect x="1372.03" y="1190.64" width="18.28" height="18.73" fill="#2b3990"/>
<rect x="1389.71" y="1190.64" width="18.28" height="18.73" fill="#2b3990"/>
<rect x="1407.39" y="1190.64" width="18.28" height="18.73" fill="#2b3990"/>
<rect x="1425.08" y="1190.64" width="18.28" height="18.73" fill="#050505"/>
<rect x="1442.76" y="1190.64" width="18.28" height="18.73" fill="#c4e6b6"/>
<rect x="1460.45" y="1190.64" width="18.28" height="18.73" fill="#c4e6b6"/>
<rect x="1478.13" y="1190.64" width="18.28" height="18.73" fill="#3fb3c7"/>
<rect x="1495.82" y="1190.64" width="18.28" height="18.73" fill="#2b3990"/>
<rect x="1177.50" y="1208.77" width="18.28" height="18.73" fill="#2b3990"/>
<rect x="1195.18" y="1208.77" width="18.28" height="18.73" fill="#2b3990"/>
<rect x="1212.87" y="1208.77" width="18.28" height="18.73" fill="#2b3990"/>
<rect x="1230.55" y="1208.77" width="18.28" height="18.73" fill="#2682c2"/>
<rect x="1248.24" y="1208.77" width="18.28" height="18.73" fill="#2b3990"/>
<rect x="1265.92" y="1208.77" width="18.28" height="18.73" fill="#2b3990"/>
<rect x="1283.61" y="1208.77" width="18.28" height="18.73" fill="#2b3990"/>
<rect x="1301.29" y="1208.77" width="18.28" height="18.73" fill="#2649a0"/>
<rect x="1318.97" y="1208.77" width="18.28" height="18.73" fill="#2b3990"/>
<rect x="1336.66" y="1208.77" width="18.28" height="18.73" fill="#2b3990"/>
<rect x="1354.34" y="1208.77" width="18.28" height="18.73" fill="#2b3990"/>
<rect x="1372.03" y="1208.77" width="18.28" height="18.73" fill="#2b3990"/>
<rect x="1389.71" y="1208.77" width="18.28" height="18.73" fill="#2b3990"/>
<rect x="1407.39" y="1208.77" width="18.28" height="18.73" fill="#2b3990"/>
<rect x="1425.08" y="1208.77" width="18.28" height="18.73" fill="#c4e6b6"/>
<rect x="1442.76" y="1208.77" width="18.28" height="18.73" fill="#050505"/>
<rect x="1460.45" y="1208.77" width="18.28" height="18.73" fill="#c4e6b6"/>
<rect x="1478.13" y="1208.77" width="18.28" height="18.73" fill="#76c8be"/>
<rect x="1495.82" y="1208.77" width="18.28" height="18.73" fill="#2468b0"/>
<rect x="1177.50" y="1226.91" width="18.28" height="18.73" fill="#2b3990"/>
<rect x="1195.18" y="1226.91" width="18.28" height="18.73" fill="#2b3990"/>
<rect x="1212.87" y="1226.91" width="18.28" height="18.73" fill="#2b3990"/>
<rect x="1230.55" y="1226.91" width="18.28" height="18.73" fill="#2b3990"/>
<rect x="1248.24" y="1226.91" width="18.28" height="18.73" fill="#2b3990"/>
<rect x="1265.92" y="1226.91" width="18.28" height="18.73" fill="#2b3990"/>
<rect x="1283.61" y="1226.91" width="18.28" height="18.73" fill="#2b3990"/>
<rect x="1301.29" y="1226.91" width="18.28" height="18.73" fill="#2b3990"/>
<rect x="1318.97" y="1226.91" width="18.28" height="18.73" fill="#2b3990"/>
<rect x="1336.66" y="1226.91" width="18.28" height="18.73" fill="#2b3990"/>
<rect x="1354.34" y="1226.91" width="18.28" height="18.73" fill="#2b3990"/>
<rect x="1372.03" y="1226.91" width="18.28" height="18.73" fill="#2b3990"/>
<rect x="1389.71" y="1226.91" width="18.28" height="18.73" fill="#2b3990"/>
<rect x="1407.39" y="1226.91" width="18.28" height="18.73" fill="#2b3990"/>
<rect x="1425.08" y="1226.91" width="18.28" height="18.73" fill="#f6f5c6"/>
<rect x="1442.76" y="1226.91" width="18.28" height="18.73" fill="#76c8be"/>
<rect x="1460.45" y="1226.91" width="18.28" height="18.73" fill="#050505"/>
<rect x="1478.13" y="1226.91" width="18.28" height="18.73" fill="#2682c2"/>
<rect x="1495.82" y="1226.91" width="18.28" height="18.73" fill="#c4e6b6"/>
<rect x="1177.50" y="1245.04" width="18.28" height="18.73" fill="#2358a8"/>
<rect x="1195.18" y="1245.04" width="18.28" height="18.73" fill="#2b3990"/>
<rect x="1212.87" y="1245.04" width="18.28" height="18.73" fill="#2649a0"/>
<rect x="1230.55" y="1245.04" width="18.28" height="18.73" fill="#2b3990"/>
<rect x="1248.24" y="1245.04" width="18.28" height="18.73" fill="#2b3990"/>
<rect x="1265.92" y="1245.04" width="18.28" height="18.73" fill="#2b3990"/>
<rect x="1283.61" y="1245.04" width="18.28" height="18.73" fill="#2649a0"/>
<rect x="1301.29" y="1245.04" width="18.28" height="18.73" fill="#2468b0"/>
<rect x="1318.97" y="1245.04" width="18.28" height="18.73" fill="#2b3990"/>
<rect x="1336.66" y="1245.04" width="18.28" height="18.73" fill="#2682c2"/>
<rect x="1354.34" y="1245.04" width="18.28" height="18.73" fill="#2b3990"/>
<rect x="1372.03" y="1245.04" width="18.28" height="18.73" fill="#2b3990"/>
<rect x="1389.71" y="1245.04" width="18.28" height="18.73" fill="#2b3990"/>
<rect x="1407.39" y="1245.04" width="18.28" height="18.73" fill="#2b3990"/>
<rect x="1425.08" y="1245.04" width="18.28" height="18.73" fill="#2b3990"/>
<rect x="1442.76" y="1245.04" width="18.28" height="18.73" fill="#2b3990"/>
<rect x="1460.45" y="1245.04" width="18.28" height="18.73" fill="#2b3990"/>
<rect x="1478.13" y="1245.04" width="18.28" height="18.73" fill="#050505"/>
<rect x="1495.82" y="1245.04" width="18.28" height="18.73" fill="#f6f5c6"/>
<rect x="1177.50" y="1263.17" width="18.28" height="18.73" fill="#2b3990"/>
<rect x="1195.18" y="1263.17" width="18.28" height="18.73" fill="#2b3990"/>
<rect x="1212.87" y="1263.17" width="18.28" height="18.73" fill="#2b3990"/>
<rect x="1230.55" y="1263.17" width="18.28" height="18.73" fill="#2b3990"/>
<rect x="1248.24" y="1263.17" width="18.28" height="18.73" fill="#2b3990"/>
<rect x="1265.92" y="1263.17" width="18.28" height="18.73" fill="#2b3990"/>
<rect x="1283.61" y="1263.17" width="18.28" height="18.73" fill="#2b3990"/>
<rect x="1301.29" y="1263.17" width="18.28" height="18.73" fill="#2b3990"/>
<rect x="1318.97" y="1263.17" width="18.28" height="18.73" fill="#2b3990"/>
<rect x="1336.66" y="1263.17" width="18.28" height="18.73" fill="#2b3990"/>
<rect x="1354.34" y="1263.17" width="18.28" height="18.73" fill="#2b3990"/>
<rect x="1372.03" y="1263.17" width="18.28" height="18.73" fill="#2b3990"/>
<rect x="1389.71" y="1263.17" width="18.28" height="18.73" fill="#2b3990"/>
<rect x="1407.39" y="1263.17" width="18.28" height="18.73" fill="#2b3990"/>
<rect x="1425.08" y="1263.17" width="18.28" height="18.73" fill="#2b3990"/>
<rect x="1442.76" y="1263.17" width="18.28" height="18.73" fill="#2b3990"/>
<rect x="1460.45" y="1263.17" width="18.28" height="18.73" fill="#2b3990"/>
<rect x="1478.13" y="1263.17" width="18.28" height="18.73" fill="#f6f5c6"/>
<rect x="1495.82" y="1263.17" width="18.28" height="18.73" fill="#050505"/>
<rect x="1175.80" y="936.10" width="338.40" height="346.40" fill="none" stroke="#000" stroke-width="1.6"/>
<line x1="1176.30" y1="935.30" x2="1176.30" y2="1283.80" stroke="#000" stroke-width="2.8" stroke-linecap="butt"/>
<line x1="1175.00" y1="1282.10" x2="1515.00" y2="1282.10" stroke="#000" stroke-width="2.6" stroke-linecap="butt"/>
<line x1="1166.30" y1="945.87" x2="1175.00" y2="945.87" stroke="#333" stroke-width="3.4" stroke-linecap="butt"/>
<text transform="translate(1106.54,954.47) scale(0.9550,1)" font-family="'Liberation Sans', Arial, sans-serif" font-weight="normal" font-style="normal" font-size="24.95" fill="#4d4d4d">CCG</text>
<line x1="1166.30" y1="964.00" x2="1175.00" y2="964.00" stroke="#333" stroke-width="3.4" stroke-linecap="butt"/>
<text transform="translate(1110.05,972.60) scale(0.9550,1)" font-family="'Liberation Sans', Arial, sans-serif" font-weight="normal" font-style="normal" font-size="24.95" fill="#4d4d4d">AAA</text>
<line x1="1166.30" y1="982.13" x2="1175.00" y2="982.13" stroke="#333" stroke-width="3.4" stroke-linecap="butt"/>
<text transform="translate(1114.52,990.73) scale(0.9550,1)" font-family="'Liberation Sans', Arial, sans-serif" font-weight="normal" font-style="normal" font-size="24.95" fill="#4d4d4d">TTA</text>
<line x1="1166.30" y1="1000.26" x2="1175.00" y2="1000.26" stroke="#333" stroke-width="3.4" stroke-linecap="butt"/>
<text transform="translate(1106.96,1008.86) scale(0.9550,1)" font-family="'Liberation Sans', Arial, sans-serif" font-weight="normal" font-style="normal" font-size="24.95" fill="#4d4d4d">GAC</text>
<line x1="1166.30" y1="1018.39" x2="1175.00" y2="1018.39" stroke="#333" stroke-width="3.4" stroke-linecap="butt"/>
<text transform="translate(1105.23,1026.99) scale(0.9550,1)" font-family="'Liberation Sans', Arial, sans-serif" font-weight="normal" font-style="normal" font-size="24.95" fill="#4d4d4d">CGG</text>
<line x1="1166.30" y1="1036.52" x2="1175.00" y2="1036.52" stroke="#333" stroke-width="3.4" stroke-linecap="butt"/>
<text transform="translate(1108.33,1045.12) scale(0.9550,1)" font-family="'Liberation Sans', Arial, sans-serif" font-weight="normal" font-style="normal" font-size="24.95" fill="#4d4d4d">GTC</text>
<line x1="1166.30" y1="1054.66" x2="1175.00" y2="1054.66" stroke="#333" stroke-width="3.4" stroke-linecap="butt"/>
<text transform="translate(1110.59,1063.26) scale(0.9550,1)" font-family="'Liberation Sans', Arial, sans-serif" font-weight="normal" font-style="normal" font-size="24.95" fill="#4d4d4d">ACT</text>
<line x1="1166.30" y1="1072.79" x2="1175.00" y2="1072.79" stroke="#333" stroke-width="3.4" stroke-linecap="butt"/>
<text transform="translate(1112.26,1081.39) scale(0.9550,1)" font-family="'Liberation Sans', Arial, sans-serif" font-weight="normal" font-style="normal" font-size="24.95" fill="#4d4d4d">TTC</text>
<line x1="1166.30" y1="1090.92" x2="1175.00" y2="1090.92" stroke="#333" stroke-width="3.4" stroke-linecap="butt"/>
<text transform="translate(1107.85,1099.52) scale(0.9550,1)" font-family="'Liberation Sans', Arial, sans-serif" font-weight="normal" font-style="normal" font-size="24.95" fill="#4d4d4d">ACG</text>
<line x1="1166.30" y1="1109.05" x2="1175.00" y2="1109.05" stroke="#333" stroke-width="3.4" stroke-linecap="butt"/>
<text transform="translate(1112.32,1117.65) scale(0.9550,1)" font-family="'Liberation Sans', Arial, sans-serif" font-weight="normal" font-style="normal" font-size="24.95" fill="#4d4d4d">ATG</text>
<line x1="1166.30" y1="1127.18" x2="1175.00" y2="1127.18" stroke="#333" stroke-width="3.4" stroke-linecap="butt"/>
<text transform="translate(1113.69,1135.78) scale(0.9550,1)" font-family="'Liberation Sans', Arial, sans-serif" font-weight="normal" font-style="normal" font-size="24.95" fill="#4d4d4d">AAT</text>
<line x1="1166.30" y1="1145.31" x2="1175.00" y2="1145.31" stroke="#333" stroke-width="3.4" stroke-linecap="butt"/>
<text transform="translate(1111.84,1153.91) scale(0.9550,1)" font-family="'Liberation Sans', Arial, sans-serif" font-weight="normal" font-style="normal" font-size="24.95" fill="#4d4d4d">TTG</text>
<line x1="1166.30" y1="1163.44" x2="1175.00" y2="1163.44" stroke="#333" stroke-width="3.4" stroke-linecap="butt"/>
<text transform="translate(1113.21,1172.04) scale(0.9550,1)" font-family="'Liberation Sans', Arial, sans-serif" font-weight="normal" font-style="normal" font-size="24.95" fill="#4d4d4d">TAA</text>
<line x1="1166.30" y1="1181.58" x2="1175.00" y2="1181.58" stroke="#333" stroke-width="3.4" stroke-linecap="butt"/>
<text transform="translate(1108.27,1190.18) scale(0.9550,1)" font-family="'Liberation Sans', Arial, sans-serif" font-weight="normal" font-style="normal" font-size="24.95" fill="#4d4d4d">CAC</text>
<line x1="1166.30" y1="1199.71" x2="1175.00" y2="1199.71" stroke="#333" stroke-width="3.4" stroke-linecap="butt"/>
<text transform="translate(1104.81,1208.31) scale(0.9550,1)" font-family="'Liberation Sans', Arial, sans-serif" font-weight="normal" font-style="normal" font-size="24.95" fill="#4d4d4d">GGA</text>
<line x1="1166.30" y1="1217.84" x2="1175.00" y2="1217.84" stroke="#333" stroke-width="3.4" stroke-linecap="butt"/>
<text transform="translate(1107.43,1226.44) scale(0.9550,1)" font-family="'Liberation Sans', Arial, sans-serif" font-weight="normal" font-style="normal" font-size="24.95" fill="#4d4d4d">CCA</text>
<line x1="1166.30" y1="1235.97" x2="1175.00" y2="1235.97" stroke="#333" stroke-width="3.4" stroke-linecap="butt"/>
<text transform="translate(1107.43,1244.57) scale(0.9550,1)" font-family="'Liberation Sans', Arial, sans-serif" font-weight="normal" font-style="normal" font-size="24.95" fill="#4d4d4d">GAA</text>
<line x1="1166.30" y1="1254.10" x2="1175.00" y2="1254.10" stroke="#333" stroke-width="3.4" stroke-linecap="butt"/>
<text transform="translate(1112.38,1262.70) scale(0.9550,1)" font-family="'Liberation Sans', Arial, sans-serif" font-weight="normal" font-style="normal" font-size="24.95" fill="#4d4d4d">CAT</text>
<line x1="1166.30" y1="1272.23" x2="1175.00" y2="1272.23" stroke="#333" stroke-width="3.4" stroke-linecap="butt"/>
<text transform="translate(1108.80,1280.83) scale(0.9550,1)" font-family="'Liberation Sans', Arial, sans-serif" font-weight="normal" font-style="normal" font-size="24.95" fill="#4d4d4d">TGA</text>
<line x1="1186.34" y1="1283.30" x2="1186.34" y2="1291.80" stroke="#333" stroke-width="3.6" stroke-linecap="butt"/>
<text transform="translate(1178.64,1299.28) rotate(90) scale(0.9200,1)" font-family="'Liberation Sans', Arial, sans-serif" font-weight="normal" font-style="normal" font-size="22.08" fill="#4d4d4d">CCG</text>
<line x1="1204.03" y1="1283.30" x2="1204.03" y2="1291.80" stroke="#333" stroke-width="3.6" stroke-linecap="butt"/>
<text transform="translate(1196.33,1300.25) rotate(90) scale(0.9200,1)" font-family="'Liberation Sans', Arial, sans-serif" font-weight="normal" font-style="normal" font-size="22.40" fill="#4d4d4d">AAA</text>
<line x1="1221.71" y1="1283.30" x2="1221.71" y2="1291.80" stroke="#333" stroke-width="3.6" stroke-linecap="butt"/>
<text transform="translate(1214.01,1299.84) rotate(90) scale(0.9200,1)" font-family="'Liberation Sans', Arial, sans-serif" font-weight="normal" font-style="normal" font-size="22.40" fill="#4d4d4d">TTA</text>
<line x1="1239.39" y1="1283.30" x2="1239.39" y2="1291.80" stroke="#333" stroke-width="3.6" stroke-linecap="butt"/>
<text transform="translate(1231.69,1299.28) rotate(90) scale(0.9200,1)" font-family="'Liberation Sans', Arial, sans-serif" font-weight="normal" font-style="normal" font-size="22.08" fill="#4d4d4d">GAC</text>
<line x1="1257.08" y1="1283.30" x2="1257.08" y2="1291.80" stroke="#333" stroke-width="3.6" stroke-linecap="butt"/>
<text transform="translate(1249.38,1299.28) rotate(90) scale(0.9200,1)" font-family="'Liberation Sans', Arial, sans-serif" font-weight="normal" font-style="normal" font-size="22.08" fill="#4d4d4d">CGG</text>
<line x1="1274.76" y1="1283.30" x2="1274.76" y2="1291.80" stroke="#333" stroke-width="3.6" stroke-linecap="butt"/>
<text transform="translate(1267.06,1299.28) rotate(90) scale(0.9200,1)" font-family="'Liberation Sans', Arial, sans-serif" font-weight="normal" font-style="normal" font-size="22.08" fill="#4d4d4d">GTC</text>
<line x1="1292.45" y1="1283.30" x2="1292.45" y2="1291.80" stroke="#333" stroke-width="3.6" stroke-linecap="butt"/>
<text transform="translate(1284.75,1300.25) rotate(90) scale(0.9200,1)" font-family="'Liberation Sans', Arial, sans-serif" font-weight="normal" font-style="normal" font-size="22.08" fill="#4d4d4d">ACT</text>
<line x1="1310.13" y1="1283.30" x2="1310.13" y2="1291.80" stroke="#333" stroke-width="3.6" stroke-linecap="butt"/>
<text transform="translate(1302.43,1299.84) rotate(90) scale(0.9200,1)" font-family="'Liberation Sans', Arial, sans-serif" font-weight="normal" font-style="normal" font-size="22.08" fill="#4d4d4d">TTC</text>
<line x1="1327.82" y1="1283.30" x2="1327.82" y2="1291.80" stroke="#333" stroke-width="3.6" stroke-linecap="butt"/>
<text transform="translate(1320.12,1300.25) rotate(90) scale(0.9200,1)" font-family="'Liberation Sans', Arial, sans-serif" font-weight="normal" font-style="normal" font-size="22.08" fill="#4d4d4d">ACG</text>
<line x1="1345.50" y1="1283.30" x2="1345.50" y2="1291.80" stroke="#333" stroke-width="3.6" stroke-linecap="butt"/>
<text transform="translate(1337.80,1300.25) rotate(90) scale(0.9200,1)" font-family="'Liberation Sans', Arial, sans-serif" font-weight="normal" font-style="normal" font-size="22.08" fill="#4d4d4d">ATG</text>
<line x1="1363.18" y1="1283.30" x2="1363.18" y2="1291.80" stroke="#333" stroke-width="3.6" stroke-linecap="butt"/>
<text transform="translate(1355.48,1300.25) rotate(90) scale(0.9200,1)" font-family="'Liberation Sans', Arial, sans-serif" font-weight="normal" font-style="normal" font-size="22.40" fill="#4d4d4d">AAT</text>
<line x1="1380.87" y1="1283.30" x2="1380.87" y2="1291.80" stroke="#333" stroke-width="3.6" stroke-linecap="butt"/>
<text transform="translate(1373.17,1299.84) rotate(90) scale(0.9200,1)" font-family="'Liberation Sans', Arial, sans-serif" font-weight="normal" font-style="normal" font-size="22.08" fill="#4d4d4d">TTG</text>
<line x1="1398.55" y1="1283.30" x2="1398.55" y2="1291.80" stroke="#333" stroke-width="3.6" stroke-linecap="butt"/>
<text transform="translate(1390.85,1299.84) rotate(90) scale(0.9200,1)" font-family="'Liberation Sans', Arial, sans-serif" font-weight="normal" font-style="normal" font-size="22.40" fill="#4d4d4d">TAA</text>
<line x1="1416.24" y1="1283.30" x2="1416.24" y2="1291.80" stroke="#333" stroke-width="3.6" stroke-linecap="butt"/>
<text transform="translate(1408.54,1299.28) rotate(90) scale(0.9200,1)" font-family="'Liberation Sans', Arial, sans-serif" font-weight="normal" font-style="normal" font-size="22.08" fill="#4d4d4d">CAC</text>
<line x1="1433.92" y1="1283.30" x2="1433.92" y2="1291.80" stroke="#333" stroke-width="3.6" stroke-linecap="butt"/>
<text transform="translate(1426.22,1299.28) rotate(90) scale(0.9200,1)" font-family="'Liberation Sans', Arial, sans-serif" font-weight="normal" font-style="normal" font-size="22.08" fill="#4d4d4d">GGA</text>
<line x1="1451.61" y1="1283.30" x2="1451.61" y2="1291.80" stroke="#333" stroke-width="3.6" stroke-linecap="butt"/>
<text transform="translate(1443.91,1299.28) rotate(90) scale(0.9200,1)" font-family="'Liberation Sans', Arial, sans-serif" font-weight="normal" font-style="normal" font-size="22.08" fill="#4d4d4d">CCA</text>
<line x1="1469.29" y1="1283.30" x2="1469.29" y2="1291.80" stroke="#333" stroke-width="3.6" stroke-linecap="butt"/>
<text transform="translate(1461.59,1299.28) rotate(90) scale(0.9200,1)" font-family="'Liberation Sans', Arial, sans-serif" font-weight="normal" font-style="normal" font-size="22.08" fill="#4d4d4d">GAA</text>
<line x1="1486.97" y1="1283.30" x2="1486.97" y2="1291.80" stroke="#333" stroke-width="3.6" stroke-linecap="butt"/>
<text transform="translate(1479.27,1299.28) rotate(90) scale(0.9200,1)" font-family="'Liberation Sans', Arial, sans-serif" font-weight="normal" font-style="normal" font-size="22.08" fill="#4d4d4d">CAT</text>
<line x1="1504.66" y1="1283.30" x2="1504.66" y2="1291.80" stroke="#333" stroke-width="3.6" stroke-linecap="butt"/>
<text transform="translate(1496.96,1299.84) rotate(90) scale(0.9200,1)" font-family="'Liberation Sans', Arial, sans-serif" font-weight="normal" font-style="normal" font-size="22.08" fill="#4d4d4d">TGA</text>
<text transform="translate(1086.80,1185.46) rotate(-90) scale(0.9121,1)" font-family="'Liberation Sans', Arial, sans-serif" font-weight="normal" font-style="normal" font-size="39.31" fill="#000">Position1</text>
<text transform="translate(1267.21,1382.10) scale(0.9476,1)" font-family="'Liberation Sans', Arial, sans-serif" font-weight="normal" font-style="normal" font-size="39.59" fill="#000">Position2</text>
<rect x="1703.20" y="937.90" width="18.28" height="18.73" fill="#050505"/>
<rect x="1720.88" y="937.90" width="18.28" height="18.73" fill="#2b3990"/>
<rect x="1738.57" y="937.90" width="18.28" height="18.73" fill="#2a99cb"/>
<rect x="1756.25" y="937.90" width="18.28" height="18.73" fill="#2358a8"/>
<rect x="1773.94" y="937.90" width="18.28" height="18.73" fill="#2a99cb"/>
<rect x="1791.62" y="937.90" width="18.28" height="18.73" fill="#2649a0"/>
<rect x="1809.31" y="937.90" width="18.28" height="18.73" fill="#2682c2"/>
<rect x="1826.99" y="937.90" width="18.28" height="18.73" fill="#2a99cb"/>
<rect x="1844.67" y="937.90" width="18.28" height="18.73" fill="#2682c2"/>
<rect x="1862.36" y="937.90" width="18.28" height="18.73" fill="#2a99cb"/>
<rect x="1880.04" y="937.90" width="18.28" height="18.73" fill="#2358a8"/>
<rect x="1897.73" y="937.90" width="18.28" height="18.73" fill="#2649a0"/>
<rect x="1915.41" y="937.90" width="18.28" height="18.73" fill="#2682c2"/>
<rect x="1933.09" y="937.90" width="18.28" height="18.73" fill="#2b3990"/>
<rect x="1950.78" y="937.90" width="18.28" height="18.73" fill="#2468b0"/>
<rect x="1968.46" y="937.90" width="18.28" height="18.73" fill="#2b3990"/>
<rect x="1986.15" y="937.90" width="18.28" height="18.73" fill="#2b3990"/>
<rect x="2003.83" y="937.90" width="18.28" height="18.73" fill="#2649a0"/>
<rect x="2021.52" y="937.90" width="18.28" height="18.73" fill="#2b3990"/>
<rect x="1703.20" y="956.03" width="18.28" height="18.73" fill="#3fb3c7"/>
<rect x="1720.88" y="956.03" width="18.28" height="18.73" fill="#050505"/>
<rect x="1738.57" y="956.03" width="18.28" height="18.73" fill="#3fb3c7"/>
<rect x="1756.25" y="956.03" width="18.28" height="18.73" fill="#76c8be"/>
<rect x="1773.94" y="956.03" width="18.28" height="18.73" fill="#2b3990"/>
<rect x="1791.62" y="956.03" width="18.28" height="18.73" fill="#2b3990"/>
<rect x="1809.31" y="956.03" width="18.28" height="18.73" fill="#2468b0"/>
<rect x="1826.99" y="956.03" width="18.28" height="18.73" fill="#2b3990"/>
<rect x="1844.67" y="956.03" width="18.28" height="18.73" fill="#2b3990"/>
<rect x="1862.36" y="956.03" width="18.28" height="18.73" fill="#2b3990"/>
<rect x="1880.04" y="956.03" width="18.28" height="18.73" fill="#2682c2"/>
<rect x="1897.73" y="956.03" width="18.28" height="18.73" fill="#76c8be"/>
<rect x="1915.41" y="956.03" width="18.28" height="18.73" fill="#2b3990"/>
<rect x="1933.09" y="956.03" width="18.28" height="18.73" fill="#2b3990"/>
<rect x="1950.78" y="956.03" width="18.28" height="18.73" fill="#f6f5c6"/>
<rect x="1968.46" y="956.03" width="18.28" height="18.73" fill="#2b3990"/>
<rect x="1986.15" y="956.03" width="18.28" height="18.73" fill="#2b3990"/>
<rect x="2003.83" y="956.03" width="18.28" height="18.73" fill="#2b3990"/>
<rect x="2021.52" y="956.03" width="18.28" height="18.73" fill="#2b3990"/>
<rect x="1703.20" y="974.16" width="18.28" height="18.73" fill="#2b3990"/>
<rect x="1720.88" y="974.16" width="18.28" height="18.73" fill="#2b3990"/>
<rect x="1738.57" y="974.16" width="18.28" height="18.73" fill="#050505"/>
<rect x="1756.25" y="974.16" width="18.28" height="18.73" fill="#2a99cb"/>
<rect x="1773.94" y="974.16" width="18.28" height="18.73" fill="#c4e6b6"/>
<rect x="1791.62" y="974.16" width="18.28" height="18.73" fill="#f6f5c6"/>
<rect x="1809.31" y="974.16" width="18.28" height="18.73" fill="#2468b0"/>
<rect x="1826.99" y="974.16" width="18.28" height="18.73" fill="#2358a8"/>
<rect x="1844.67" y="974.16" width="18.28" height="18.73" fill="#2a99cb"/>
<rect x="1862.36" y="974.16" width="18.28" height="18.73" fill="#2b3990"/>
<rect x="1880.04" y="974.16" width="18.28" height="18.73" fill="#2358a8"/>
<rect x="1897.73" y="974.16" width="18.28" height="18.73" fill="#2649a0"/>
<rect x="1915.41" y="974.16" width="18.28" height="18.73" fill="#2649a0"/>
<rect x="1933.09" y="974.16" width="18.28" height="18.73" fill="#2358a8"/>
<rect x="1950.78" y="974.16" width="18.28" height="18.73" fill="#2649a0"/>
<rect x="1968.46" y="974.16" width="18.28" height="18.73" fill="#2649a0"/>
<rect x="1986.15" y="974.16" width="18.28" height="18.73" fill="#2b3990"/>
<rect x="2003.83" y="974.16" width="18.28" height="18.73" fill="#2649a0"/>
<rect x="2021.52" y="974.16" width="18.28" height="18.73" fill="#2468b0"/>
<rect x="1703.20" y="992.29" width="18.28" height="18.73" fill="#2b3990"/>
<rect x="1720.88" y="992.29" width="18.28" height="18.73" fill="#2b3990"/>
<rect x="1738.57" y="992.29" width="18.28" height="18.73" fill="#76c8be"/>
<rect x="1756.25" y="992.29" width="18.28" height="18.73" fill="#050505"/>
<rect x="1773.94" y="992.29" width="18.28" height="18.73" fill="#2b3990"/>
<rect x="1791.62" y="992.29" width="18.28" height="18.73" fill="#2a99cb"/>
<rect x="1809.31" y="992.29" width="18.28" height="18.73" fill="#3fb3c7"/>
<rect x="1826.99" y="992.29" width="18.28" height="18.73" fill="#2358a8"/>
<rect x="1844.67" y="992.29" width="18.28" height="18.73" fill="#2a99cb"/>
<rect x="1862.36" y="992.29" width="18.28" height="18.73" fill="#2b3990"/>
<rect x="1880.04" y="992.29" width="18.28" height="18.73" fill="#2468b0"/>
<rect x="1897.73" y="992.29" width="18.28" height="18.73" fill="#2358a8"/>
<rect x="1915.41" y="992.29" width="18.28" height="18.73" fill="#2b3990"/>
<rect x="1933.09" y="992.29" width="18.28" height="18.73" fill="#2b3990"/>
<rect x="1950.78" y="992.29" width="18.28" height="18.73" fill="#2b3990"/>
<rect x="1968.46" y="992.29" width="18.28" height="18.73" fill="#2649a0"/>
<rect x="1986.15" y="992.29" width="18.28" height="18.73" fill="#2b3990"/>
<rect x="2003.83" y="992.29" width="18.28" height="18.73" fill="#2468b0"/>
<rect x="2021.52" y="992.29" width="18.28" height="18.73" fill="#2a99cb"/>
<rect x="1703.20" y="1010.43" width="18.28" height="18.73" fill="#2b3990"/>
<rect x="1720.88" y="1010.43" width="18.28" height="18.73" fill="#2b3990"/>
<rect x="1738.57" y="1010.43" width="18.28" height="18.73" fill="#c4e6b6"/>
<rect x="1756.25" y="1010.43" width="18.28" height="18.73" fill="#76c8be"/>
<rect x="1773.94" y="1010.43" width="18.28" height="18.73" fill="#050505"/>
<rect x="1791.62" y="1010.43" width="18.28" height="18.73" fill="#76c8be"/>
<rect x="1809.31" y="1010.43" width="18.28" height="18.73" fill="#2358a8"/>
<rect x="1826.99" y="1010.43" width="18.28" height="18.73" fill="#2468b0"/>
<rect x="1844.67" y="1010.43" width="18.28" height="18.73" fill="#2b3990"/>
<rect x="1862.36" y="1010.43" width="18.28" height="18.73" fill="#2b3990"/>
<rect x="1880.04" y="1010.43" width="18.28" height="18.73" fill="#2649a0"/>
<rect x="1897.73" y="1010.43" width="18.28" height="18.73" fill="#2b3990"/>
<rect x="1915.41" y="1010.43" width="18.28" height="18.73" fill="#2a99cb"/>
<rect x="1933.09" y="1010.43" width="18.28" height="18.73" fill="#c4e6b6"/>
<rect x="1950.78" y="1010.43" width="18.28" height="18.73" fill="#2468b0"/>
<rect x="1968.46" y="1010.43" width="18.28" height="18.73" fill="#2b3990"/>
<rect x="1986.15" y="1010.43" width="18.28" height="18.73" fill="#2682c2"/>
<rect x="2003.83" y="1010.43" width="18.28" height="18.73" fill="#2b3990"/>
<rect x="2021.52" y="1010.43" width="18.28" height="18.73" fill="#2b3990"/>
<rect x="1703.20" y="1028.56" width="18.28" height="18.73" fill="#2b3990"/>
<rect x="1720.88" y="1028.56" width="18.28" height="18.73" fill="#2b3990"/>
<rect x="1738.57" y="1028.56" width="18.28" height="18.73" fill="#3fb3c7"/>
<rect x="1756.25" y="1028.56" width="18.28" height="18.73" fill="#2a99cb"/>
<rect x="1773.94" y="1028.56" width="18.28" height="18.73" fill="#2b3990"/>
<rect x="1791.62" y="1028.56" width="18.28" height="18.73" fill="#050505"/>
<rect x="1809.31" y="1028.56" width="18.28" height="18.73" fill="#2358a8"/>
<rect x="1826.99" y="1028.56" width="18.28" height="18.73" fill="#2468b0"/>
<rect x="1844.67" y="1028.56" width="18.28" height="18.73" fill="#2a99cb"/>
<rect x="1862.36" y="1028.56" width="18.28" height="18.73" fill="#2b3990"/>
<rect x="1880.04" y="1028.56" width="18.28" height="18.73" fill="#2468b0"/>
<rect x="1897.73" y="1028.56" width="18.28" height="18.73" fill="#3fb3c7"/>
<rect x="1915.41" y="1028.56" width="18.28" height="18.73" fill="#2b3990"/>
<rect x="1933.09" y="1028.56" width="18.28" height="18.73" fill="#2b3990"/>
<rect x="1950.78" y="1028.56" width="18.28" height="18.73" fill="#2b3990"/>
<rect x="1968.46" y="1028.56" width="18.28" height="18.73" fill="#2468b0"/>
<rect x="1986.15" y="1028.56" width="18.28" height="18.73" fill="#2b3990"/>
<rect x="2003.83" y="1028.56" width="18.28" height="18.73" fill="#2b3990"/>
<rect x="2021.52" y="1028.56" width="18.28" height="18.73" fill="#2b3990"/>
<rect x="1703.20" y="1046.69" width="18.28" height="18.73" fill="#2682c2"/>
<rect x="1720.88" y="1046.69" width="18.28" height="18.73" fill="#f6f5c6"/>
<rect x="1738.57" y="1046.69" width="18.28" height="18.73" fill="#2468b0"/>
<rect x="1756.25" y="1046.69" width="18.28" height="18.73" fill="#2468b0"/>
<rect x="1773.94" y="1046.69" width="18.28" height="18.73" fill="#2468b0"/>
<rect x="1791.62" y="1046.69" width="18.28" height="18.73" fill="#2b3990"/>
<rect x="1809.31" y="1046.69" width="18.28" height="18.73" fill="#050505"/>
<rect x="1826.99" y="1046.69" width="18.28" height="18.73" fill="#2468b0"/>
<rect x="1844.67" y="1046.69" width="18.28" height="18.73" fill="#2468b0"/>
<rect x="1862.36" y="1046.69" width="18.28" height="18.73" fill="#2468b0"/>
<rect x="1880.04" y="1046.69" width="18.28" height="18.73" fill="#2468b0"/>
<rect x="1897.73" y="1046.69" width="18.28" height="18.73" fill="#2468b0"/>
<rect x="1915.41" y="1046.69" width="18.28" height="18.73" fill="#2468b0"/>
<rect x="1933.09" y="1046.69" width="18.28" height="18.73" fill="#2468b0"/>
<rect x="1950.78" y="1046.69" width="18.28" height="18.73" fill="#2649a0"/>
<rect x="1968.46" y="1046.69" width="18.28" height="18.73" fill="#2649a0"/>
<rect x="1986.15" y="1046.69" width="18.28" height="18.73" fill="#2649a0"/>
<rect x="2003.83" y="1046.69" width="18.28" height="18.73" fill="#2358a8"/>
<rect x="2021.52" y="1046.69" width="18.28" height="18.73" fill="#2649a0"/>
<rect x="1703.20" y="1064.82" width="18.28" height="18.73" fill="#2b3990"/>
<rect x="1720.88" y="1064.82" width="18.28" height="18.73" fill="#2b3990"/>
<rect x="1738.57" y="1064.82" width="18.28" height="18.73" fill="#2b3990"/>
<rect x="1756.25" y="1064.82" width="18.28" height="18.73" fill="#2649a0"/>
<rect x="1773.94" y="1064.82" width="18.28" height="18.73" fill="#2b3990"/>
<rect x="1791.62" y="1064.82" width="18.28" height="18.73" fill="#2b3990"/>
<rect x="1809.31" y="1064.82" width="18.28" height="18.73" fill="#2682c2"/>
<rect x="1826.99" y="1064.82" width="18.28" height="18.73" fill="#050505"/>
<rect x="1844.67" y="1064.82" width="18.28" height="18.73" fill="#2a99cb"/>
<rect x="1862.36" y="1064.82" width="18.28" height="18.73" fill="#76c8be"/>
<rect x="1880.04" y="1064.82" width="18.28" height="18.73" fill="#2a99cb"/>
<rect x="1897.73" y="1064.82" width="18.28" height="18.73" fill="#2a99cb"/>
<rect x="1915.41" y="1064.82" width="18.28" height="18.73" fill="#2b3990"/>
<rect x="1933.09" y="1064.82" width="18.28" height="18.73" fill="#2b3990"/>
<rect x="1950.78" y="1064.82" width="18.28" height="18.73" fill="#2358a8"/>
<rect x="1968.46" y="1064.82" width="18.28" height="18.73" fill="#2468b0"/>
<rect x="1986.15" y="1064.82" width="18.28" height="18.73" fill="#2468b0"/>
<rect x="2003.83" y="1064.82" width="18.28" height="18.73" fill="#2b3990"/>
<rect x="2021.52" y="1064.82" width="18.28" height="18.73" fill="#f6f5c6"/>
<rect x="1703.20" y="1082.95" width="18.28" height="18.73" fill="#2358a8"/>
<rect x="1720.88" y="1082.95" width="18.28" height="18.73" fill="#2b3990"/>
<rect x="1738.57" y="1082.95" width="18.28" height="18.73" fill="#2b3990"/>
<rect x="1756.25" y="1082.95" width="18.28" height="18.73" fill="#2b3990"/>
<rect x="1773.94" y="1082.95" width="18.28" height="18.73" fill="#2b3990"/>
<rect x="1791.62" y="1082.95" width="18.28" height="18.73" fill="#2b3990"/>
<rect x="1809.31" y="1082.95" width="18.28" height="18.73" fill="#2a99cb"/>
<rect x="1826.99" y="1082.95" width="18.28" height="18.73" fill="#3fb3c7"/>
<rect x="1844.67" y="1082.95" width="18.28" height="18.73" fill="#050505"/>
<rect x="1862.36" y="1082.95" width="18.28" height="18.73" fill="#76c8be"/>
<rect x="1880.04" y="1082.95" width="18.28" height="18.73" fill="#2468b0"/>
<rect x="1897.73" y="1082.95" width="18.28" height="18.73" fill="#2358a8"/>
<rect x="1915.41" y="1082.95" width="18.28" height="18.73" fill="#2b3990"/>
<rect x="1933.09" y="1082.95" width="18.28" height="18.73" fill="#2468b0"/>
<rect x="1950.78" y="1082.95" width="18.28" height="18.73" fill="#2b3990"/>
<rect x="1968.46" y="1082.95" width="18.28" height="18.73" fill="#2358a8"/>
<rect x="1986.15" y="1082.95" width="18.28" height="18.73" fill="#76c8be"/>
<rect x="2003.83" y="1082.95" width="18.28" height="18.73" fill="#2b3990"/>
<rect x="2021.52" y="1082.95" width="18.28" height="18.73" fill="#2a99cb"/>
<rect x="1703.20" y="1101.08" width="18.28" height="18.73" fill="#2b3990"/>
<rect x="1720.88" y="1101.08" width="18.28" height="18.73" fill="#2b3990"/>
<rect x="1738.57" y="1101.08" width="18.28" height="18.73" fill="#2b3990"/>
<rect x="1756.25" y="1101.08" width="18.28" height="18.73" fill="#2b3990"/>
<rect x="1773.94" y="1101.08" width="18.28" height="18.73" fill="#2b3990"/>
<rect x="1791.62" y="1101.08" width="18.28" height="18.73" fill="#2b3990"/>
<rect x="1809.31" y="1101.08" width="18.28" height="18.73" fill="#2358a8"/>
<rect x="1826.99" y="1101.08" width="18.28" height="18.73" fill="#f6f5c6"/>
<rect x="1844.67" y="1101.08" width="18.28" height="18.73" fill="#2b3990"/>
<rect x="1862.36" y="1101.08" width="18.28" height="18.73" fill="#050505"/>
<rect x="1880.04" y="1101.08" width="18.28" height="18.73" fill="#2649a0"/>
<rect x="1897.73" y="1101.08" width="18.28" height="18.73" fill="#2b3990"/>
<rect x="1915.41" y="1101.08" width="18.28" height="18.73" fill="#f6f5c6"/>
<rect x="1933.09" y="1101.08" width="18.28" height="18.73" fill="#2b3990"/>
<rect x="1950.78" y="1101.08" width="18.28" height="18.73" fill="#2b3990"/>
<rect x="1968.46" y="1101.08" width="18.28" height="18.73" fill="#2b3990"/>
<rect x="1986.15" y="1101.08" width="18.28" height="18.73" fill="#2b3990"/>
<rect x="2003.83" y="1101.08" width="18.28" height="18.73" fill="#2b3990"/>
<rect x="2021.52" y="1101.08" width="18.28" height="18.73" fill="#2b3990"/>
<rect x="1703.20" y="1119.22" width="18.28" height="18.73" fill="#2b3990"/>
<rect x="1720.88" y="1119.22" width="18.28" height="18.73" fill="#2b3990"/>
<rect x="1738.57" y="1119.22" width="18.28" height="18.73" fill="#2b3990"/>
<rect x="1756.25" y="1119.22" width="18.28" height="18.73" fill="#2649a0"/>
<rect x="1773.94" y="1119.22" width="18.28" height="18.73" fill="#2b3990"/>
<rect x="1791.62" y="1119.22" width="18.28" height="18.73" fill="#2358a8"/>
<rect x="1809.31" y="1119.22" width="18.28" height="18.73" fill="#2b3990"/>
<rect x="1826.99" y="1119.22" width="18.28" height="18.73" fill="#2b3990"/>
<rect x="1844.67" y="1119.22" width="18.28" height="18.73" fill="#2b3990"/>
<rect x="1862.36" y="1119.22" width="18.28" height="18.73" fill="#2b3990"/>
<rect x="1880.04" y="1119.22" width="18.28" height="18.73" fill="#050505"/>
<rect x="1897.73" y="1119.22" width="18.28" height="18.73" fill="#3fb3c7"/>
<rect x="1915.41" y="1119.22" width="18.28" height="18.73" fill="#2a99cb"/>
<rect x="1933.09" y="1119.22" width="18.28" height="18.73" fill="#3fb3c7"/>
<rect x="1950.78" y="1119.22" width="18.28" height="18.73" fill="#3fb3c7"/>
<rect x="1968.46" y="1119.22" width="18.28" height="18.73" fill="#3fb3c7"/>
<rect x="1986.15" y="1119.22" width="18.28" height="18.73" fill="#3fb3c7"/>
<rect x="2003.83" y="1119.22" width="18.28" height="18.73" fill="#2682c2"/>
<rect x="2021.52" y="1119.22" width="18.28" height="18.73" fill="#2468b0"/>
<rect x="1703.20" y="1137.35" width="18.28" height="18.73" fill="#2649a0"/>
<rect x="1720.88" y="1137.35" width="18.28" height="18.73" fill="#2b3990"/>
<rect x="1738.57" y="1137.35" width="18.28" height="18.73" fill="#2b3990"/>
<rect x="1756.25" y="1137.35" width="18.28" height="18.73" fill="#2358a8"/>
<rect x="1773.94" y="1137.35" width="18.28" height="18.73" fill="#2b3990"/>
<rect x="1791.62" y="1137.35" width="18.28" height="18.73" fill="#2b3990"/>
<rect x="1809.31" y="1137.35" width="18.28" height="18.73" fill="#2b3990"/>
<rect x="1826.99" y="1137.35" width="18.28" height="18.73" fill="#2b3990"/>
<rect x="1844.67" y="1137.35" width="18.28" height="18.73" fill="#2b3990"/>
<rect x="1862.36" y="1137.35" width="18.28" height="18.73" fill="#3fb3c7"/>
<rect x="1880.04" y="1137.35" width="18.28" height="18.73" fill="#2682c2"/>
<rect x="1897.73" y="1137.35" width="18.28" height="18.73" fill="#050505"/>
<rect x="1915.41" y="1137.35" width="18.28" height="18.73" fill="#2468b0"/>
<rect x="1933.09" y="1137.35" width="18.28" height="18.73" fill="#2a99cb"/>
<rect x="1950.78" y="1137.35" width="18.28" height="18.73" fill="#2b3990"/>
<rect x="1968.46" y="1137.35" width="18.28" height="18.73" fill="#2682c2"/>
<rect x="1986.15" y="1137.35" width="18.28" height="18.73" fill="#76c8be"/>
<rect x="2003.83" y="1137.35" width="18.28" height="18.73" fill="#2468b0"/>
<rect x="2021.52" y="1137.35" width="18.28" height="18.73" fill="#2a99cb"/>
<rect x="1703.20" y="1155.48" width="18.28" height="18.73" fill="#2b3990"/>
<rect x="1720.88" y="1155.48" width="18.28" height="18.73" fill="#2b3990"/>
<rect x="1738.57" y="1155.48" width="18.28" height="18.73" fill="#2b3990"/>
<rect x="1756.25" y="1155.48" width="18.28" height="18.73" fill="#2b3990"/>
<rect x="1773.94" y="1155.48" width="18.28" height="18.73" fill="#2b3990"/>
<rect x="1791.62" y="1155.48" width="18.28" height="18.73" fill="#2b3990"/>
<rect x="1809.31" y="1155.48" width="18.28" height="18.73" fill="#2b3990"/>
<rect x="1826.99" y="1155.48" width="18.28" height="18.73" fill="#2b3990"/>
<rect x="1844.67" y="1155.48" width="18.28" height="18.73" fill="#2b3990"/>
<rect x="1862.36" y="1155.48" width="18.28" height="18.73" fill="#2b3990"/>
<rect x="1880.04" y="1155.48" width="18.28" height="18.73" fill="#2468b0"/>
<rect x="1897.73" y="1155.48" width="18.28" height="18.73" fill="#2b3990"/>
<rect x="1915.41" y="1155.48" width="18.28" height="18.73" fill="#050505"/>
<rect x="1933.09" y="1155.48" width="18.28" height="18.73" fill="#2b3990"/>
<rect x="1950.78" y="1155.48" width="18.28" height="18.73" fill="#c4e6b6"/>
<rect x="1968.46" y="1155.48" width="18.28" height="18.73" fill="#2358a8"/>
<rect x="1986.15" y="1155.48" width="18.28" height="18.73" fill="#2b3990"/>
<rect x="2003.83" y="1155.48" width="18.28" height="18.73" fill="#2468b0"/>
<rect x="2021.52" y="1155.48" width="18.28" height="18.73" fill="#2b3990"/>
<rect x="1703.20" y="1173.61" width="18.28" height="18.73" fill="#2b3990"/>
<rect x="1720.88" y="1173.61" width="18.28" height="18.73" fill="#2b3990"/>
<rect x="1738.57" y="1173.61" width="18.28" height="18.73" fill="#2b3990"/>
<rect x="1756.25" y="1173.61" width="18.28" height="18.73" fill="#2468b0"/>
<rect x="1773.94" y="1173.61" width="18.28" height="18.73" fill="#2b3990"/>
<rect x="1791.62" y="1173.61" width="18.28" height="18.73" fill="#2b3990"/>
<rect x="1809.31" y="1173.61" width="18.28" height="18.73" fill="#2b3990"/>
<rect x="1826.99" y="1173.61" width="18.28" height="18.73" fill="#2b3990"/>
<rect x="1844.67" y="1173.61" width="18.28" height="18.73" fill="#2b3990"/>
<rect x="1862.36" y="1173.61" width="18.28" height="18.73" fill="#2b3990"/>
<rect x="1880.04" y="1173.61" width="18.28" height="18.73" fill="#2a99cb"/>
<rect x="1897.73" y="1173.61" width="18.28" height="18.73" fill="#2b3990"/>
<rect x="1915.41" y="1173.61" width="18.28" height="18.73" fill="#76c8be"/>
<rect x="1933.09" y="1173.61" width="18.28" height="18.73" fill="#050505"/>
<rect x="1950.78" y="1173.61" width="18.28" height="18.73" fill="#c4e6b6"/>
<rect x="1968.46" y="1173.61" width="18.28" height="18.73" fill="#2a99cb"/>
<rect x="1986.15" y="1173.61" width="18.28" height="18.73" fill="#2b3990"/>
<rect x="2003.83" y="1173.61" width="18.28" height="18.73" fill="#2468b0"/>
<rect x="2021.52" y="1173.61" width="18.28" height="18.73" fill="#2b3990"/>
<rect x="1703.20" y="1191.74" width="18.28" height="18.73" fill="#2b3990"/>
<rect x="1720.88" y="1191.74" width="18.28" height="18.73" fill="#2b3990"/>
<rect x="1738.57" y="1191.74" width="18.28" height="18.73" fill="#2b3990"/>
<rect x="1756.25" y="1191.74" width="18.28" height="18.73" fill="#c4e6b6"/>
<rect x="1773.94" y="1191.74" width="18.28" height="18.73" fill="#2b3990"/>
<rect x="1791.62" y="1191.74" width="18.28" height="18.73" fill="#2b3990"/>
<rect x="1809.31" y="1191.74" width="18.28" height="18.73" fill="#2b3990"/>
<rect x="1826.99" y="1191.74" width="18.28" height="18.73" fill="#2b3990"/>
<rect x="1844.67" y="1191.74" width="18.28" height="18.73" fill="#2b3990"/>
<rect x="1862.36" y="1191.74" width="18.28" height="18.73" fill="#2b3990"/>
<rect x="1880.04" y="1191.74" width="18.28" height="18.73" fill="#2b3990"/>
<rect x="1897.73" y="1191.74" width="18.28" height="18.73" fill="#2b3990"/>
<rect x="1915.41" y="1191.74" width="18.28" height="18.73" fill="#2b3990"/>
<rect x="1933.09" y="1191.74" width="18.28" height="18.73" fill="#2b3990"/>
<rect x="1950.78" y="1191.74" width="18.28" height="18.73" fill="#050505"/>
<rect x="1968.46" y="1191.74" width="18.28" height="18.73" fill="#76c8be"/>
<rect x="1986.15" y="1191.74" width="18.28" height="18.73" fill="#f6f5c6"/>
<rect x="2003.83" y="1191.74" width="18.28" height="18.73" fill="#76c8be"/>
<rect x="2021.52" y="1191.74" width="18.28" height="18.73" fill="#2b3990"/>
<rect x="1703.20" y="1209.87" width="18.28" height="18.73" fill="#2649a0"/>
<rect x="1720.88" y="1209.87" width="18.28" height="18.73" fill="#2b3990"/>
<rect x="1738.57" y="1209.87" width="18.28" height="18.73" fill="#2b3990"/>
<rect x="1756.25" y="1209.87" width="18.28" height="18.73" fill="#2468b0"/>
<rect x="1773.94" y="1209.87" width="18.28" height="18.73" fill="#2b3990"/>
<rect x="1791.62" y="1209.87" width="18.28" height="18.73" fill="#2b3990"/>
<rect x="1809.31" y="1209.87" width="18.28" height="18.73" fill="#2b3990"/>
<rect x="1826.99" y="1209.87" width="18.28" height="18.73" fill="#2358a8"/>
<rect x="1844.67" y="1209.87" width="18.28" height="18.73" fill="#2b3990"/>
<rect x="1862.36" y="1209.87" width="18.28" height="18.73" fill="#2b3990"/>
<rect x="1880.04" y="1209.87" width="18.28" height="18.73" fill="#2b3990"/>
<rect x="1897.73" y="1209.87" width="18.28" height="18.73" fill="#2b3990"/>
<rect x="1915.41" y="1209.87" width="18.28" height="18.73" fill="#2b3990"/>
<rect x="1933.09" y="1209.87" width="18.28" height="18.73" fill="#2b3990"/>
<rect x="1950.78" y="1209.87" width="18.28" height="18.73" fill="#c4e6b6"/>
<rect x="1968.46" y="1209.87" width="18.28" height="18.73" fill="#050505"/>
<rect x="1986.15" y="1209.87" width="18.28" height="18.73" fill="#2a99cb"/>
<rect x="2003.83" y="1209.87" width="18.28" height="18.73" fill="#c4e6b6"/>
<rect x="2021.52" y="1209.87" width="18.28" height="18.73" fill="#3fb3c7"/>
<rect x="1703.20" y="1228.01" width="18.28" height="18.73" fill="#2b3990"/>
<rect x="1720.88" y="1228.01" width="18.28" height="18.73" fill="#2b3990"/>
<rect x="1738.57" y="1228.01" width="18.28" height="18.73" fill="#2b3990"/>
<rect x="1756.25" y="1228.01" width="18.28" height="18.73" fill="#2b3990"/>
<rect x="1773.94" y="1228.01" width="18.28" height="18.73" fill="#2b3990"/>
<rect x="1791.62" y="1228.01" width="18.28" height="18.73" fill="#2b3990"/>
<rect x="1809.31" y="1228.01" width="18.28" height="18.73" fill="#2b3990"/>
<rect x="1826.99" y="1228.01" width="18.28" height="18.73" fill="#2b3990"/>
<rect x="1844.67" y="1228.01" width="18.28" height="18.73" fill="#2b3990"/>
<rect x="1862.36" y="1228.01" width="18.28" height="18.73" fill="#2b3990"/>
<rect x="1880.04" y="1228.01" width="18.28" height="18.73" fill="#2b3990"/>
<rect x="1897.73" y="1228.01" width="18.28" height="18.73" fill="#2b3990"/>
<rect x="1915.41" y="1228.01" width="18.28" height="18.73" fill="#2b3990"/>
<rect x="1933.09" y="1228.01" width="18.28" height="18.73" fill="#2b3990"/>
<rect x="1950.78" y="1228.01" width="18.28" height="18.73" fill="#2a99cb"/>
<rect x="1968.46" y="1228.01" width="18.28" height="18.73" fill="#2a99cb"/>
<rect x="1986.15" y="1228.01" width="18.28" height="18.73" fill="#050505"/>
<rect x="2003.83" y="1228.01" width="18.28" height="18.73" fill="#2468b0"/>
<rect x="2021.52" y="1228.01" width="18.28" height="18.73" fill="#f6f5c6"/>
<rect x="1703.20" y="1246.14" width="18.28" height="18.73" fill="#2358a8"/>
<rect x="1720.88" y="1246.14" width="18.28" height="18.73" fill="#2b3990"/>
<rect x="1738.57" y="1246.14" width="18.28" height="18.73" fill="#2358a8"/>
<rect x="1756.25" y="1246.14" width="18.28" height="18.73" fill="#2b3990"/>
<rect x="1773.94" y="1246.14" width="18.28" height="18.73" fill="#2b3990"/>
<rect x="1791.62" y="1246.14" width="18.28" height="18.73" fill="#2b3990"/>
<rect x="1809.31" y="1246.14" width="18.28" height="18.73" fill="#2649a0"/>
<rect x="1826.99" y="1246.14" width="18.28" height="18.73" fill="#2b3990"/>
<rect x="1844.67" y="1246.14" width="18.28" height="18.73" fill="#2b3990"/>
<rect x="1862.36" y="1246.14" width="18.28" height="18.73" fill="#3fb3c7"/>
<rect x="1880.04" y="1246.14" width="18.28" height="18.73" fill="#2649a0"/>
<rect x="1897.73" y="1246.14" width="18.28" height="18.73" fill="#2b3990"/>
<rect x="1915.41" y="1246.14" width="18.28" height="18.73" fill="#2b3990"/>
<rect x="1933.09" y="1246.14" width="18.28" height="18.73" fill="#2b3990"/>
<rect x="1950.78" y="1246.14" width="18.28" height="18.73" fill="#2b3990"/>
<rect x="1968.46" y="1246.14" width="18.28" height="18.73" fill="#2649a0"/>
<rect x="1986.15" y="1246.14" width="18.28" height="18.73" fill="#2b3990"/>
<rect x="2003.83" y="1246.14" width="18.28" height="18.73" fill="#050505"/>
<rect x="2021.52" y="1246.14" width="18.28" height="18.73" fill="#c4e6b6"/>
<rect x="1703.20" y="1264.27" width="18.28" height="18.73" fill="#2b3990"/>
<rect x="1720.88" y="1264.27" width="18.28" height="18.73" fill="#2b3990"/>
<rect x="1738.57" y="1264.27" width="18.28" height="18.73" fill="#2b3990"/>
<rect x="1756.25" y="1264.27" width="18.28" height="18.73" fill="#2b3990"/>
<rect x="1773.94" y="1264.27" width="18.28" height="18.73" fill="#2b3990"/>
<rect x="1791.62" y="1264.27" width="18.28" height="18.73" fill="#2b3990"/>
<rect x="1809.31" y="1264.27" width="18.28" height="18.73" fill="#2b3990"/>
<rect x="1826.99" y="1264.27" width="18.28" height="18.73" fill="#2b3990"/>
<rect x="1844.67" y="1264.27" width="18.28" height="18.73" fill="#2b3990"/>
<rect x="1862.36" y="1264.27" width="18.28" height="18.73" fill="#2b3990"/>
<rect x="1880.04" y="1264.27" width="18.28" height="18.73" fill="#2b3990"/>
<rect x="1897.73" y="1264.27" width="18.28" height="18.73" fill="#2b3990"/>
<rect x="1915.41" y="1264.27" width="18.28" height="18.73" fill="#2b3990"/>
<rect x="1933.09" y="1264.27" width="18.28" height="18.73" fill="#2b3990"/>
<rect x="1950.78" y="1264.27" width="18.28" height="18.73" fill="#2b3990"/>
<rect x="1968.46" y="1264.27" width="18.28" height="18.73" fill="#2b3990"/>
<rect x="1986.15" y="1264.27" width="18.28" height="18.73" fill="#2b3990"/>
<rect x="2003.83" y="1264.27" width="18.28" height="18.73" fill="#f6f5c6"/>
<rect x="2021.52" y="1264.27" width="18.28" height="18.73" fill="#050505"/>
<rect x="1701.50" y="937.20" width="338.40" height="346.40" fill="none" stroke="#000" stroke-width="1.6"/>
<line x1="1702.00" y1="936.40" x2="1702.00" y2="1284.90" stroke="#000" stroke-width="2.8" stroke-linecap="butt"/>
<line x1="1700.70" y1="1283.20" x2="2040.70" y2="1283.20" stroke="#000" stroke-width="2.6" stroke-linecap="butt"/>
<line x1="1692.00" y1="946.97" x2="1700.70" y2="946.97" stroke="#333" stroke-width="3.4" stroke-linecap="butt"/>
<text transform="translate(1632.24,955.57) scale(0.9550,1)" font-family="'Liberation Sans', Arial, sans-serif" font-weight="normal" font-style="normal" font-size="24.95" fill="#4d4d4d">CCG</text>
<line x1="1692.00" y1="965.10" x2="1700.70" y2="965.10" stroke="#333" stroke-width="3.4" stroke-linecap="butt"/>
<text transform="translate(1635.75,973.70) scale(0.9550,1)" font-family="'Liberation Sans', Arial, sans-serif" font-weight="normal" font-style="normal" font-size="24.95" fill="#4d4d4d">AAA</text>
<line x1="1692.00" y1="983.23" x2="1700.70" y2="983.23" stroke="#333" stroke-width="3.4" stroke-linecap="butt"/>
<text transform="translate(1640.22,991.83) scale(0.9550,1)" font-family="'Liberation Sans', Arial, sans-serif" font-weight="normal" font-style="normal" font-size="24.95" fill="#4d4d4d">TTA</text>
<line x1="1692.00" y1="1001.36" x2="1700.70" y2="1001.36" stroke="#333" stroke-width="3.4" stroke-linecap="butt"/>
<text transform="translate(1632.66,1009.96) scale(0.9550,1)" font-family="'Liberation Sans', Arial, sans-serif" font-weight="normal" font-style="normal" font-size="24.95" fill="#4d4d4d">GAC</text>
<line x1="1692.00" y1="1019.49" x2="1700.70" y2="1019.49" stroke="#333" stroke-width="3.4" stroke-linecap="butt"/>
<text transform="translate(1630.93,1028.09) scale(0.9550,1)" font-family="'Liberation Sans', Arial, sans-serif" font-weight="normal" font-style="normal" font-size="24.95" fill="#4d4d4d">CGG</text>
<line x1="1692.00" y1="1037.62" x2="1700.70" y2="1037.62" stroke="#333" stroke-width="3.4" stroke-linecap="butt"/>
<text transform="translate(1634.03,1046.22) scale(0.9550,1)" font-family="'Liberation Sans', Arial, sans-serif" font-weight="normal" font-style="normal" font-size="24.95" fill="#4d4d4d">GTC</text>
<line x1="1692.00" y1="1055.76" x2="1700.70" y2="1055.76" stroke="#333" stroke-width="3.4" stroke-linecap="butt"/>
<text transform="translate(1636.29,1064.36) scale(0.9550,1)" font-family="'Liberation Sans', Arial, sans-serif" font-weight="normal" font-style="normal" font-size="24.95" fill="#4d4d4d">ACT</text>
<line x1="1692.00" y1="1073.89" x2="1700.70" y2="1073.89" stroke="#333" stroke-width="3.4" stroke-linecap="butt"/>
<text transform="translate(1637.96,1082.49) scale(0.9550,1)" font-family="'Liberation Sans', Arial, sans-serif" font-weight="normal" font-style="normal" font-size="24.95" fill="#4d4d4d">TTC</text>
<line x1="1692.00" y1="1092.02" x2="1700.70" y2="1092.02" stroke="#333" stroke-width="3.4" stroke-linecap="butt"/>
<text transform="translate(1633.55,1100.62) scale(0.9550,1)" font-family="'Liberation Sans', Arial, sans-serif" font-weight="normal" font-style="normal" font-size="24.95" fill="#4d4d4d">ACG</text>
<line x1="1692.00" y1="1110.15" x2="1700.70" y2="1110.15" stroke="#333" stroke-width="3.4" stroke-linecap="butt"/>
<text transform="translate(1638.02,1118.75) scale(0.9550,1)" font-family="'Liberation Sans', Arial, sans-serif" font-weight="normal" font-style="normal" font-size="24.95" fill="#4d4d4d">ATG</text>
<line x1="1692.00" y1="1128.28" x2="1700.70" y2="1128.28" stroke="#333" stroke-width="3.4" stroke-linecap="butt"/>
<text transform="translate(1639.39,1136.88) scale(0.9550,1)" font-family="'Liberation Sans', Arial, sans-serif" font-weight="normal" font-style="normal" font-size="24.95" fill="#4d4d4d">AAT</text>
<line x1="1692.00" y1="1146.41" x2="1700.70" y2="1146.41" stroke="#333" stroke-width="3.4" stroke-linecap="butt"/>
<text transform="translate(1637.54,1155.01) scale(0.9550,1)" font-family="'Liberation Sans', Arial, sans-serif" font-weight="normal" font-style="normal" font-size="24.95" fill="#4d4d4d">TTG</text>
<line x1="1692.00" y1="1164.54" x2="1700.70" y2="1164.54" stroke="#333" stroke-width="3.4" stroke-linecap="butt"/>
<text transform="translate(1638.91,1173.14) scale(0.9550,1)" font-family="'Liberation Sans', Arial, sans-serif" font-weight="normal" font-style="normal" font-size="24.95" fill="#4d4d4d">TAA</text>
<line x1="1692.00" y1="1182.68" x2="1700.70" y2="1182.68" stroke="#333" stroke-width="3.4" stroke-linecap="butt"/>
<text transform="translate(1633.97,1191.28) scale(0.9550,1)" font-family="'Liberation Sans', Arial, sans-serif" font-weight="normal" font-style="normal" font-size="24.95" fill="#4d4d4d">CAC</text>
<line x1="1692.00" y1="1200.81" x2="1700.70" y2="1200.81" stroke="#333" stroke-width="3.4" stroke-linecap="butt"/>
<text transform="translate(1630.51,1209.41) scale(0.9550,1)" font-family="'Liberation Sans', Arial, sans-serif" font-weight="normal" font-style="normal" font-size="24.95" fill="#4d4d4d">GGA</text>
<line x1="1692.00" y1="1218.94" x2="1700.70" y2="1218.94" stroke="#333" stroke-width="3.4" stroke-linecap="butt"/>
<text transform="translate(1633.13,1227.54) scale(0.9550,1)" font-family="'Liberation Sans', Arial, sans-serif" font-weight="normal" font-style="normal" font-size="24.95" fill="#4d4d4d">CCA</text>
<line x1="1692.00" y1="1237.07" x2="1700.70" y2="1237.07" stroke="#333" stroke-width="3.4" stroke-linecap="butt"/>
<text transform="translate(1633.13,1245.67) scale(0.9550,1)" font-family="'Liberation Sans', Arial, sans-serif" font-weight="normal" font-style="normal" font-size="24.95" fill="#4d4d4d">GAA</text>
<line x1="1692.00" y1="1255.20" x2="1700.70" y2="1255.20" stroke="#333" stroke-width="3.4" stroke-linecap="butt"/>
<text transform="translate(1638.08,1263.80) scale(0.9550,1)" font-family="'Liberation Sans', Arial, sans-serif" font-weight="normal" font-style="normal" font-size="24.95" fill="#4d4d4d">CAT</text>
<line x1="1692.00" y1="1273.33" x2="1700.70" y2="1273.33" stroke="#333" stroke-width="3.4" stroke-linecap="butt"/>
<text transform="translate(1634.50,1281.93) scale(0.9550,1)" font-family="'Liberation Sans', Arial, sans-serif" font-weight="normal" font-style="normal" font-size="24.95" fill="#4d4d4d">TGA</text>
<line x1="1712.04" y1="1284.40" x2="1712.04" y2="1292.90" stroke="#333" stroke-width="3.6" stroke-linecap="butt"/>
<text transform="translate(1704.34,1300.38) rotate(90) scale(0.9200,1)" font-family="'Liberation Sans', Arial, sans-serif" font-weight="normal" font-style="normal" font-size="22.08" fill="#4d4d4d">CCG</text>
<line x1="1729.73" y1="1284.40" x2="1729.73" y2="1292.90" stroke="#333" stroke-width="3.6" stroke-linecap="butt"/>
<text transform="translate(1722.03,1301.35) rotate(90) scale(0.9200,1)" font-family="'Liberation Sans', Arial, sans-serif" font-weight="normal" font-style="normal" font-size="22.40" fill="#4d4d4d">AAA</text>
<line x1="1747.41" y1="1284.40" x2="1747.41" y2="1292.90" stroke="#333" stroke-width="3.6" stroke-linecap="butt"/>
<text transform="translate(1739.71,1300.94) rotate(90) scale(0.9200,1)" font-family="'Liberation Sans', Arial, sans-serif" font-weight="normal" font-style="normal" font-size="22.40" fill="#4d4d4d">TTA</text>
<line x1="1765.09" y1="1284.40" x2="1765.09" y2="1292.90" stroke="#333" stroke-width="3.6" stroke-linecap="butt"/>
<text transform="translate(1757.39,1300.38) rotate(90) scale(0.9200,1)" font-family="'Liberation Sans', Arial, sans-serif" font-weight="normal" font-style="normal" font-size="22.08" fill="#4d4d4d">GAC</text>
<line x1="1782.78" y1="1284.40" x2="1782.78" y2="1292.90" stroke="#333" stroke-width="3.6" stroke-linecap="butt"/>
<text transform="translate(1775.08,1300.38) rotate(90) scale(0.9200,1)" font-family="'Liberation Sans', Arial, sans-serif" font-weight="normal" font-style="normal" font-size="22.08" fill="#4d4d4d">CGG</text>
<line x1="1800.46" y1="1284.40" x2="1800.46" y2="1292.90" stroke="#333" stroke-width="3.6" stroke-linecap="butt"/>
<text transform="translate(1792.76,1300.38) rotate(90) scale(0.9200,1)" font-family="'Liberation Sans', Arial, sans-serif" font-weight="normal" font-style="normal" font-size="22.08" fill="#4d4d4d">GTC</text>
<line x1="1818.15" y1="1284.40" x2="1818.15" y2="1292.90" stroke="#333" stroke-width="3.6" stroke-linecap="butt"/>
<text transform="translate(1810.45,1301.35) rotate(90) scale(0.9200,1)" font-family="'Liberation Sans', Arial, sans-serif" font-weight="normal" font-style="normal" font-size="22.08" fill="#4d4d4d">ACT</text>
<line x1="1835.83" y1="1284.40" x2="1835.83" y2="1292.90" stroke="#333" stroke-width="3.6" stroke-linecap="butt"/>
<text transform="translate(1828.13,1300.94) rotate(90) scale(0.9200,1)" font-family="'Liberation Sans', Arial, sans-serif" font-weight="normal" font-style="normal" font-size="22.08" fill="#4d4d4d">TTC</text>
<line x1="1853.52" y1="1284.40" x2="1853.52" y2="1292.90" stroke="#333" stroke-width="3.6" stroke-linecap="butt"/>
<text transform="translate(1845.82,1301.35) rotate(90) scale(0.9200,1)" font-family="'Liberation Sans', Arial, sans-serif" font-weight="normal" font-style="normal" font-size="22.08" fill="#4d4d4d">ACG</text>
<line x1="1871.20" y1="1284.40" x2="1871.20" y2="1292.90" stroke="#333" stroke-width="3.6" stroke-linecap="butt"/>
<text transform="translate(1863.50,1301.35) rotate(90) scale(0.9200,1)" font-family="'Liberation Sans', Arial, sans-serif" font-weight="normal" font-style="normal" font-size="22.08" fill="#4d4d4d">ATG</text>
<line x1="1888.88" y1="1284.40" x2="1888.88" y2="1292.90" stroke="#333" stroke-width="3.6" stroke-linecap="butt"/>
<text transform="translate(1881.18,1301.35) rotate(90) scale(0.9200,1)" font-family="'Liberation Sans', Arial, sans-serif" font-weight="normal" font-style="normal" font-size="22.40" fill="#4d4d4d">AAT</text>
<line x1="1906.57" y1="1284.40" x2="1906.57" y2="1292.90" stroke="#333" stroke-width="3.6" stroke-linecap="butt"/>
<text transform="translate(1898.87,1300.94) rotate(90) scale(0.9200,1)" font-family="'Liberation Sans', Arial, sans-serif" font-weight="normal" font-style="normal" font-size="22.08" fill="#4d4d4d">TTG</text>
<line x1="1924.25" y1="1284.40" x2="1924.25" y2="1292.90" stroke="#333" stroke-width="3.6" stroke-linecap="butt"/>
<text transform="translate(1916.55,1300.94) rotate(90) scale(0.9200,1)" font-family="'Liberation Sans', Arial, sans-serif" font-weight="normal" font-style="normal" font-size="22.40" fill="#4d4d4d">TAA</text>
<line x1="1941.94" y1="1284.40" x2="1941.94" y2="1292.90" stroke="#333" stroke-width="3.6" stroke-linecap="butt"/>
<text transform="translate(1934.24,1300.38) rotate(90) scale(0.9200,1)" font-family="'Liberation Sans', Arial, sans-serif" font-weight="normal" font-style="normal" font-size="22.08" fill="#4d4d4d">CAC</text>
<line x1="1959.62" y1="1284.40" x2="1959.62" y2="1292.90" stroke="#333" stroke-width="3.6" stroke-linecap="butt"/>
<text transform="translate(1951.92,1300.38) rotate(90) scale(0.9200,1)" font-family="'Liberation Sans', Arial, sans-serif" font-weight="normal" font-style="normal" font-size="22.08" fill="#4d4d4d">GGA</text>
<line x1="1977.31" y1="1284.40" x2="1977.31" y2="1292.90" stroke="#333" stroke-width="3.6" stroke-linecap="butt"/>
<text transform="translate(1969.61,1300.38) rotate(90) scale(0.9200,1)" font-family="'Liberation Sans', Arial, sans-serif" font-weight="normal" font-style="normal" font-size="22.08" fill="#4d4d4d">CCA</text>
<line x1="1994.99" y1="1284.40" x2="1994.99" y2="1292.90" stroke="#333" stroke-width="3.6" stroke-linecap="butt"/>
<text transform="translate(1987.29,1300.38) rotate(90) scale(0.9200,1)" font-family="'Liberation Sans', Arial, sans-serif" font-weight="normal" font-style="normal" font-size="22.08" fill="#4d4d4d">GAA</text>
<line x1="2012.67" y1="1284.40" x2="2012.67" y2="1292.90" stroke="#333" stroke-width="3.6" stroke-linecap="butt"/>
<text transform="translate(2004.97,1300.38) rotate(90) scale(0.9200,1)" font-family="'Liberation Sans', Arial, sans-serif" font-weight="normal" font-style="normal" font-size="22.08" fill="#4d4d4d">CAT</text>
<line x1="2030.36" y1="1284.40" x2="2030.36" y2="1292.90" stroke="#333" stroke-width="3.6" stroke-linecap="butt"/>
<text transform="translate(2022.66,1300.94) rotate(90) scale(0.9200,1)" font-family="'Liberation Sans', Arial, sans-serif" font-weight="normal" font-style="normal" font-size="22.08" fill="#4d4d4d">TGA</text>
<text transform="translate(1612.80,1187.00) rotate(-90) scale(0.9262,1)" font-family="'Liberation Sans', Arial, sans-serif" font-weight="normal" font-style="normal" font-size="39.31" fill="#000">Position1</text>
<text transform="translate(1792.92,1382.10) scale(0.9438,1)" font-family="'Liberation Sans', Arial, sans-serif" font-weight="normal" font-style="normal" font-size="39.59" fill="#000">Position2</text>
<rect x="140.20" y="1676.80" width="15.30" height="125.00" fill="#595b5b"/>
<rect x="157.19" y="1778.40" width="15.30" height="23.40" fill="#595b5b"/>
<rect x="174.19" y="1486.60" width="15.30" height="315.20" fill="#595b5b"/>
<rect x="191.18" y="1691.10" width="15.30" height="110.70" fill="#595b5b"/>
<rect x="208.18" y="1736.60" width="15.30" height="65.20" fill="#595b5b"/>
<rect x="225.17" y="1782.10" width="15.30" height="19.70" fill="#595b5b"/>
<rect x="242.17" y="1551.00" width="15.30" height="250.80" fill="#595b5b"/>
<rect x="259.16" y="1673.10" width="15.30" height="128.70" fill="#595b5b"/>
<rect x="276.16" y="1747.80" width="15.30" height="54.00" fill="#595b5b"/>
<rect x="293.15" y="1782.10" width="15.30" height="19.70" fill="#595b5b"/>
<rect x="310.15" y="1580.40" width="15.30" height="221.40" fill="#595b5b"/>
<rect x="327.14" y="1633.10" width="15.30" height="168.70" fill="#595b5b"/>
<rect x="344.14" y="1739.80" width="15.30" height="62.00" fill="#595b5b"/>
<rect x="361.13" y="1778.10" width="15.30" height="23.70" fill="#595b5b"/>
<rect x="378.13" y="1739.20" width="15.30" height="62.60" fill="#595b5b"/>
<rect x="395.12" y="1734.90" width="15.30" height="66.90" fill="#595b5b"/>
<rect x="412.12" y="1768.40" width="15.30" height="33.40" fill="#595b5b"/>
<rect x="429.11" y="1761.50" width="15.30" height="40.30" fill="#595b5b"/>
<rect x="446.10" y="1789.00" width="15.30" height="12.80" fill="#595b5b"/>
<line x1="137.20" y1="1471.50" x2="137.20" y2="1819.20" stroke="#000" stroke-width="3.6" stroke-linecap="butt"/>
<line x1="136.20" y1="1817.60" x2="463.40" y2="1817.60" stroke="#000" stroke-width="3.2" stroke-linecap="butt"/>
<line x1="128.10" y1="1801.80" x2="136.90" y2="1801.80" stroke="#333" stroke-width="3.4" stroke-linecap="butt"/>
<text transform="translate(106.99,1810.30) scale(1.0000,1)" font-family="'Liberation Sans', Arial, sans-serif" font-weight="normal" font-style="normal" font-size="24.37" fill="#4d4d4d">0</text>
<line x1="128.10" y1="1728.30" x2="136.90" y2="1728.30" stroke="#333" stroke-width="3.4" stroke-linecap="butt"/>
<text transform="translate(52.76,1736.80) scale(1.0000,1)" font-family="'Liberation Sans', Arial, sans-serif" font-weight="normal" font-style="normal" font-size="24.37" fill="#4d4d4d">10000</text>
<line x1="128.10" y1="1654.50" x2="136.90" y2="1654.50" stroke="#333" stroke-width="3.4" stroke-linecap="butt"/>
<text transform="translate(52.76,1663.00) scale(1.0000,1)" font-family="'Liberation Sans', Arial, sans-serif" font-weight="normal" font-style="normal" font-size="24.37" fill="#4d4d4d">20000</text>
<line x1="128.10" y1="1581.60" x2="136.90" y2="1581.60" stroke="#333" stroke-width="3.4" stroke-linecap="butt"/>
<text transform="translate(52.76,1590.10) scale(1.0000,1)" font-family="'Liberation Sans', Arial, sans-serif" font-weight="normal" font-style="normal" font-size="24.37" fill="#4d4d4d">30000</text>
<line x1="128.10" y1="1508.10" x2="136.90" y2="1508.10" stroke="#333" stroke-width="3.4" stroke-linecap="butt"/>
<text transform="translate(52.76,1516.60) scale(1.0000,1)" font-family="'Liberation Sans', Arial, sans-serif" font-weight="normal" font-style="normal" font-size="24.37" fill="#4d4d4d">40000</text>
<line x1="147.85" y1="1818.60" x2="147.85" y2="1826.90" stroke="#333" stroke-width="3.7" stroke-linecap="butt"/>
<text transform="translate(140.35,1835.01) rotate(90) scale(0.9200,1)" font-family="'Liberation Sans', Arial, sans-serif" font-weight="normal" font-style="normal" font-size="21.51" fill="#4d4d4d">CCG</text>
<line x1="164.84" y1="1818.60" x2="164.84" y2="1826.90" stroke="#333" stroke-width="3.7" stroke-linecap="butt"/>
<text transform="translate(157.34,1835.95) rotate(90) scale(0.9200,1)" font-family="'Liberation Sans', Arial, sans-serif" font-weight="normal" font-style="normal" font-size="21.82" fill="#4d4d4d">AAA</text>
<line x1="181.84" y1="1818.60" x2="181.84" y2="1826.90" stroke="#333" stroke-width="3.7" stroke-linecap="butt"/>
<text transform="translate(174.34,1835.55) rotate(90) scale(0.9200,1)" font-family="'Liberation Sans', Arial, sans-serif" font-weight="normal" font-style="normal" font-size="21.82" fill="#4d4d4d">TTA</text>
<line x1="198.83" y1="1818.60" x2="198.83" y2="1826.90" stroke="#333" stroke-width="3.7" stroke-linecap="butt"/>
<text transform="translate(191.33,1835.01) rotate(90) scale(0.9200,1)" font-family="'Liberation Sans', Arial, sans-serif" font-weight="normal" font-style="normal" font-size="21.51" fill="#4d4d4d">GAC</text>
<line x1="215.83" y1="1818.60" x2="215.83" y2="1826.90" stroke="#333" stroke-width="3.7" stroke-linecap="butt"/>
<text transform="translate(208.33,1835.01) rotate(90) scale(0.9200,1)" font-family="'Liberation Sans', Arial, sans-serif" font-weight="normal" font-style="normal" font-size="21.51" fill="#4d4d4d">CGG</text>
<line x1="232.82" y1="1818.60" x2="232.82" y2="1826.90" stroke="#333" stroke-width="3.7" stroke-linecap="butt"/>
<text transform="translate(225.32,1835.01) rotate(90) scale(0.9200,1)" font-family="'Liberation Sans', Arial, sans-serif" font-weight="normal" font-style="normal" font-size="21.51" fill="#4d4d4d">GTC</text>
<line x1="249.82" y1="1818.60" x2="249.82" y2="1826.90" stroke="#333" stroke-width="3.7" stroke-linecap="butt"/>
<text transform="translate(242.32,1835.95) rotate(90) scale(0.9200,1)" font-family="'Liberation Sans', Arial, sans-serif" font-weight="normal" font-style="normal" font-size="21.51" fill="#4d4d4d">ACT</text>
<line x1="266.81" y1="1818.60" x2="266.81" y2="1826.90" stroke="#333" stroke-width="3.7" stroke-linecap="butt"/>
<text transform="translate(259.31,1835.55) rotate(90) scale(0.9200,1)" font-family="'Liberation Sans', Arial, sans-serif" font-weight="normal" font-style="normal" font-size="21.51" fill="#4d4d4d">TTC</text>
<line x1="283.81" y1="1818.60" x2="283.81" y2="1826.90" stroke="#333" stroke-width="3.7" stroke-linecap="butt"/>
<text transform="translate(276.31,1835.95) rotate(90) scale(0.9200,1)" font-family="'Liberation Sans', Arial, sans-serif" font-weight="normal" font-style="normal" font-size="21.51" fill="#4d4d4d">ACG</text>
<line x1="300.80" y1="1818.60" x2="300.80" y2="1826.90" stroke="#333" stroke-width="3.7" stroke-linecap="butt"/>
<text transform="translate(293.30,1835.95) rotate(90) scale(0.9200,1)" font-family="'Liberation Sans', Arial, sans-serif" font-weight="normal" font-style="normal" font-size="21.51" fill="#4d4d4d">ATG</text>
<line x1="317.79" y1="1818.60" x2="317.79" y2="1826.90" stroke="#333" stroke-width="3.7" stroke-linecap="butt"/>
<text transform="translate(310.29,1835.95) rotate(90) scale(0.9200,1)" font-family="'Liberation Sans', Arial, sans-serif" font-weight="normal" font-style="normal" font-size="21.82" fill="#4d4d4d">AAT</text>
<line x1="334.79" y1="1818.60" x2="334.79" y2="1826.90" stroke="#333" stroke-width="3.7" stroke-linecap="butt"/>
<text transform="translate(327.29,1835.55) rotate(90) scale(0.9200,1)" font-family="'Liberation Sans', Arial, sans-serif" font-weight="normal" font-style="normal" font-size="21.51" fill="#4d4d4d">TTG</text>
<line x1="351.78" y1="1818.60" x2="351.78" y2="1826.90" stroke="#333" stroke-width="3.7" stroke-linecap="butt"/>
<text transform="translate(344.28,1835.55) rotate(90) scale(0.9200,1)" font-family="'Liberation Sans', Arial, sans-serif" font-weight="normal" font-style="normal" font-size="21.82" fill="#4d4d4d">TAA</text>
<line x1="368.78" y1="1818.60" x2="368.78" y2="1826.90" stroke="#333" stroke-width="3.7" stroke-linecap="butt"/>
<text transform="translate(361.28,1835.01) rotate(90) scale(0.9200,1)" font-family="'Liberation Sans', Arial, sans-serif" font-weight="normal" font-style="normal" font-size="21.51" fill="#4d4d4d">CAC</text>
<line x1="385.77" y1="1818.60" x2="385.77" y2="1826.90" stroke="#333" stroke-width="3.7" stroke-linecap="butt"/>
<text transform="translate(378.27,1835.01) rotate(90) scale(0.9200,1)" font-family="'Liberation Sans', Arial, sans-serif" font-weight="normal" font-style="normal" font-size="21.51" fill="#4d4d4d">GGA</text>
<line x1="402.77" y1="1818.60" x2="402.77" y2="1826.90" stroke="#333" stroke-width="3.7" stroke-linecap="butt"/>
<text transform="translate(395.27,1835.01) rotate(90) scale(0.9200,1)" font-family="'Liberation Sans', Arial, sans-serif" font-weight="normal" font-style="normal" font-size="21.51" fill="#4d4d4d">CCA</text>
<line x1="419.76" y1="1818.60" x2="419.76" y2="1826.90" stroke="#333" stroke-width="3.7" stroke-linecap="butt"/>
<text transform="translate(412.26,1835.01) rotate(90) scale(0.9200,1)" font-family="'Liberation Sans', Arial, sans-serif" font-weight="normal" font-style="normal" font-size="21.51" fill="#4d4d4d">GAA</text>
<line x1="436.76" y1="1818.60" x2="436.76" y2="1826.90" stroke="#333" stroke-width="3.7" stroke-linecap="butt"/>
<text transform="translate(429.26,1835.01) rotate(90) scale(0.9200,1)" font-family="'Liberation Sans', Arial, sans-serif" font-weight="normal" font-style="normal" font-size="21.51" fill="#4d4d4d">CAT</text>
<line x1="453.75" y1="1818.60" x2="453.75" y2="1826.90" stroke="#333" stroke-width="3.7" stroke-linecap="butt"/>
<text transform="translate(446.25,1835.55) rotate(90) scale(0.9200,1)" font-family="'Liberation Sans', Arial, sans-serif" font-weight="normal" font-style="normal" font-size="21.51" fill="#4d4d4d">TGA</text>
<text transform="translate(30.30,1778.96) rotate(-90) scale(0.9111,1)" font-family="'Liberation Sans', Arial, sans-serif" font-weight="normal" font-style="normal" font-size="32.00" fill="#000">Corrected read counts</text>
<text transform="translate(228.97,1917.50) scale(0.9642,1)" font-family="'Liberation Sans', Arial, sans-serif" font-weight="normal" font-style="normal" font-size="39.17" fill="#000">Unigram</text>
<rect x="652.40" y="1660.30" width="15.97" height="137.80" fill="#595b5b"/>
<rect x="670.14" y="1778.40" width="15.97" height="19.70" fill="#595b5b"/>
<rect x="687.88" y="1483.80" width="15.97" height="314.30" fill="#595b5b"/>
<rect x="705.62" y="1691.70" width="15.97" height="106.40" fill="#595b5b"/>
<rect x="723.36" y="1736.60" width="15.97" height="61.50" fill="#595b5b"/>
<rect x="741.10" y="1776.40" width="15.97" height="21.70" fill="#595b5b"/>
<rect x="758.84" y="1560.10" width="15.97" height="238.00" fill="#595b5b"/>
<rect x="776.59" y="1690.30" width="15.97" height="107.80" fill="#595b5b"/>
<rect x="794.33" y="1748.10" width="15.97" height="50.00" fill="#595b5b"/>
<rect x="812.07" y="1778.40" width="15.97" height="19.70" fill="#595b5b"/>
<rect x="829.81" y="1573.60" width="15.97" height="224.50" fill="#595b5b"/>
<rect x="847.55" y="1631.60" width="15.97" height="166.50" fill="#595b5b"/>
<rect x="865.29" y="1728.30" width="15.97" height="69.80" fill="#595b5b"/>
<rect x="883.03" y="1776.10" width="15.97" height="22.00" fill="#595b5b"/>
<rect x="900.77" y="1737.50" width="15.97" height="60.60" fill="#595b5b"/>
<rect x="918.51" y="1724.60" width="15.97" height="73.50" fill="#595b5b"/>
<rect x="936.25" y="1765.20" width="15.97" height="32.90" fill="#595b5b"/>
<rect x="953.99" y="1744.90" width="15.97" height="53.20" fill="#595b5b"/>
<rect x="971.73" y="1779.00" width="15.97" height="19.10" fill="#595b5b"/>
<line x1="650.00" y1="1468.60" x2="650.00" y2="1815.50" stroke="#000" stroke-width="3.6" stroke-linecap="butt"/>
<line x1="648.70" y1="1813.90" x2="989.70" y2="1813.90" stroke="#000" stroke-width="3.2" stroke-linecap="butt"/>
<line x1="640.90" y1="1798.10" x2="649.70" y2="1798.10" stroke="#333" stroke-width="3.4" stroke-linecap="butt"/>
<text transform="translate(620.19,1806.60) scale(1.0000,1)" font-family="'Liberation Sans', Arial, sans-serif" font-weight="normal" font-style="normal" font-size="24.37" fill="#4d4d4d">0</text>
<line x1="640.90" y1="1724.00" x2="649.70" y2="1724.00" stroke="#333" stroke-width="3.4" stroke-linecap="butt"/>
<text transform="translate(579.55,1732.50) scale(1.0000,1)" font-family="'Liberation Sans', Arial, sans-serif" font-weight="normal" font-style="normal" font-size="24.37" fill="#4d4d4d">1000</text>
<line x1="640.90" y1="1649.10" x2="649.70" y2="1649.10" stroke="#333" stroke-width="3.4" stroke-linecap="butt"/>
<text transform="translate(579.55,1657.60) scale(1.0000,1)" font-family="'Liberation Sans', Arial, sans-serif" font-weight="normal" font-style="normal" font-size="24.37" fill="#4d4d4d">2000</text>
<line x1="640.90" y1="1574.40" x2="649.70" y2="1574.40" stroke="#333" stroke-width="3.4" stroke-linecap="butt"/>
<text transform="translate(579.55,1582.90) scale(1.0000,1)" font-family="'Liberation Sans', Arial, sans-serif" font-weight="normal" font-style="normal" font-size="24.37" fill="#4d4d4d">3000</text>
<line x1="640.90" y1="1499.50" x2="649.70" y2="1499.50" stroke="#333" stroke-width="3.4" stroke-linecap="butt"/>
<text transform="translate(579.55,1508.00) scale(1.0000,1)" font-family="'Liberation Sans', Arial, sans-serif" font-weight="normal" font-style="normal" font-size="24.37" fill="#4d4d4d">4000</text>
<line x1="660.38" y1="1814.90" x2="660.38" y2="1823.20" stroke="#333" stroke-width="3.7" stroke-linecap="butt"/>
<text transform="translate(652.88,1833.21) rotate(90) scale(0.9200,1)" font-family="'Liberation Sans', Arial, sans-serif" font-weight="normal" font-style="normal" font-size="21.51" fill="#4d4d4d">CCG</text>
<line x1="678.12" y1="1814.90" x2="678.12" y2="1823.20" stroke="#333" stroke-width="3.7" stroke-linecap="butt"/>
<text transform="translate(670.62,1834.15) rotate(90) scale(0.9200,1)" font-family="'Liberation Sans', Arial, sans-serif" font-weight="normal" font-style="normal" font-size="21.82" fill="#4d4d4d">AAA</text>
<line x1="695.86" y1="1814.90" x2="695.86" y2="1823.20" stroke="#333" stroke-width="3.7" stroke-linecap="butt"/>
<text transform="translate(688.36,1833.75) rotate(90) scale(0.9200,1)" font-family="'Liberation Sans', Arial, sans-serif" font-weight="normal" font-style="normal" font-size="21.82" fill="#4d4d4d">TTA</text>
<line x1="713.61" y1="1814.90" x2="713.61" y2="1823.20" stroke="#333" stroke-width="3.7" stroke-linecap="butt"/>
<text transform="translate(706.11,1833.21) rotate(90) scale(0.9200,1)" font-family="'Liberation Sans', Arial, sans-serif" font-weight="normal" font-style="normal" font-size="21.51" fill="#4d4d4d">GAC</text>
<line x1="731.35" y1="1814.90" x2="731.35" y2="1823.20" stroke="#333" stroke-width="3.7" stroke-linecap="butt"/>
<text transform="translate(723.85,1833.21) rotate(90) scale(0.9200,1)" font-family="'Liberation Sans', Arial, sans-serif" font-weight="normal" font-style="normal" font-size="21.51" fill="#4d4d4d">CGG</text>
<line x1="749.09" y1="1814.90" x2="749.09" y2="1823.20" stroke="#333" stroke-width="3.7" stroke-linecap="butt"/>
<text transform="translate(741.59,1833.21) rotate(90) scale(0.9200,1)" font-family="'Liberation Sans', Arial, sans-serif" font-weight="normal" font-style="normal" font-size="21.51" fill="#4d4d4d">GTC</text>
<line x1="766.83" y1="1814.90" x2="766.83" y2="1823.20" stroke="#333" stroke-width="3.7" stroke-linecap="butt"/>
<text transform="translate(759.33,1834.15) rotate(90) scale(0.9200,1)" font-family="'Liberation Sans', Arial, sans-serif" font-weight="normal" font-style="normal" font-size="21.51" fill="#4d4d4d">ACT</text>
<line x1="784.57" y1="1814.90" x2="784.57" y2="1823.20" stroke="#333" stroke-width="3.7" stroke-linecap="butt"/>
<text transform="translate(777.07,1833.75) rotate(90) scale(0.9200,1)" font-family="'Liberation Sans', Arial, sans-serif" font-weight="normal" font-style="normal" font-size="21.51" fill="#4d4d4d">TTC</text>
<line x1="802.31" y1="1814.90" x2="802.31" y2="1823.20" stroke="#333" stroke-width="3.7" stroke-linecap="butt"/>
<text transform="translate(794.81,1834.15) rotate(90) scale(0.9200,1)" font-family="'Liberation Sans', Arial, sans-serif" font-weight="normal" font-style="normal" font-size="21.51" fill="#4d4d4d">ACG</text>
<line x1="820.05" y1="1814.90" x2="820.05" y2="1823.20" stroke="#333" stroke-width="3.7" stroke-linecap="butt"/>
<text transform="translate(812.55,1834.15) rotate(90) scale(0.9200,1)" font-family="'Liberation Sans', Arial, sans-serif" font-weight="normal" font-style="normal" font-size="21.51" fill="#4d4d4d">ATG</text>
<line x1="837.79" y1="1814.90" x2="837.79" y2="1823.20" stroke="#333" stroke-width="3.7" stroke-linecap="butt"/>
<text transform="translate(830.29,1834.15) rotate(90) scale(0.9200,1)" font-family="'Liberation Sans', Arial, sans-serif" font-weight="normal" font-style="normal" font-size="21.82" fill="#4d4d4d">AAT</text>
<line x1="855.53" y1="1814.90" x2="855.53" y2="1823.20" stroke="#333" stroke-width="3.7" stroke-linecap="butt"/>
<text transform="translate(848.03,1833.75) rotate(90) scale(0.9200,1)" font-family="'Liberation Sans', Arial, sans-serif" font-weight="normal" font-style="normal" font-size="21.51" fill="#4d4d4d">TTG</text>
<line x1="873.27" y1="1814.90" x2="873.27" y2="1823.20" stroke="#333" stroke-width="3.7" stroke-linecap="butt"/>
<text transform="translate(865.77,1833.75) rotate(90) scale(0.9200,1)" font-family="'Liberation Sans', Arial, sans-serif" font-weight="normal" font-style="normal" font-size="21.82" fill="#4d4d4d">TAA</text>
<line x1="891.01" y1="1814.90" x2="891.01" y2="1823.20" stroke="#333" stroke-width="3.7" stroke-linecap="butt"/>
<text transform="translate(883.51,1833.21) rotate(90) scale(0.9200,1)" font-family="'Liberation Sans', Arial, sans-serif" font-weight="normal" font-style="normal" font-size="21.51" fill="#4d4d4d">CAC</text>
<line x1="908.75" y1="1814.90" x2="908.75" y2="1823.20" stroke="#333" stroke-width="3.7" stroke-linecap="butt"/>
<text transform="translate(901.25,1833.21) rotate(90) scale(0.9200,1)" font-family="'Liberation Sans', Arial, sans-serif" font-weight="normal" font-style="normal" font-size="21.51" fill="#4d4d4d">GGA</text>
<line x1="926.49" y1="1814.90" x2="926.49" y2="1823.20" stroke="#333" stroke-width="3.7" stroke-linecap="butt"/>
<text transform="translate(918.99,1833.21) rotate(90) scale(0.9200,1)" font-family="'Liberation Sans', Arial, sans-serif" font-weight="normal" font-style="normal" font-size="21.51" fill="#4d4d4d">CCA</text>
<line x1="944.24" y1="1814.90" x2="944.24" y2="1823.20" stroke="#333" stroke-width="3.7" stroke-linecap="butt"/>
<text transform="translate(936.74,1833.21) rotate(90) scale(0.9200,1)" font-family="'Liberation Sans', Arial, sans-serif" font-weight="normal" font-style="normal" font-size="21.51" fill="#4d4d4d">GAA</text>
<line x1="961.98" y1="1814.90" x2="961.98" y2="1823.20" stroke="#333" stroke-width="3.7" stroke-linecap="butt"/>
<text transform="translate(954.48,1833.21) rotate(90) scale(0.9200,1)" font-family="'Liberation Sans', Arial, sans-serif" font-weight="normal" font-style="normal" font-size="21.51" fill="#4d4d4d">CAT</text>
<line x1="979.72" y1="1814.90" x2="979.72" y2="1823.20" stroke="#333" stroke-width="3.7" stroke-linecap="butt"/>
<text transform="translate(972.22,1833.75) rotate(90) scale(0.9200,1)" font-family="'Liberation Sans', Arial, sans-serif" font-weight="normal" font-style="normal" font-size="21.51" fill="#4d4d4d">TGA</text>
<text transform="translate(561.70,1778.96) rotate(-90) scale(0.9111,1)" font-family="'Liberation Sans', Arial, sans-serif" font-weight="normal" font-style="normal" font-size="32.00" fill="#000">Corrected read counts</text>
<text transform="translate(748.16,1914.60) scale(0.9685,1)" font-family="'Liberation Sans', Arial, sans-serif" font-weight="normal" font-style="normal" font-size="39.17" fill="#000">Unigram</text>
<rect x="1177.60" y="1662.50" width="16.56" height="142.80" fill="#595b5b"/>
<rect x="1196.00" y="1788.10" width="16.56" height="17.20" fill="#595b5b"/>
<rect x="1214.40" y="1490.30" width="16.56" height="315.00" fill="#595b5b"/>
<rect x="1232.81" y="1700.90" width="16.56" height="104.40" fill="#595b5b"/>
<rect x="1251.21" y="1744.10" width="16.56" height="61.20" fill="#595b5b"/>
<rect x="1269.61" y="1782.70" width="16.56" height="22.60" fill="#595b5b"/>
<rect x="1288.01" y="1581.30" width="16.56" height="224.00" fill="#595b5b"/>
<rect x="1306.41" y="1710.00" width="16.56" height="95.30" fill="#595b5b"/>
<rect x="1324.82" y="1764.90" width="16.56" height="40.40" fill="#595b5b"/>
<rect x="1343.22" y="1787.00" width="16.56" height="18.30" fill="#595b5b"/>
<rect x="1361.62" y="1557.80" width="16.56" height="247.50" fill="#595b5b"/>
<rect x="1380.02" y="1637.10" width="16.56" height="168.20" fill="#595b5b"/>
<rect x="1398.43" y="1754.90" width="16.56" height="50.40" fill="#595b5b"/>
<rect x="1416.83" y="1786.10" width="16.56" height="19.20" fill="#595b5b"/>
<rect x="1435.23" y="1752.60" width="16.56" height="52.70" fill="#595b5b"/>
<rect x="1453.63" y="1741.50" width="16.56" height="63.80" fill="#595b5b"/>
<rect x="1472.03" y="1762.40" width="16.56" height="42.90" fill="#595b5b"/>
<rect x="1490.44" y="1756.90" width="16.56" height="48.40" fill="#595b5b"/>
<rect x="1508.84" y="1779.50" width="16.56" height="25.80" fill="#595b5b"/>
<line x1="1174.00" y1="1474.90" x2="1174.00" y2="1822.60" stroke="#000" stroke-width="3.6" stroke-linecap="butt"/>
<line x1="1173.00" y1="1821.00" x2="1527.70" y2="1821.00" stroke="#000" stroke-width="3.2" stroke-linecap="butt"/>
<line x1="1164.90" y1="1805.30" x2="1173.70" y2="1805.30" stroke="#333" stroke-width="3.4" stroke-linecap="butt"/>
<text transform="translate(1145.59,1813.80) scale(1.0000,1)" font-family="'Liberation Sans', Arial, sans-serif" font-weight="normal" font-style="normal" font-size="24.37" fill="#4d4d4d">0</text>
<line x1="1164.90" y1="1736.00" x2="1173.70" y2="1736.00" stroke="#333" stroke-width="3.4" stroke-linecap="butt"/>
<text transform="translate(1118.47,1744.50) scale(1.0000,1)" font-family="'Liberation Sans', Arial, sans-serif" font-weight="normal" font-style="normal" font-size="24.37" fill="#4d4d4d">100</text>
<line x1="1164.90" y1="1666.50" x2="1173.70" y2="1666.50" stroke="#333" stroke-width="3.4" stroke-linecap="butt"/>
<text transform="translate(1118.47,1675.00) scale(1.0000,1)" font-family="'Liberation Sans', Arial, sans-serif" font-weight="normal" font-style="normal" font-size="24.37" fill="#4d4d4d">200</text>
<line x1="1164.90" y1="1597.30" x2="1173.70" y2="1597.30" stroke="#333" stroke-width="3.4" stroke-linecap="butt"/>
<text transform="translate(1118.47,1605.80) scale(1.0000,1)" font-family="'Liberation Sans', Arial, sans-serif" font-weight="normal" font-style="normal" font-size="24.37" fill="#4d4d4d">300</text>
<line x1="1164.90" y1="1528.10" x2="1173.70" y2="1528.10" stroke="#333" stroke-width="3.4" stroke-linecap="butt"/>
<text transform="translate(1118.47,1536.60) scale(1.0000,1)" font-family="'Liberation Sans', Arial, sans-serif" font-weight="normal" font-style="normal" font-size="24.37" fill="#4d4d4d">400</text>
<line x1="1185.88" y1="1822.00" x2="1185.88" y2="1830.30" stroke="#333" stroke-width="3.7" stroke-linecap="butt"/>
<text transform="translate(1178.38,1839.01) rotate(90) scale(0.9200,1)" font-family="'Liberation Sans', Arial, sans-serif" font-weight="normal" font-style="normal" font-size="21.51" fill="#4d4d4d">CCG</text>
<line x1="1204.28" y1="1822.00" x2="1204.28" y2="1830.30" stroke="#333" stroke-width="3.7" stroke-linecap="butt"/>
<text transform="translate(1196.78,1839.95) rotate(90) scale(0.9200,1)" font-family="'Liberation Sans', Arial, sans-serif" font-weight="normal" font-style="normal" font-size="21.82" fill="#4d4d4d">AAA</text>
<line x1="1222.69" y1="1822.00" x2="1222.69" y2="1830.30" stroke="#333" stroke-width="3.7" stroke-linecap="butt"/>
<text transform="translate(1215.19,1839.55) rotate(90) scale(0.9200,1)" font-family="'Liberation Sans', Arial, sans-serif" font-weight="normal" font-style="normal" font-size="21.82" fill="#4d4d4d">TTA</text>
<line x1="1241.09" y1="1822.00" x2="1241.09" y2="1830.30" stroke="#333" stroke-width="3.7" stroke-linecap="butt"/>
<text transform="translate(1233.59,1839.01) rotate(90) scale(0.9200,1)" font-family="'Liberation Sans', Arial, sans-serif" font-weight="normal" font-style="normal" font-size="21.51" fill="#4d4d4d">GAC</text>
<line x1="1259.49" y1="1822.00" x2="1259.49" y2="1830.30" stroke="#333" stroke-width="3.7" stroke-linecap="butt"/>
<text transform="translate(1251.99,1839.01) rotate(90) scale(0.9200,1)" font-family="'Liberation Sans', Arial, sans-serif" font-weight="normal" font-style="normal" font-size="21.51" fill="#4d4d4d">CGG</text>
<line x1="1277.89" y1="1822.00" x2="1277.89" y2="1830.30" stroke="#333" stroke-width="3.7" stroke-linecap="butt"/>
<text transform="translate(1270.39,1839.01) rotate(90) scale(0.9200,1)" font-family="'Liberation Sans', Arial, sans-serif" font-weight="normal" font-style="normal" font-size="21.51" fill="#4d4d4d">GTC</text>
<line x1="1296.29" y1="1822.00" x2="1296.29" y2="1830.30" stroke="#333" stroke-width="3.7" stroke-linecap="butt"/>
<text transform="translate(1288.79,1839.95) rotate(90) scale(0.9200,1)" font-family="'Liberation Sans', Arial, sans-serif" font-weight="normal" font-style="normal" font-size="21.51" fill="#4d4d4d">ACT</text>
<line x1="1314.70" y1="1822.00" x2="1314.70" y2="1830.30" stroke="#333" stroke-width="3.7" stroke-linecap="butt"/>
<text transform="translate(1307.20,1839.55) rotate(90) scale(0.9200,1)" font-family="'Liberation Sans', Arial, sans-serif" font-weight="normal" font-style="normal" font-size="21.51" fill="#4d4d4d">TTC</text>
<line x1="1333.10" y1="1822.00" x2="1333.10" y2="1830.30" stroke="#333" stroke-width="3.7" stroke-linecap="butt"/>
<text transform="translate(1325.60,1839.95) rotate(90) scale(0.9200,1)" font-family="'Liberation Sans', Arial, sans-serif" font-weight="normal" font-style="normal" font-size="21.51" fill="#4d4d4d">ACG</text>
<line x1="1351.50" y1="1822.00" x2="1351.50" y2="1830.30" stroke="#333" stroke-width="3.7" stroke-linecap="butt"/>
<text transform="translate(1344.00,1839.95) rotate(90) scale(0.9200,1)" font-family="'Liberation Sans', Arial, sans-serif" font-weight="normal" font-style="normal" font-size="21.51" fill="#4d4d4d">ATG</text>
<line x1="1369.90" y1="1822.00" x2="1369.90" y2="1830.30" stroke="#333" stroke-width="3.7" stroke-linecap="butt"/>
<text transform="translate(1362.40,1839.95) rotate(90) scale(0.9200,1)" font-family="'Liberation Sans', Arial, sans-serif" font-weight="normal" font-style="normal" font-size="21.82" fill="#4d4d4d">AAT</text>
<line x1="1388.30" y1="1822.00" x2="1388.30" y2="1830.30" stroke="#333" stroke-width="3.7" stroke-linecap="butt"/>
<text transform="translate(1380.80,1839.55) rotate(90) scale(0.9200,1)" font-family="'Liberation Sans', Arial, sans-serif" font-weight="normal" font-style="normal" font-size="21.51" fill="#4d4d4d">TTG</text>
<line x1="1406.71" y1="1822.00" x2="1406.71" y2="1830.30" stroke="#333" stroke-width="3.7" stroke-linecap="butt"/>
<text transform="translate(1399.21,1839.55) rotate(90) scale(0.9200,1)" font-family="'Liberation Sans', Arial, sans-serif" font-weight="normal" font-style="normal" font-size="21.82" fill="#4d4d4d">TAA</text>
<line x1="1425.11" y1="1822.00" x2="1425.11" y2="1830.30" stroke="#333" stroke-width="3.7" stroke-linecap="butt"/>
<text transform="translate(1417.61,1839.01) rotate(90) scale(0.9200,1)" font-family="'Liberation Sans', Arial, sans-serif" font-weight="normal" font-style="normal" font-size="21.51" fill="#4d4d4d">CAC</text>
<line x1="1443.51" y1="1822.00" x2="1443.51" y2="1830.30" stroke="#333" stroke-width="3.7" stroke-linecap="butt"/>
<text transform="translate(1436.01,1839.01) rotate(90) scale(0.9200,1)" font-family="'Liberation Sans', Arial, sans-serif" font-weight="normal" font-style="normal" font-size="21.51" fill="#4d4d4d">GGA</text>
<line x1="1461.91" y1="1822.00" x2="1461.91" y2="1830.30" stroke="#333" stroke-width="3.7" stroke-linecap="butt"/>
<text transform="translate(1454.41,1839.01) rotate(90) scale(0.9200,1)" font-family="'Liberation Sans', Arial, sans-serif" font-weight="normal" font-style="normal" font-size="21.51" fill="#4d4d4d">CCA</text>
<line x1="1480.31" y1="1822.00" x2="1480.31" y2="1830.30" stroke="#333" stroke-width="3.7" stroke-linecap="butt"/>
<text transform="translate(1472.81,1839.01) rotate(90) scale(0.9200,1)" font-family="'Liberation Sans', Arial, sans-serif" font-weight="normal" font-style="normal" font-size="21.51" fill="#4d4d4d">GAA</text>
<line x1="1498.72" y1="1822.00" x2="1498.72" y2="1830.30" stroke="#333" stroke-width="3.7" stroke-linecap="butt"/>
<text transform="translate(1491.22,1839.01) rotate(90) scale(0.9200,1)" font-family="'Liberation Sans', Arial, sans-serif" font-weight="normal" font-style="normal" font-size="21.51" fill="#4d4d4d">CAT</text>
<line x1="1517.12" y1="1822.00" x2="1517.12" y2="1830.30" stroke="#333" stroke-width="3.7" stroke-linecap="butt"/>
<text transform="translate(1509.62,1839.55) rotate(90) scale(0.9200,1)" font-family="'Liberation Sans', Arial, sans-serif" font-weight="normal" font-style="normal" font-size="21.51" fill="#4d4d4d">TGA</text>
<text transform="translate(1087.40,1778.96) rotate(-90) scale(0.9111,1)" font-family="'Liberation Sans', Arial, sans-serif" font-weight="normal" font-style="normal" font-size="32.00" fill="#000">Corrected read counts</text>
<text transform="translate(1279.36,1921.70) scale(0.9699,1)" font-family="'Liberation Sans', Arial, sans-serif" font-weight="normal" font-style="normal" font-size="39.17" fill="#000">Unigram</text>
<rect x="1703.60" y="1653.70" width="16.56" height="143.90" fill="#595b5b"/>
<rect x="1722.00" y="1779.80" width="16.56" height="17.80" fill="#595b5b"/>
<rect x="1740.40" y="1482.90" width="16.56" height="314.70" fill="#595b5b"/>
<rect x="1758.81" y="1680.30" width="16.56" height="117.30" fill="#595b5b"/>
<rect x="1777.21" y="1736.90" width="16.56" height="60.70" fill="#595b5b"/>
<rect x="1795.61" y="1764.70" width="16.56" height="32.90" fill="#595b5b"/>
<rect x="1814.01" y="1540.70" width="16.56" height="256.90" fill="#595b5b"/>
<rect x="1832.41" y="1686.00" width="16.56" height="111.60" fill="#595b5b"/>
<rect x="1850.82" y="1752.40" width="16.56" height="45.20" fill="#595b5b"/>
<rect x="1869.22" y="1778.10" width="16.56" height="19.50" fill="#595b5b"/>
<rect x="1887.62" y="1498.40" width="16.56" height="299.20" fill="#595b5b"/>
<rect x="1906.02" y="1587.90" width="16.56" height="209.70" fill="#595b5b"/>
<rect x="1924.43" y="1752.90" width="16.56" height="44.70" fill="#595b5b"/>
<rect x="1942.83" y="1770.70" width="16.56" height="26.90" fill="#595b5b"/>
<rect x="1961.23" y="1736.60" width="16.56" height="61.00" fill="#595b5b"/>
<rect x="1979.63" y="1734.90" width="16.56" height="62.70" fill="#595b5b"/>
<rect x="1998.03" y="1757.80" width="16.56" height="39.80" fill="#595b5b"/>
<rect x="2016.44" y="1745.80" width="16.56" height="51.80" fill="#595b5b"/>
<rect x="2034.84" y="1762.90" width="16.56" height="34.70" fill="#595b5b"/>
<line x1="1700.90" y1="1467.20" x2="1700.90" y2="1814.90" stroke="#000" stroke-width="3.6" stroke-linecap="butt"/>
<line x1="1699.60" y1="1813.30" x2="2053.40" y2="1813.30" stroke="#000" stroke-width="3.2" stroke-linecap="butt"/>
<line x1="1691.80" y1="1797.60" x2="1700.60" y2="1797.60" stroke="#333" stroke-width="3.4" stroke-linecap="butt"/>
<text transform="translate(1671.59,1806.10) scale(1.0000,1)" font-family="'Liberation Sans', Arial, sans-serif" font-weight="normal" font-style="normal" font-size="24.37" fill="#4d4d4d">0</text>
<line x1="1691.80" y1="1723.20" x2="1700.60" y2="1723.20" stroke="#333" stroke-width="3.4" stroke-linecap="butt"/>
<text transform="translate(1658.06,1731.70) scale(1.0000,1)" font-family="'Liberation Sans', Arial, sans-serif" font-weight="normal" font-style="normal" font-size="24.37" fill="#4d4d4d">50</text>
<line x1="1691.80" y1="1648.00" x2="1700.60" y2="1648.00" stroke="#333" stroke-width="3.4" stroke-linecap="butt"/>
<text transform="translate(1644.47,1656.50) scale(1.0000,1)" font-family="'Liberation Sans', Arial, sans-serif" font-weight="normal" font-style="normal" font-size="24.37" fill="#4d4d4d">100</text>
<line x1="1691.80" y1="1573.30" x2="1700.60" y2="1573.30" stroke="#333" stroke-width="3.4" stroke-linecap="butt"/>
<text transform="translate(1644.47,1581.80) scale(1.0000,1)" font-family="'Liberation Sans', Arial, sans-serif" font-weight="normal" font-style="normal" font-size="24.37" fill="#4d4d4d">150</text>
<line x1="1691.80" y1="1498.60" x2="1700.60" y2="1498.60" stroke="#333" stroke-width="3.4" stroke-linecap="butt"/>
<text transform="translate(1644.47,1507.10) scale(1.0000,1)" font-family="'Liberation Sans', Arial, sans-serif" font-weight="normal" font-style="normal" font-size="24.37" fill="#4d4d4d">200</text>
<line x1="1711.88" y1="1814.30" x2="1711.88" y2="1822.60" stroke="#333" stroke-width="3.7" stroke-linecap="butt"/>
<text transform="translate(1704.38,1833.21) rotate(90) scale(0.9200,1)" font-family="'Liberation Sans', Arial, sans-serif" font-weight="normal" font-style="normal" font-size="21.51" fill="#4d4d4d">CCG</text>
<line x1="1730.28" y1="1814.30" x2="1730.28" y2="1822.60" stroke="#333" stroke-width="3.7" stroke-linecap="butt"/>
<text transform="translate(1722.78,1834.15) rotate(90) scale(0.9200,1)" font-family="'Liberation Sans', Arial, sans-serif" font-weight="normal" font-style="normal" font-size="21.82" fill="#4d4d4d">AAA</text>
<line x1="1748.69" y1="1814.30" x2="1748.69" y2="1822.60" stroke="#333" stroke-width="3.7" stroke-linecap="butt"/>
<text transform="translate(1741.19,1833.75) rotate(90) scale(0.9200,1)" font-family="'Liberation Sans', Arial, sans-serif" font-weight="normal" font-style="normal" font-size="21.82" fill="#4d4d4d">TTA</text>
<line x1="1767.09" y1="1814.30" x2="1767.09" y2="1822.60" stroke="#333" stroke-width="3.7" stroke-linecap="butt"/>
<text transform="translate(1759.59,1833.21) rotate(90) scale(0.9200,1)" font-family="'Liberation Sans', Arial, sans-serif" font-weight="normal" font-style="normal" font-size="21.51" fill="#4d4d4d">GAC</text>
<line x1="1785.49" y1="1814.30" x2="1785.49" y2="1822.60" stroke="#333" stroke-width="3.7" stroke-linecap="butt"/>
<text transform="translate(1777.99,1833.21) rotate(90) scale(0.9200,1)" font-family="'Liberation Sans', Arial, sans-serif" font-weight="normal" font-style="normal" font-size="21.51" fill="#4d4d4d">CGG</text>
<line x1="1803.89" y1="1814.30" x2="1803.89" y2="1822.60" stroke="#333" stroke-width="3.7" stroke-linecap="butt"/>
<text transform="translate(1796.39,1833.21) rotate(90) scale(0.9200,1)" font-family="'Liberation Sans', Arial, sans-serif" font-weight="normal" font-style="normal" font-size="21.51" fill="#4d4d4d">GTC</text>
<line x1="1822.29" y1="1814.30" x2="1822.29" y2="1822.60" stroke="#333" stroke-width="3.7" stroke-linecap="butt"/>
<text transform="translate(1814.79,1834.15) rotate(90) scale(0.9200,1)" font-family="'Liberation Sans', Arial, sans-serif" font-weight="normal" font-style="normal" font-size="21.51" fill="#4d4d4d">ACT</text>
<line x1="1840.70" y1="1814.30" x2="1840.70" y2="1822.60" stroke="#333" stroke-width="3.7" stroke-linecap="butt"/>
<text transform="translate(1833.20,1833.75) rotate(90) scale(0.9200,1)" font-family="'Liberation Sans', Arial, sans-serif" font-weight="normal" font-style="normal" font-size="21.51" fill="#4d4d4d">TTC</text>
<line x1="1859.10" y1="1814.30" x2="1859.10" y2="1822.60" stroke="#333" stroke-width="3.7" stroke-linecap="butt"/>
<text transform="translate(1851.60,1834.15) rotate(90) scale(0.9200,1)" font-family="'Liberation Sans', Arial, sans-serif" font-weight="normal" font-style="normal" font-size="21.51" fill="#4d4d4d">ACG</text>
<line x1="1877.50" y1="1814.30" x2="1877.50" y2="1822.60" stroke="#333" stroke-width="3.7" stroke-linecap="butt"/>
<text transform="translate(1870.00,1834.15) rotate(90) scale(0.9200,1)" font-family="'Liberation Sans', Arial, sans-serif" font-weight="normal" font-style="normal" font-size="21.51" fill="#4d4d4d">ATG</text>
<line x1="1895.90" y1="1814.30" x2="1895.90" y2="1822.60" stroke="#333" stroke-width="3.7" stroke-linecap="butt"/>
<text transform="translate(1888.40,1834.15) rotate(90) scale(0.9200,1)" font-family="'Liberation Sans', Arial, sans-serif" font-weight="normal" font-style="normal" font-size="21.82" fill="#4d4d4d">AAT</text>
<line x1="1914.30" y1="1814.30" x2="1914.30" y2="1822.60" stroke="#333" stroke-width="3.7" stroke-linecap="butt"/>
<text transform="translate(1906.80,1833.75) rotate(90) scale(0.9200,1)" font-family="'Liberation Sans', Arial, sans-serif" font-weight="normal" font-style="normal" font-size="21.51" fill="#4d4d4d">TTG</text>
<line x1="1932.71" y1="1814.30" x2="1932.71" y2="1822.60" stroke="#333" stroke-width="3.7" stroke-linecap="butt"/>
<text transform="translate(1925.21,1833.75) rotate(90) scale(0.9200,1)" font-family="'Liberation Sans', Arial, sans-serif" font-weight="normal" font-style="normal" font-size="21.82" fill="#4d4d4d">TAA</text>
<line x1="1951.11" y1="1814.30" x2="1951.11" y2="1822.60" stroke="#333" stroke-width="3.7" stroke-linecap="butt"/>
<text transform="translate(1943.61,1833.21) rotate(90) scale(0.9200,1)" font-family="'Liberation Sans', Arial, sans-serif" font-weight="normal" font-style="normal" font-size="21.51" fill="#4d4d4d">CAC</text>
<line x1="1969.51" y1="1814.30" x2="1969.51" y2="1822.60" stroke="#333" stroke-width="3.7" stroke-linecap="butt"/>
<text transform="translate(1962.01,1833.21) rotate(90) scale(0.9200,1)" font-family="'Liberation Sans', Arial, sans-serif" font-weight="normal" font-style="normal" font-size="21.51" fill="#4d4d4d">GGA</text>
<line x1="1987.91" y1="1814.30" x2="1987.91" y2="1822.60" stroke="#333" stroke-width="3.7" stroke-linecap="butt"/>
<text transform="translate(1980.41,1833.21) rotate(90) scale(0.9200,1)" font-family="'Liberation Sans', Arial, sans-serif" font-weight="normal" font-style="normal" font-size="21.51" fill="#4d4d4d">CCA</text>
<line x1="2006.31" y1="1814.30" x2="2006.31" y2="1822.60" stroke="#333" stroke-width="3.7" stroke-linecap="butt"/>
<text transform="translate(1998.81,1833.21) rotate(90) scale(0.9200,1)" font-family="'Liberation Sans', Arial, sans-serif" font-weight="normal" font-style="normal" font-size="21.51" fill="#4d4d4d">GAA</text>
<line x1="2024.72" y1="1814.30" x2="2024.72" y2="1822.60" stroke="#333" stroke-width="3.7" stroke-linecap="butt"/>
<text transform="translate(2017.22,1833.21) rotate(90) scale(0.9200,1)" font-family="'Liberation Sans', Arial, sans-serif" font-weight="normal" font-style="normal" font-size="21.51" fill="#4d4d4d">CAT</text>
<line x1="2043.12" y1="1814.30" x2="2043.12" y2="1822.60" stroke="#333" stroke-width="3.7" stroke-linecap="butt"/>
<text transform="translate(2035.62,1833.75) rotate(90) scale(0.9200,1)" font-family="'Liberation Sans', Arial, sans-serif" font-weight="normal" font-style="normal" font-size="21.51" fill="#4d4d4d">TGA</text>
<text transform="translate(1613.10,1778.96) rotate(-90) scale(0.9111,1)" font-family="'Liberation Sans', Arial, sans-serif" font-weight="normal" font-style="normal" font-size="32.00" fill="#000">Corrected read counts</text>
<text transform="translate(1805.87,1913.20) scale(0.9642,1)" font-family="'Liberation Sans', Arial, sans-serif" font-weight="normal" font-style="normal" font-size="39.17" fill="#000">Unigram</text>
<line x1="79.50" y1="2018.60" x2="79.50" y2="2346.10" stroke="#4a4a4a" stroke-width="1.3" stroke-linecap="butt"/>
<line x1="72.50" y1="2346.10" x2="79.50" y2="2346.10" stroke="#4a4a4a" stroke-width="1.3" stroke-linecap="butt"/>
<text transform="translate(64.40,2353.53) rotate(-90) scale(1.0000,1)" font-family="'Liberation Sans', Arial, sans-serif" font-weight="normal" font-style="normal" font-size="26.67" fill="#000">0</text>
<line x1="72.50" y1="2273.18" x2="79.50" y2="2273.18" stroke="#4a4a4a" stroke-width="1.3" stroke-linecap="butt"/>
<text transform="translate(64.40,2280.58) rotate(-90) scale(1.0000,1)" font-family="'Liberation Sans', Arial, sans-serif" font-weight="normal" font-style="normal" font-size="26.67" fill="#000">2</text>
<line x1="72.50" y1="2200.25" x2="79.50" y2="2200.25" stroke="#4a4a4a" stroke-width="1.3" stroke-linecap="butt"/>
<text transform="translate(64.40,2207.69) rotate(-90) scale(1.0000,1)" font-family="'Liberation Sans', Arial, sans-serif" font-weight="normal" font-style="normal" font-size="27.05" fill="#000">4</text>
<line x1="72.50" y1="2127.32" x2="79.50" y2="2127.32" stroke="#4a4a4a" stroke-width="1.3" stroke-linecap="butt"/>
<text transform="translate(64.40,2134.82) rotate(-90) scale(1.0000,1)" font-family="'Liberation Sans', Arial, sans-serif" font-weight="normal" font-style="normal" font-size="26.67" fill="#000">6</text>
<line x1="72.50" y1="2054.40" x2="79.50" y2="2054.40" stroke="#4a4a4a" stroke-width="1.3" stroke-linecap="butt"/>
<text transform="translate(64.40,2061.80) rotate(-90) scale(1.0000,1)" font-family="'Liberation Sans', Arial, sans-serif" font-weight="normal" font-style="normal" font-size="26.67" fill="#000">8</text>
<text transform="translate(30.10,2237.72) rotate(-90) scale(1.0474,1)" font-family="'Liberation Sans', Arial, sans-serif" font-weight="normal" font-style="normal" font-size="24.55" fill="#000">Height</text>
<path d="M94.40,2223.40V2250.90M115.10,2223.40V2250.90M94.40,2223.40H115.10M156.50,2288.90V2316.40M177.20,2288.90V2316.40M156.50,2288.90H177.20M135.80,2284.60V2312.10M166.85,2284.60V2288.90M135.80,2284.60H166.85M239.30,2311.80V2339.30M260.00,2311.80V2339.30M239.30,2311.80H260.00M218.60,2253.20V2280.70M249.65,2253.20V2311.80M218.60,2253.20H249.65M197.90,2214.50V2242.00M234.12,2214.50V2253.20M197.90,2214.50H234.12M151.32,2115.30V2284.60M216.01,2115.30V2214.50M151.32,2115.30H216.01M104.75,2079.50V2223.40M183.67,2079.50V2115.30M104.75,2079.50H183.67M322.10,2288.30V2315.80M342.80,2288.30V2315.80M322.10,2288.30H342.80M301.40,2248.90V2276.40M332.45,2248.90V2288.30M301.40,2248.90H332.45M280.70,2194.80V2222.30M316.92,2194.80V2248.90M280.70,2194.80H316.92M384.20,2266.00V2293.50M404.90,2266.00V2293.50M384.20,2266.00H404.90M363.50,2187.40V2214.90M394.55,2187.40V2266.00M363.50,2187.40H394.55M446.30,2239.40V2266.90M467.00,2239.40V2266.90M446.30,2239.40H467.00M425.60,2184.50V2212.00M456.65,2184.50V2239.40M425.60,2184.50H456.65M379.02,2083.00V2187.40M441.12,2083.00V2184.50M379.02,2083.00H441.12M298.81,2070.10V2194.80M410.07,2070.10V2083.00M298.81,2070.10H410.07M144.21,2033.50V2079.50M354.44,2033.50V2070.10M144.21,2033.50H354.44" fill="none" stroke="#4a4a4a" stroke-width="1.3" stroke-linecap="square"/>
<text transform="translate(97.20,2281.46) rotate(-90) scale(0.9019,1)" font-family="'Liberation Sans', Arial, sans-serif" font-weight="normal" font-style="normal" font-size="12.33" fill="#000" stroke="#000" stroke-width="0.35">CAT</text>
<text transform="translate(117.90,2283.12) rotate(-90) scale(0.9019,1)" font-family="'Liberation Sans', Arial, sans-serif" font-weight="normal" font-style="normal" font-size="12.33" fill="#000" stroke="#000" stroke-width="0.35">TGA</text>
<text transform="translate(159.30,2349.26) rotate(-90) scale(0.9019,1)" font-family="'Liberation Sans', Arial, sans-serif" font-weight="normal" font-style="normal" font-size="12.33" fill="#000" stroke="#000" stroke-width="0.35">CCA</text>
<text transform="translate(180.00,2350.49) rotate(-90) scale(0.9019,1)" font-family="'Liberation Sans', Arial, sans-serif" font-weight="normal" font-style="normal" font-size="12.33" fill="#000" stroke="#000" stroke-width="0.35">GGA</text>
<text transform="translate(138.60,2344.96) rotate(-90) scale(0.9019,1)" font-family="'Liberation Sans', Arial, sans-serif" font-weight="normal" font-style="normal" font-size="12.33" fill="#000" stroke="#000" stroke-width="0.35">GAA</text>
<text transform="translate(242.10,2369.24) rotate(-90) scale(0.8890,1)" font-family="'Liberation Sans', Arial, sans-serif" font-weight="normal" font-style="normal" font-size="12.51" fill="#000" stroke="#000" stroke-width="0.35">AAT</text>
<text transform="translate(262.80,2370.11) rotate(-90) scale(0.9019,1)" font-family="'Liberation Sans', Arial, sans-serif" font-weight="normal" font-style="normal" font-size="12.33" fill="#000" stroke="#000" stroke-width="0.35">TTG</text>
<text transform="translate(221.40,2313.17) rotate(-90) scale(0.9019,1)" font-family="'Liberation Sans', Arial, sans-serif" font-weight="normal" font-style="normal" font-size="12.33" fill="#000" stroke="#000" stroke-width="0.35">CAC</text>
<text transform="translate(200.70,2272.17) rotate(-90) scale(0.8890,1)" font-family="'Liberation Sans', Arial, sans-serif" font-weight="normal" font-style="normal" font-size="12.51" fill="#000" stroke="#000" stroke-width="0.35">TAA</text>
<text transform="translate(324.90,2349.69) rotate(-90) scale(0.9019,1)" font-family="'Liberation Sans', Arial, sans-serif" font-weight="normal" font-style="normal" font-size="12.33" fill="#000" stroke="#000" stroke-width="0.35">CGG</text>
<text transform="translate(345.60,2348.89) rotate(-90) scale(0.9019,1)" font-family="'Liberation Sans', Arial, sans-serif" font-weight="normal" font-style="normal" font-size="12.33" fill="#000" stroke="#000" stroke-width="0.35">GAC</text>
<text transform="translate(304.20,2305.96) rotate(-90) scale(0.8890,1)" font-family="'Liberation Sans', Arial, sans-serif" font-weight="normal" font-style="normal" font-size="12.51" fill="#000" stroke="#000" stroke-width="0.35">TTA</text>
<text transform="translate(283.50,2254.75) rotate(-90) scale(0.9019,1)" font-family="'Liberation Sans', Arial, sans-serif" font-weight="normal" font-style="normal" font-size="12.33" fill="#000" stroke="#000" stroke-width="0.35">GTC</text>
<text transform="translate(387.00,2326.17) rotate(-90) scale(0.9019,1)" font-family="'Liberation Sans', Arial, sans-serif" font-weight="normal" font-style="normal" font-size="12.33" fill="#000" stroke="#000" stroke-width="0.35">ACG</text>
<text transform="translate(407.70,2324.11) rotate(-90) scale(0.9019,1)" font-family="'Liberation Sans', Arial, sans-serif" font-weight="normal" font-style="normal" font-size="12.33" fill="#000" stroke="#000" stroke-width="0.35">TTC</text>
<text transform="translate(366.30,2245.48) rotate(-90) scale(0.9019,1)" font-family="'Liberation Sans', Arial, sans-serif" font-weight="normal" font-style="normal" font-size="12.33" fill="#000" stroke="#000" stroke-width="0.35">ATG</text>
<text transform="translate(449.10,2298.29) rotate(-90) scale(0.9019,1)" font-family="'Liberation Sans', Arial, sans-serif" font-weight="normal" font-style="normal" font-size="12.33" fill="#000" stroke="#000" stroke-width="0.35">ACT</text>
<text transform="translate(469.80,2300.18) rotate(-90) scale(0.9019,1)" font-family="'Liberation Sans', Arial, sans-serif" font-weight="normal" font-style="normal" font-size="12.33" fill="#000" stroke="#000" stroke-width="0.35">CCG</text>
<text transform="translate(428.40,2243.64) rotate(-90) scale(0.8890,1)" font-family="'Liberation Sans', Arial, sans-serif" font-weight="normal" font-style="normal" font-size="12.51" fill="#000" stroke="#000" stroke-width="0.35">AAA</text>
<line x1="588.70" y1="2031.50" x2="588.70" y2="2333.20" stroke="#4a4a4a" stroke-width="1.3" stroke-linecap="butt"/>
<line x1="581.70" y1="2333.20" x2="588.70" y2="2333.20" stroke="#4a4a4a" stroke-width="1.3" stroke-linecap="butt"/>
<text transform="translate(572.90,2340.63) rotate(-90) scale(1.0000,1)" font-family="'Liberation Sans', Arial, sans-serif" font-weight="normal" font-style="normal" font-size="26.67" fill="#000">0</text>
<line x1="581.70" y1="2257.77" x2="588.70" y2="2257.77" stroke="#4a4a4a" stroke-width="1.3" stroke-linecap="butt"/>
<text transform="translate(572.90,2265.17) rotate(-90) scale(1.0000,1)" font-family="'Liberation Sans', Arial, sans-serif" font-weight="normal" font-style="normal" font-size="26.67" fill="#000">2</text>
<line x1="581.70" y1="2182.35" x2="588.70" y2="2182.35" stroke="#4a4a4a" stroke-width="1.3" stroke-linecap="butt"/>
<text transform="translate(572.90,2189.79) rotate(-90) scale(1.0000,1)" font-family="'Liberation Sans', Arial, sans-serif" font-weight="normal" font-style="normal" font-size="27.05" fill="#000">4</text>
<line x1="581.70" y1="2106.93" x2="588.70" y2="2106.93" stroke="#4a4a4a" stroke-width="1.3" stroke-linecap="butt"/>
<text transform="translate(572.90,2114.43) rotate(-90) scale(1.0000,1)" font-family="'Liberation Sans', Arial, sans-serif" font-weight="normal" font-style="normal" font-size="26.67" fill="#000">6</text>
<line x1="581.70" y1="2031.50" x2="588.70" y2="2031.50" stroke="#4a4a4a" stroke-width="1.3" stroke-linecap="butt"/>
<text transform="translate(572.90,2038.90) rotate(-90) scale(1.0000,1)" font-family="'Liberation Sans', Arial, sans-serif" font-weight="normal" font-style="normal" font-size="26.67" fill="#000">8</text>
<text transform="translate(540.70,2219.72) rotate(-90) scale(1.0474,1)" font-family="'Liberation Sans', Arial, sans-serif" font-weight="normal" font-style="normal" font-size="24.55" fill="#000">Height</text>
<path d="M624.21,2308.90V2336.40M644.92,2308.90V2336.40M624.21,2308.90H644.92M603.50,2291.80V2319.30M634.57,2291.80V2308.90M603.50,2291.80H634.57M665.63,2200.20V2227.70M686.34,2200.20V2227.70M665.63,2200.20H686.34M619.03,2055.20V2291.80M675.99,2055.20V2200.20M619.03,2055.20H675.99M707.05,2244.00V2271.50M727.76,2244.00V2271.50M707.05,2244.00H727.76M789.89,2275.50V2303.00M810.60,2275.50V2303.00M789.89,2275.50H810.60M769.18,2264.00V2291.50M800.25,2264.00V2275.50M769.18,2264.00H800.25M748.47,2226.30V2253.80M784.71,2226.30V2264.00M748.47,2226.30H784.71M717.40,2108.70V2244.00M766.59,2108.70V2226.30M717.40,2108.70H766.59M872.73,2296.10V2323.60M893.44,2296.10V2323.60M872.73,2296.10H893.44M852.02,2276.00V2303.50M883.09,2276.00V2296.10M852.02,2276.00H883.09M831.31,2262.30V2289.80M867.55,2262.30V2276.00M831.31,2262.30H867.55M955.57,2291.20V2318.70M976.28,2291.20V2318.70M955.57,2291.20H976.28M934.86,2259.70V2287.20M965.92,2259.70V2291.20M934.86,2259.70H965.92M914.15,2206.20V2233.70M950.39,2206.20V2259.70M914.15,2206.20H950.39M849.43,2103.30V2262.30M932.27,2103.30V2206.20M849.43,2103.30H932.27M742.00,2046.40V2108.70M890.85,2046.40V2103.30M742.00,2046.40H890.85M647.51,2032.90V2055.20M816.42,2032.90V2046.40M647.51,2032.90H816.42" fill="none" stroke="#4a4a4a" stroke-width="1.3" stroke-linecap="square"/>
<text transform="translate(627.01,2369.26) rotate(-90) scale(0.9019,1)" font-family="'Liberation Sans', Arial, sans-serif" font-weight="normal" font-style="normal" font-size="12.33" fill="#000" stroke="#000" stroke-width="0.35">GAA</text>
<text transform="translate(647.72,2370.49) rotate(-90) scale(0.9019,1)" font-family="'Liberation Sans', Arial, sans-serif" font-weight="normal" font-style="normal" font-size="12.33" fill="#000" stroke="#000" stroke-width="0.35">GGA</text>
<text transform="translate(606.30,2352.16) rotate(-90) scale(0.9019,1)" font-family="'Liberation Sans', Arial, sans-serif" font-weight="normal" font-style="normal" font-size="12.33" fill="#000" stroke="#000" stroke-width="0.35">CCA</text>
<text transform="translate(668.43,2258.26) rotate(-90) scale(0.9019,1)" font-family="'Liberation Sans', Arial, sans-serif" font-weight="normal" font-style="normal" font-size="12.33" fill="#000" stroke="#000" stroke-width="0.35">CAT</text>
<text transform="translate(689.14,2259.92) rotate(-90) scale(0.9019,1)" font-family="'Liberation Sans', Arial, sans-serif" font-weight="normal" font-style="normal" font-size="12.33" fill="#000" stroke="#000" stroke-width="0.35">TGA</text>
<text transform="translate(709.85,2303.14) rotate(-90) scale(0.8890,1)" font-family="'Liberation Sans', Arial, sans-serif" font-weight="normal" font-style="normal" font-size="12.51" fill="#000" stroke="#000" stroke-width="0.35">AAA</text>
<text transform="translate(730.56,2304.78) rotate(-90) scale(0.9019,1)" font-family="'Liberation Sans', Arial, sans-serif" font-weight="normal" font-style="normal" font-size="12.33" fill="#000" stroke="#000" stroke-width="0.35">CCG</text>
<text transform="translate(792.69,2336.89) rotate(-90) scale(0.9019,1)" font-family="'Liberation Sans', Arial, sans-serif" font-weight="normal" font-style="normal" font-size="12.33" fill="#000" stroke="#000" stroke-width="0.35">CGG</text>
<text transform="translate(813.40,2332.56) rotate(-90) scale(0.8890,1)" font-family="'Liberation Sans', Arial, sans-serif" font-weight="normal" font-style="normal" font-size="12.51" fill="#000" stroke="#000" stroke-width="0.35">TTA</text>
<text transform="translate(771.98,2324.59) rotate(-90) scale(0.9019,1)" font-family="'Liberation Sans', Arial, sans-serif" font-weight="normal" font-style="normal" font-size="12.33" fill="#000" stroke="#000" stroke-width="0.35">GAC</text>
<text transform="translate(751.27,2286.25) rotate(-90) scale(0.9019,1)" font-family="'Liberation Sans', Arial, sans-serif" font-weight="normal" font-style="normal" font-size="12.33" fill="#000" stroke="#000" stroke-width="0.35">GTC</text>
<text transform="translate(875.53,2353.77) rotate(-90) scale(0.8890,1)" font-family="'Liberation Sans', Arial, sans-serif" font-weight="normal" font-style="normal" font-size="12.51" fill="#000" stroke="#000" stroke-width="0.35">TAA</text>
<text transform="translate(896.24,2354.41) rotate(-90) scale(0.9019,1)" font-family="'Liberation Sans', Arial, sans-serif" font-weight="normal" font-style="normal" font-size="12.33" fill="#000" stroke="#000" stroke-width="0.35">TTG</text>
<text transform="translate(854.82,2333.44) rotate(-90) scale(0.8890,1)" font-family="'Liberation Sans', Arial, sans-serif" font-weight="normal" font-style="normal" font-size="12.51" fill="#000" stroke="#000" stroke-width="0.35">AAT</text>
<text transform="translate(834.11,2322.27) rotate(-90) scale(0.9019,1)" font-family="'Liberation Sans', Arial, sans-serif" font-weight="normal" font-style="normal" font-size="12.33" fill="#000" stroke="#000" stroke-width="0.35">CAC</text>
<text transform="translate(958.37,2351.37) rotate(-90) scale(0.9019,1)" font-family="'Liberation Sans', Arial, sans-serif" font-weight="normal" font-style="normal" font-size="12.33" fill="#000" stroke="#000" stroke-width="0.35">ACG</text>
<text transform="translate(979.08,2349.31) rotate(-90) scale(0.9019,1)" font-family="'Liberation Sans', Arial, sans-serif" font-weight="normal" font-style="normal" font-size="12.33" fill="#000" stroke="#000" stroke-width="0.35">TTC</text>
<text transform="translate(937.66,2317.78) rotate(-90) scale(0.9019,1)" font-family="'Liberation Sans', Arial, sans-serif" font-weight="normal" font-style="normal" font-size="12.33" fill="#000" stroke="#000" stroke-width="0.35">ATG</text>
<text transform="translate(916.95,2265.09) rotate(-90) scale(0.9019,1)" font-family="'Liberation Sans', Arial, sans-serif" font-weight="normal" font-style="normal" font-size="12.33" fill="#000" stroke="#000" stroke-width="0.35">ACT</text>
<line x1="1116.40" y1="2018.60" x2="1116.40" y2="2363.30" stroke="#4a4a4a" stroke-width="1.3" stroke-linecap="butt"/>
<line x1="1109.40" y1="2363.30" x2="1116.40" y2="2363.30" stroke="#4a4a4a" stroke-width="1.3" stroke-linecap="butt"/>
<text transform="translate(1102.80,2370.73) rotate(-90) scale(1.0000,1)" font-family="'Liberation Sans', Arial, sans-serif" font-weight="normal" font-style="normal" font-size="26.67" fill="#000">0</text>
<line x1="1109.40" y1="2293.35" x2="1116.40" y2="2293.35" stroke="#4a4a4a" stroke-width="1.3" stroke-linecap="butt"/>
<text transform="translate(1102.80,2300.75) rotate(-90) scale(1.0000,1)" font-family="'Liberation Sans', Arial, sans-serif" font-weight="normal" font-style="normal" font-size="26.67" fill="#000">2</text>
<line x1="1109.40" y1="2223.40" x2="1116.40" y2="2223.40" stroke="#4a4a4a" stroke-width="1.3" stroke-linecap="butt"/>
<text transform="translate(1102.80,2230.84) rotate(-90) scale(1.0000,1)" font-family="'Liberation Sans', Arial, sans-serif" font-weight="normal" font-style="normal" font-size="27.05" fill="#000">4</text>
<line x1="1109.40" y1="2153.45" x2="1116.40" y2="2153.45" stroke="#4a4a4a" stroke-width="1.3" stroke-linecap="butt"/>
<text transform="translate(1102.80,2160.95) rotate(-90) scale(1.0000,1)" font-family="'Liberation Sans', Arial, sans-serif" font-weight="normal" font-style="normal" font-size="26.67" fill="#000">6</text>
<line x1="1109.40" y1="2083.50" x2="1116.40" y2="2083.50" stroke="#4a4a4a" stroke-width="1.3" stroke-linecap="butt"/>
<text transform="translate(1102.80,2090.90) rotate(-90) scale(1.0000,1)" font-family="'Liberation Sans', Arial, sans-serif" font-weight="normal" font-style="normal" font-size="26.67" fill="#000">8</text>
<text transform="translate(1069.30,2264.12) rotate(-90) scale(1.0474,1)" font-family="'Liberation Sans', Arial, sans-serif" font-weight="normal" font-style="normal" font-size="24.55" fill="#000">Height</text>
<path d="M1193.72,2278.30V2305.80M1214.46,2278.30V2305.80M1193.72,2278.30H1214.46M1172.98,2195.10V2222.60M1204.09,2195.10V2278.30M1172.98,2195.10H1204.09M1152.24,2191.10V2218.60M1188.54,2191.10V2195.10M1152.24,2191.10H1188.54M1235.20,2271.20V2298.70M1255.94,2271.20V2298.70M1235.20,2271.20H1255.94M1297.42,2299.50V2327.00M1318.16,2299.50V2327.00M1297.42,2299.50H1318.16M1276.68,2192.20V2219.70M1307.79,2192.20V2299.50M1276.68,2192.20H1307.79M1245.57,2163.60V2271.20M1292.24,2163.60V2192.20M1245.57,2163.60H1292.24M1170.39,2133.90V2191.10M1268.90,2133.90V2163.60M1170.39,2133.90H1268.90M1338.90,2205.40V2232.90M1359.64,2205.40V2232.90M1338.90,2205.40H1359.64M1401.12,2308.10V2335.60M1421.86,2308.10V2335.60M1401.12,2308.10H1421.86M1380.38,2255.40V2282.90M1411.49,2255.40V2308.10M1380.38,2255.40H1411.49M1484.08,2273.20V2300.70M1504.82,2273.20V2300.70M1484.08,2273.20H1504.82M1463.34,2242.30V2269.80M1494.45,2242.30V2273.20M1463.34,2242.30H1494.45M1442.60,2185.70V2213.20M1478.89,2185.70V2242.30M1442.60,2185.70H1478.89M1395.93,2121.60V2255.40M1460.75,2121.60V2185.70M1395.93,2121.60H1460.75M1349.27,2113.00V2205.40M1428.34,2113.00V2121.60M1349.27,2113.00H1428.34M1219.64,2088.10V2133.90M1388.81,2088.10V2113.00M1219.64,2088.10H1388.81M1131.50,2032.00V2059.50M1304.23,2032.00V2088.10M1131.50,2032.00H1304.23" fill="none" stroke="#4a4a4a" stroke-width="1.3" stroke-linecap="square"/>
<text transform="translate(1196.52,2338.89) rotate(-90) scale(0.9019,1)" font-family="'Liberation Sans', Arial, sans-serif" font-weight="normal" font-style="normal" font-size="12.33" fill="#000" stroke="#000" stroke-width="0.35">GAC</text>
<text transform="translate(1217.26,2335.36) rotate(-90) scale(0.8890,1)" font-family="'Liberation Sans', Arial, sans-serif" font-weight="normal" font-style="normal" font-size="12.51" fill="#000" stroke="#000" stroke-width="0.35">TTA</text>
<text transform="translate(1175.78,2255.05) rotate(-90) scale(0.9019,1)" font-family="'Liberation Sans', Arial, sans-serif" font-weight="normal" font-style="normal" font-size="12.33" fill="#000" stroke="#000" stroke-width="0.35">GTC</text>
<text transform="translate(1155.04,2252.49) rotate(-90) scale(0.9019,1)" font-family="'Liberation Sans', Arial, sans-serif" font-weight="normal" font-style="normal" font-size="12.33" fill="#000" stroke="#000" stroke-width="0.35">CGG</text>
<text transform="translate(1238.00,2330.34) rotate(-90) scale(0.8890,1)" font-family="'Liberation Sans', Arial, sans-serif" font-weight="normal" font-style="normal" font-size="12.51" fill="#000" stroke="#000" stroke-width="0.35">AAA</text>
<text transform="translate(1258.74,2331.98) rotate(-90) scale(0.9019,1)" font-family="'Liberation Sans', Arial, sans-serif" font-weight="normal" font-style="normal" font-size="12.33" fill="#000" stroke="#000" stroke-width="0.35">CCG</text>
<text transform="translate(1300.22,2359.67) rotate(-90) scale(0.9019,1)" font-family="'Liberation Sans', Arial, sans-serif" font-weight="normal" font-style="normal" font-size="12.33" fill="#000" stroke="#000" stroke-width="0.35">ACG</text>
<text transform="translate(1320.96,2357.61) rotate(-90) scale(0.9019,1)" font-family="'Liberation Sans', Arial, sans-serif" font-weight="normal" font-style="normal" font-size="12.33" fill="#000" stroke="#000" stroke-width="0.35">TTC</text>
<text transform="translate(1279.48,2251.09) rotate(-90) scale(0.9019,1)" font-family="'Liberation Sans', Arial, sans-serif" font-weight="normal" font-style="normal" font-size="12.33" fill="#000" stroke="#000" stroke-width="0.35">ACT</text>
<text transform="translate(1341.70,2263.46) rotate(-90) scale(0.9019,1)" font-family="'Liberation Sans', Arial, sans-serif" font-weight="normal" font-style="normal" font-size="12.33" fill="#000" stroke="#000" stroke-width="0.35">CAT</text>
<text transform="translate(1362.44,2265.12) rotate(-90) scale(0.9019,1)" font-family="'Liberation Sans', Arial, sans-serif" font-weight="normal" font-style="normal" font-size="12.33" fill="#000" stroke="#000" stroke-width="0.35">TGA</text>
<text transform="translate(1403.92,2368.46) rotate(-90) scale(0.9019,1)" font-family="'Liberation Sans', Arial, sans-serif" font-weight="normal" font-style="normal" font-size="12.33" fill="#000" stroke="#000" stroke-width="0.35">CCA</text>
<text transform="translate(1424.66,2369.69) rotate(-90) scale(0.9019,1)" font-family="'Liberation Sans', Arial, sans-serif" font-weight="normal" font-style="normal" font-size="12.33" fill="#000" stroke="#000" stroke-width="0.35">GGA</text>
<text transform="translate(1383.18,2315.76) rotate(-90) scale(0.9019,1)" font-family="'Liberation Sans', Arial, sans-serif" font-weight="normal" font-style="normal" font-size="12.33" fill="#000" stroke="#000" stroke-width="0.35">GAA</text>
<text transform="translate(1486.88,2330.64) rotate(-90) scale(0.8890,1)" font-family="'Liberation Sans', Arial, sans-serif" font-weight="normal" font-style="normal" font-size="12.51" fill="#000" stroke="#000" stroke-width="0.35">AAT</text>
<text transform="translate(1507.62,2331.51) rotate(-90) scale(0.9019,1)" font-family="'Liberation Sans', Arial, sans-serif" font-weight="normal" font-style="normal" font-size="12.33" fill="#000" stroke="#000" stroke-width="0.35">TTG</text>
<text transform="translate(1466.14,2302.27) rotate(-90) scale(0.9019,1)" font-family="'Liberation Sans', Arial, sans-serif" font-weight="normal" font-style="normal" font-size="12.33" fill="#000" stroke="#000" stroke-width="0.35">CAC</text>
<text transform="translate(1445.40,2243.37) rotate(-90) scale(0.8890,1)" font-family="'Liberation Sans', Arial, sans-serif" font-weight="normal" font-style="normal" font-size="12.51" fill="#000" stroke="#000" stroke-width="0.35">TAA</text>
<text transform="translate(1134.30,2090.08) rotate(-90) scale(0.9019,1)" font-family="'Liberation Sans', Arial, sans-serif" font-weight="normal" font-style="normal" font-size="12.33" fill="#000" stroke="#000" stroke-width="0.35">ATG</text>
<line x1="1644.70" y1="2019.50" x2="1644.70" y2="2310.90" stroke="#4a4a4a" stroke-width="1.3" stroke-linecap="butt"/>
<line x1="1637.70" y1="2310.90" x2="1644.70" y2="2310.90" stroke="#4a4a4a" stroke-width="1.3" stroke-linecap="butt"/>
<text transform="translate(1628.60,2318.30) rotate(-90) scale(1.0000,1)" font-family="'Liberation Sans', Arial, sans-serif" font-weight="normal" font-style="normal" font-size="26.67" fill="#000">2</text>
<line x1="1637.70" y1="2234.73" x2="1644.70" y2="2234.73" stroke="#4a4a4a" stroke-width="1.3" stroke-linecap="butt"/>
<text transform="translate(1628.60,2242.17) rotate(-90) scale(1.0000,1)" font-family="'Liberation Sans', Arial, sans-serif" font-weight="normal" font-style="normal" font-size="27.05" fill="#000">4</text>
<line x1="1637.70" y1="2158.57" x2="1644.70" y2="2158.57" stroke="#4a4a4a" stroke-width="1.3" stroke-linecap="butt"/>
<text transform="translate(1628.60,2166.07) rotate(-90) scale(1.0000,1)" font-family="'Liberation Sans', Arial, sans-serif" font-weight="normal" font-style="normal" font-size="26.67" fill="#000">6</text>
<line x1="1637.70" y1="2082.40" x2="1644.70" y2="2082.40" stroke="#4a4a4a" stroke-width="1.3" stroke-linecap="butt"/>
<text transform="translate(1628.60,2089.80) rotate(-90) scale(1.0000,1)" font-family="'Liberation Sans', Arial, sans-serif" font-weight="normal" font-style="normal" font-size="26.67" fill="#000">8</text>
<text transform="translate(1595.50,2238.32) rotate(-90) scale(1.0474,1)" font-family="'Liberation Sans', Arial, sans-serif" font-weight="normal" font-style="normal" font-size="24.55" fill="#000">Height</text>
<path d="M1680.03,2276.00V2303.50M1700.76,2276.00V2303.50M1680.03,2276.00H1700.76M1659.30,2195.40V2222.90M1690.39,2195.40V2276.00M1659.30,2195.40H1690.39M1721.49,2306.90V2334.40M1742.22,2306.90V2334.40M1721.49,2306.90H1742.22M1804.41,2292.30V2319.80M1825.14,2292.30V2319.80M1804.41,2292.30H1825.14M1783.68,2243.40V2270.90M1814.77,2243.40V2292.30M1783.68,2243.40H1814.77M1762.95,2181.10V2208.60M1799.23,2181.10V2243.40M1762.95,2181.10H1799.23M1731.86,2144.50V2306.90M1781.09,2144.50V2181.10M1731.86,2144.50H1781.09M1674.85,2098.10V2195.40M1756.47,2098.10V2144.50M1674.85,2098.10H1756.47M1908.06,2231.70V2259.20M1928.79,2231.70V2259.20M1908.06,2231.70H1928.79M1887.33,2193.70V2221.20M1918.42,2193.70V2231.70M1887.33,2193.70H1918.42M1866.60,2170.20V2197.70M1902.88,2170.20V2193.70M1866.60,2170.20H1902.88M1949.52,2223.10V2250.60M1970.25,2223.10V2250.60M1949.52,2223.10H1970.25M2011.71,2310.90V2338.40M2032.44,2310.90V2338.40M2011.71,2310.90H2032.44M1990.98,2183.40V2210.90M2022.08,2183.40V2310.90M1990.98,2183.40H2022.08M1959.88,2163.90V2223.10M2006.53,2163.90V2183.40M1959.88,2163.90H2006.53M1884.74,2123.90V2170.20M1983.21,2123.90V2163.90M1884.74,2123.90H1983.21M1845.87,2057.20V2084.70M1933.97,2057.20V2123.90M1845.87,2057.20H1933.97M1715.66,2033.50V2098.10M1889.92,2033.50V2057.20M1715.66,2033.50H1889.92" fill="none" stroke="#4a4a4a" stroke-width="1.3" stroke-linecap="square"/>
<text transform="translate(1682.83,2336.36) rotate(-90) scale(0.9019,1)" font-family="'Liberation Sans', Arial, sans-serif" font-weight="normal" font-style="normal" font-size="12.33" fill="#000" stroke="#000" stroke-width="0.35">CCA</text>
<text transform="translate(1703.56,2337.59) rotate(-90) scale(0.9019,1)" font-family="'Liberation Sans', Arial, sans-serif" font-weight="normal" font-style="normal" font-size="12.33" fill="#000" stroke="#000" stroke-width="0.35">GGA</text>
<text transform="translate(1662.10,2255.76) rotate(-90) scale(0.9019,1)" font-family="'Liberation Sans', Arial, sans-serif" font-weight="normal" font-style="normal" font-size="12.33" fill="#000" stroke="#000" stroke-width="0.35">GAA</text>
<text transform="translate(1724.29,2364.96) rotate(-90) scale(0.9019,1)" font-family="'Liberation Sans', Arial, sans-serif" font-weight="normal" font-style="normal" font-size="12.33" fill="#000" stroke="#000" stroke-width="0.35">CAT</text>
<text transform="translate(1745.02,2366.62) rotate(-90) scale(0.9019,1)" font-family="'Liberation Sans', Arial, sans-serif" font-weight="normal" font-style="normal" font-size="12.33" fill="#000" stroke="#000" stroke-width="0.35">TGA</text>
<text transform="translate(1807.21,2349.74) rotate(-90) scale(0.8890,1)" font-family="'Liberation Sans', Arial, sans-serif" font-weight="normal" font-style="normal" font-size="12.51" fill="#000" stroke="#000" stroke-width="0.35">AAT</text>
<text transform="translate(1827.94,2350.61) rotate(-90) scale(0.9019,1)" font-family="'Liberation Sans', Arial, sans-serif" font-weight="normal" font-style="normal" font-size="12.33" fill="#000" stroke="#000" stroke-width="0.35">TTG</text>
<text transform="translate(1786.48,2303.37) rotate(-90) scale(0.9019,1)" font-family="'Liberation Sans', Arial, sans-serif" font-weight="normal" font-style="normal" font-size="12.33" fill="#000" stroke="#000" stroke-width="0.35">CAC</text>
<text transform="translate(1765.75,2238.77) rotate(-90) scale(0.8890,1)" font-family="'Liberation Sans', Arial, sans-serif" font-weight="normal" font-style="normal" font-size="12.51" fill="#000" stroke="#000" stroke-width="0.35">TAA</text>
<text transform="translate(1910.86,2292.29) rotate(-90) scale(0.9019,1)" font-family="'Liberation Sans', Arial, sans-serif" font-weight="normal" font-style="normal" font-size="12.33" fill="#000" stroke="#000" stroke-width="0.35">GAC</text>
<text transform="translate(1931.59,2291.65) rotate(-90) scale(0.9019,1)" font-family="'Liberation Sans', Arial, sans-serif" font-weight="normal" font-style="normal" font-size="12.33" fill="#000" stroke="#000" stroke-width="0.35">GTC</text>
<text transform="translate(1890.13,2255.09) rotate(-90) scale(0.9019,1)" font-family="'Liberation Sans', Arial, sans-serif" font-weight="normal" font-style="normal" font-size="12.33" fill="#000" stroke="#000" stroke-width="0.35">CGG</text>
<text transform="translate(1869.40,2227.26) rotate(-90) scale(0.8890,1)" font-family="'Liberation Sans', Arial, sans-serif" font-weight="normal" font-style="normal" font-size="12.51" fill="#000" stroke="#000" stroke-width="0.35">TTA</text>
<text transform="translate(1952.32,2282.24) rotate(-90) scale(0.8890,1)" font-family="'Liberation Sans', Arial, sans-serif" font-weight="normal" font-style="normal" font-size="12.51" fill="#000" stroke="#000" stroke-width="0.35">AAA</text>
<text transform="translate(1973.05,2283.88) rotate(-90) scale(0.9019,1)" font-family="'Liberation Sans', Arial, sans-serif" font-weight="normal" font-style="normal" font-size="12.33" fill="#000" stroke="#000" stroke-width="0.35">CCG</text>
<text transform="translate(2014.51,2371.07) rotate(-90) scale(0.9019,1)" font-family="'Liberation Sans', Arial, sans-serif" font-weight="normal" font-style="normal" font-size="12.33" fill="#000" stroke="#000" stroke-width="0.35">ACG</text>
<text transform="translate(2035.24,2369.01) rotate(-90) scale(0.9019,1)" font-family="'Liberation Sans', Arial, sans-serif" font-weight="normal" font-style="normal" font-size="12.33" fill="#000" stroke="#000" stroke-width="0.35">TTC</text>
<text transform="translate(1993.78,2242.29) rotate(-90) scale(0.9019,1)" font-family="'Liberation Sans', Arial, sans-serif" font-weight="normal" font-style="normal" font-size="12.33" fill="#000" stroke="#000" stroke-width="0.35">ACT</text>
<text transform="translate(1848.67,2115.28) rotate(-90) scale(0.9019,1)" font-family="'Liberation Sans', Arial, sans-serif" font-weight="normal" font-style="normal" font-size="12.33" fill="#000" stroke="#000" stroke-width="0.35">ATG</text>
<text transform="translate(82.96,2465.30) scale(1.1119,1)" font-family="'Liberation Sans', Arial, sans-serif" font-weight="bold" font-style="normal" font-size="44.51" fill="#231f20"><tspan fill="#7a3d9e">HW</tspan><tspan fill="#231f20">A</tspan><tspan fill="#e8161f">T</tspan></text>
<text transform="translate(236.95,2465.30) scale(1.1166,1)" font-family="'Liberation Sans', Arial, sans-serif" font-weight="bold" font-style="normal" font-size="44.51" fill="#231f20"><tspan fill="#231f20">HAT</tspan><tspan fill="#e8161f">H</tspan></text>
<text transform="translate(379.08,2465.30) scale(1.0778,1)" font-family="'Liberation Sans', Arial, sans-serif" font-weight="bold" font-style="normal" font-size="44.51" fill="#231f20"><tspan fill="#231f20">GOD</tspan></text>
<text transform="translate(152.10,2519.70) scale(1.0209,1)" font-family="'Liberation Sans', Arial, sans-serif" font-weight="bold" font-style="normal" font-size="44.51" fill="#231f20"><tspan fill="#231f20">WR</tspan><tspan fill="#7a3d9e">UO</tspan><tspan fill="#231f20">G</tspan><tspan fill="#e8161f">H</tspan><tspan fill="#231f20">T?</tspan></text>
<text transform="translate(638.30,2465.30) scale(1.1022,1)" font-family="'Liberation Sans', Arial, sans-serif" font-weight="bold" font-style="normal" font-size="44.51" fill="#231f20"><tspan fill="#231f20">W</tspan><tspan fill="#e8161f">H</tspan><tspan fill="#231f20">A</tspan><tspan fill="#e8161f">T</tspan></text>
<text transform="translate(795.53,2465.30) scale(1.0886,1)" font-family="'Liberation Sans', Arial, sans-serif" font-weight="bold" font-style="normal" font-size="44.51" fill="#231f20"><tspan fill="#231f20">HATH</tspan></text>
<text transform="translate(938.50,2465.30) scale(1.0686,1)" font-family="'Liberation Sans', Arial, sans-serif" font-weight="bold" font-style="normal" font-size="44.51" fill="#231f20"><tspan fill="#231f20">GOD</tspan></text>
<text transform="translate(708.70,2519.70) scale(1.0263,1)" font-family="'Liberation Sans', Arial, sans-serif" font-weight="bold" font-style="normal" font-size="44.51" fill="#231f20"><tspan fill="#231f20">WR</tspan><tspan fill="#7a3d9e">UO</tspan><tspan fill="#231f20">G</tspan><tspan fill="#e8161f">H</tspan><tspan fill="#231f20">T?</tspan></text>
<text transform="translate(1174.30,2465.30) scale(1.1037,1)" font-family="'Liberation Sans', Arial, sans-serif" font-weight="bold" font-style="normal" font-size="44.51" fill="#231f20"><tspan fill="#231f20">W</tspan><tspan fill="#e8161f">H</tspan><tspan fill="#231f20">A</tspan><tspan fill="#e8161f">T</tspan></text>
<text transform="translate(1329.79,2465.30) scale(1.1008,1)" font-family="'Liberation Sans', Arial, sans-serif" font-weight="bold" font-style="normal" font-size="44.51" fill="#231f20"><tspan fill="#231f20">HATH</tspan></text>
<text transform="translate(1474.19,2465.30) scale(1.0717,1)" font-family="'Liberation Sans', Arial, sans-serif" font-weight="bold" font-style="normal" font-size="44.51" fill="#231f20"><tspan fill="#231f20">GOD</tspan></text>
<text transform="translate(1244.70,2519.70) scale(1.0263,1)" font-family="'Liberation Sans', Arial, sans-serif" font-weight="bold" font-style="normal" font-size="44.51" fill="#231f20"><tspan fill="#231f20">WR</tspan><tspan fill="#7a3d9e">UO</tspan><tspan fill="#231f20">G</tspan><tspan fill="#e8161f">H</tspan><tspan fill="#231f20">T?</tspan></text>
<text transform="translate(1652.60,2465.30) scale(1.1076,1)" font-family="'Liberation Sans', Arial, sans-serif" font-weight="bold" font-style="normal" font-size="44.51" fill="#231f20"><tspan fill="#231f20">W</tspan><tspan fill="#e8161f">H</tspan><tspan fill="#231f20">A</tspan><tspan fill="#e8161f">T</tspan></text>
<text transform="translate(1808.79,2465.30) scale(1.1017,1)" font-family="'Liberation Sans', Arial, sans-serif" font-weight="bold" font-style="normal" font-size="44.51" fill="#231f20"><tspan fill="#231f20">HATH</tspan></text>
<text transform="translate(1953.19,2465.30) scale(1.0717,1)" font-family="'Liberation Sans', Arial, sans-serif" font-weight="bold" font-style="normal" font-size="44.51" fill="#231f20"><tspan fill="#231f20">GOD</tspan></text>
<text transform="translate(1723.30,2519.70) scale(1.0255,1)" font-family="'Liberation Sans', Arial, sans-serif" font-weight="bold" font-style="normal" font-size="44.51" fill="#231f20"><tspan fill="#231f20">WR</tspan><tspan fill="#7a3d9e">UO</tspan><tspan fill="#231f20">G</tspan><tspan fill="#e8161f">H</tspan><tspan fill="#231f20">T?</tspan></text>
<line x1="193.50" y1="2454.70" x2="224.60" y2="2454.70" stroke="#e8161f" stroke-width="1.6" stroke-linecap="butt"/>
<line x1="331.00" y1="2454.70" x2="367.90" y2="2454.70" stroke="#e8161f" stroke-width="1.6" stroke-linecap="butt"/>
<line x1="337.40" y1="2509.70" x2="374.20" y2="2509.70" stroke="#e8161f" stroke-width="1.6" stroke-linecap="butt"/>
<line x1="686.90" y1="2455.10" x2="783.60" y2="2455.10" stroke="#e8161f" stroke-width="1.6" stroke-linecap="butt"/>
<line x1="894.30" y1="2509.70" x2="930.90" y2="2509.70" stroke="#e8161f" stroke-width="1.6" stroke-linecap="butt"/>
<line x1="1223.00" y1="2455.10" x2="1319.50" y2="2455.10" stroke="#e8161f" stroke-width="1.6" stroke-linecap="butt"/>
<line x1="1430.50" y1="2509.70" x2="1467.00" y2="2509.70" stroke="#e8161f" stroke-width="1.6" stroke-linecap="butt"/>
<line x1="1701.20" y1="2455.00" x2="1797.90" y2="2455.00" stroke="#e8161f" stroke-width="1.6" stroke-linecap="butt"/>
<line x1="1908.70" y1="2509.70" x2="1945.30" y2="2509.70" stroke="#e8161f" stroke-width="1.6" stroke-linecap="butt"/>
</svg>
</body></html>
